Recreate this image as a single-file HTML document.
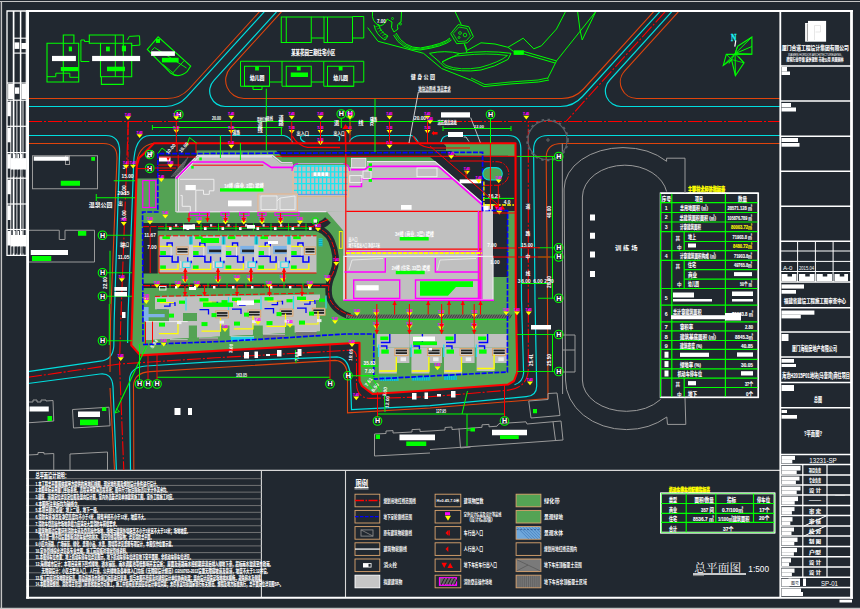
<!DOCTYPE html>
<html lang="zh"><head><meta charset="utf-8"><title>总平面图</title>
<style>
html,body{margin:0;padding:0;background:#212830;overflow:hidden}
svg{display:block}
text{font-family:"Liberation Sans","Noto Sans CJK SC",sans-serif}
.l{fill:none;stroke-width:1}
</style></head><body>
<svg width="860" height="609" viewBox="0 0 860 609">
<rect width="860" height="609" fill="#212830"/>
<!-- p20_bottom -->
<line x1="28" y1="470.4" x2="780" y2="470.4" stroke="#d8d8d8" stroke-width="1.2" />
<line x1="261.4" y1="470.4" x2="261.4" y2="597" stroke="#d8d8d8" stroke-width="1.1" />
<line x1="345.5" y1="470.4" x2="345.5" y2="597" stroke="#d8d8d8" stroke-width="1.1" />
<line x1="26" y1="478.7" x2="261.4" y2="478.7" stroke="#808080" stroke-width="0.85" />
<line x1="26" y1="485.42" x2="261.4" y2="485.42" stroke="#808080" stroke-width="0.85" />
<line x1="26" y1="492.14" x2="261.4" y2="492.14" stroke="#808080" stroke-width="0.85" />
<line x1="26" y1="498.86" x2="261.4" y2="498.86" stroke="#808080" stroke-width="0.85" />
<line x1="26" y1="505.58" x2="261.4" y2="505.58" stroke="#808080" stroke-width="0.85" />
<line x1="26" y1="512.3" x2="261.4" y2="512.3" stroke="#808080" stroke-width="0.85" />
<line x1="26" y1="519.02" x2="261.4" y2="519.02" stroke="#808080" stroke-width="0.85" />
<line x1="26" y1="525.74" x2="261.4" y2="525.74" stroke="#808080" stroke-width="0.85" />
<line x1="26" y1="532.46" x2="261.4" y2="532.46" stroke="#808080" stroke-width="0.85" />
<line x1="26" y1="539.18" x2="261.4" y2="539.18" stroke="#808080" stroke-width="0.85" />
<line x1="26" y1="545.9" x2="261.4" y2="545.9" stroke="#808080" stroke-width="0.85" />
<line x1="26" y1="552.62" x2="261.4" y2="552.62" stroke="#808080" stroke-width="0.85" />
<line x1="26" y1="559.34" x2="261.4" y2="559.34" stroke="#808080" stroke-width="0.85" />
<line x1="26" y1="566.06" x2="261.4" y2="566.06" stroke="#808080" stroke-width="0.85" />
<line x1="26" y1="572.78" x2="261.4" y2="572.78" stroke="#808080" stroke-width="0.85" />
<line x1="26" y1="579.5" x2="261.4" y2="579.5" stroke="#808080" stroke-width="0.85" />
<line x1="26" y1="586.22" x2="261.4" y2="586.22" stroke="#808080" stroke-width="0.85" />
<text x="35.5" y="478.1" font-size="7.2" fill="#ffffff" font-weight="bold" stroke="#fff" stroke-width="0.1" textLength="33.5" lengthAdjust="spacingAndGlyphs">总平面设计说明：</text>
<text x="35.5" y="485.5" font-size="5.9" fill="#ffffff" font-weight="bold" stroke="#fff" stroke-width="0.1" textLength="124.0" lengthAdjust="spacingAndGlyphs">1.本工程总平面图依据甲方提供的用地红线图、现状地形图及规划设计条件进行设计。</text>
<text x="35.5" y="492.22" font-size="5.9" fill="#ffffff" font-weight="bold" stroke="#fff" stroke-width="0.1" textLength="134.0" lengthAdjust="spacingAndGlyphs">2.本图坐标采用厦门坐标系统，高程采用黄海高程系统；图中尺寸标注除标高以米计外其余均。</text>
<text x="35.5" y="498.94" font-size="5.9" fill="#ffffff" font-weight="bold" stroke="#fff" stroke-width="0.1" textLength="140.0" lengthAdjust="spacingAndGlyphs">3.建筑、道路定位详见定位图及竖向设计图，室内外高差详见单体建筑施工图。室外工程施工时应。</text>
<text x="35.5" y="505.66" font-size="5.9" fill="#ffffff" font-weight="bold" stroke="#fff" stroke-width="0.1" textLength="45.5" lengthAdjust="spacingAndGlyphs">4.本图所注坐标均为轴线交。</text>
<text x="35.5" y="512.38" font-size="5.9" fill="#ffffff" font-weight="bold" stroke="#fff" stroke-width="0.1" textLength="64.5" lengthAdjust="spacingAndGlyphs">5.本项目耐火等级：地上二级，地下一级。</text>
<text x="35.5" y="519.1" font-size="5.9" fill="#ffffff" font-weight="bold" stroke="#fff" stroke-width="0.1" textLength="112.0" lengthAdjust="spacingAndGlyphs">6.消防车道净宽及净空高度均不小于4米，转弯半径不小于12米，坡度不大。</text>
<text x="35.5" y="525.82" font-size="5.9" fill="#ffffff" font-weight="bold" stroke="#fff" stroke-width="0.1" textLength="83.5" lengthAdjust="spacingAndGlyphs">7.消防车登高操作场地承载力应满足大型消防车荷载要求。</text>
<text x="35.5" y="532.54" font-size="5.9" fill="#ffffff" font-weight="bold" stroke="#fff" stroke-width="0.1" textLength="154.5" lengthAdjust="spacingAndGlyphs">8.建筑物周边设置环形消防车道及登高操作场地，场地与建筑外墙距离不小于5米且不大于10米；场地坡度。</text>
<text x="39.5" y="539.26" font-size="5.9" fill="#ffffff" font-weight="bold" stroke="#fff" stroke-width="0.1" textLength="114.0" lengthAdjust="spacingAndGlyphs">登高面一侧不得设置影响消防车操作的树木、架空管线等障碍物；详见消防总平面。</text>
<text x="35.5" y="545.98" font-size="5.9" fill="#ffffff" font-weight="bold" stroke="#fff" stroke-width="0.1" textLength="139.2" lengthAdjust="spacingAndGlyphs">9.小区内道路、广场铺装、绿化、景观小品、水景、围墙等详见景观专项设计，本图仅作位置示意。</text>
<text x="35.5" y="552.7" font-size="5.9" fill="#ffffff" font-weight="bold" stroke="#fff" stroke-width="0.1" textLength="93.8" lengthAdjust="spacingAndGlyphs">10.室外管线综合详见各专业总图，施工前应核对现状管线资料。</text>
<text x="35.5" y="559.42" font-size="5.9" fill="#ffffff" font-weight="bold" stroke="#fff" stroke-width="0.1" textLength="157.5" lengthAdjust="spacingAndGlyphs">11.本图停车位布置：地上机动车停车位详见图示，地下机动车停车位详见地下室平面图，非机动车停车位详见。</text>
<text x="35.5" y="566.14" font-size="5.9" fill="#ffffff" font-weight="bold" stroke="#fff" stroke-width="0.1" textLength="237.5" lengthAdjust="spacingAndGlyphs">12.海绵城市设计：本项目采用下凹式绿地、透水铺装、雨水调蓄池等低影响开发设施；      屋面及道路雨水经初期弃流后排入绿地下渗，超标雨水溢流至市政雨。</text>
<text x="41.6" y="572.86" font-size="5.9" fill="#ffffff" font-weight="bold" stroke="#fff" stroke-width="0.1" textLength="228.4" lengthAdjust="spacingAndGlyphs">无障碍设计：小区主要出入口、人行道、公共绿地及各单体入口均按《无障碍设计规范》GB50763-2012设置无障碍坡道及盲道，坡度不大于1:12并设。</text>
<text x="35.5" y="579.58" font-size="5.9" fill="#ffffff" font-weight="bold" stroke="#fff" stroke-width="0.1" textLength="228.5" lengthAdjust="spacingAndGlyphs">13.施工前应对场地现状标高、周边道路及市政接口标高进行复测，如与本图不符应及时通知设计单位协商处理；竖向设计应保证场地排水顺畅，避免积水及倒灌。</text>
<text x="35.5" y="586.3" font-size="5.9" fill="#ffffff" font-weight="bold" stroke="#fff" stroke-width="0.1" textLength="247.5" lengthAdjust="spacingAndGlyphs">14.本图须经规划、消防等主管部门审查批准后方可施工，施工中如有变更应征得设计单位同意；未尽事宜均按国家现行有关规范、规程及地方标准执行，总平面定位详见图SP-。</text>
<text x="355.5" y="486.5" font-size="9" fill="#ffffff" font-weight="bold" textLength="12.5" lengthAdjust="spacingAndGlyphs">图例</text>
<line x1="354.5" y1="487.6" x2="368.5" y2="487.6" stroke="#ffffff" stroke-width="1.2" />
<line x1="354.5" y1="489" x2="368.5" y2="489" stroke="#ffffff" stroke-width="0.6" />
<rect x="355" y="494.2" width="24.8" height="12.6" fill="none" stroke="#dca56e" stroke-width="0.9" />
<rect x="355" y="510.4" width="24.8" height="12.6" fill="none" stroke="#dca56e" stroke-width="0.9" />
<rect x="355" y="526.6" width="24.8" height="12.6" fill="none" stroke="#dca56e" stroke-width="0.9" />
<rect x="355" y="542.8" width="24.8" height="12.6" fill="none" stroke="#dca56e" stroke-width="0.9" />
<rect x="355" y="559.0" width="24.8" height="12.6" fill="none" stroke="#dca56e" stroke-width="0.9" />
<rect x="355" y="575.2" width="24.8" height="12.6" fill="#c6c6c6" stroke="#ffffff" stroke-width="0.9" />
<rect x="435.1" y="494.2" width="25.7" height="12.6" fill="none" stroke="#dca56e" stroke-width="0.9" />
<rect x="435.1" y="510.4" width="25.7" height="12.6" fill="none" stroke="#dca56e" stroke-width="0.9" />
<rect x="435.1" y="526.6" width="25.7" height="12.6" fill="none" stroke="#dca56e" stroke-width="0.9" />
<rect x="435.1" y="542.8" width="25.7" height="12.6" fill="none" stroke="#dca56e" stroke-width="0.9" />
<rect x="435.1" y="559.0" width="25.7" height="12.6" fill="none" stroke="#dca56e" stroke-width="0.9" />
<rect x="435.1" y="575.2" width="25.7" height="12.6" fill="none" stroke="#dca56e" stroke-width="0.9" />
<rect x="516.1" y="494.2" width="24.8" height="12.6" fill="#54a354" stroke="#dca56e" stroke-width="0.9" />
<rect x="516.1" y="510.4" width="24.8" height="12.6" fill="#54a354" stroke="#dca56e" stroke-width="0.9" />
<rect x="516.1" y="526.6" width="24.8" height="12.6" fill="#6fa8dc" stroke="#dca56e" stroke-width="0.9" />
<rect x="516.1" y="542.8" width="24.8" height="12.6" fill="none" stroke="#dca56e" stroke-width="0.9" />
<rect x="516.1" y="559.0" width="24.8" height="12.6" fill="#7a7a7a" stroke="#dca56e" stroke-width="0.9" />
<rect x="516.1" y="575.2" width="24.8" height="12.6" fill="#777777" stroke="#dca56e" stroke-width="0.9" />
<line x1="355" y1="500.5" x2="379.8" y2="500.5" stroke="#ff0000" stroke-width="1.6" stroke-dasharray="9 1.5 1.5 1.5"/>
<line x1="355" y1="516.7" x2="379.8" y2="516.7" stroke="#0000ff" stroke-width="1.3" stroke-dasharray="3.5 1.5"/>
<rect x="361" y="529.9" width="12" height="6.2" fill="none" stroke="#8a8a8a" stroke-width="0.9" />
<line x1="361" y1="529.9" x2="373" y2="536.1" stroke="#8a8a8a" stroke-width="0.8" />
<line x1="355" y1="549.1" x2="379.8" y2="549.1" stroke="#e8e8e8" stroke-width="1.4" />
<rect x="363" y="563.0999999999999" width="8.5" height="4.4" fill="#ffffff" />
<rect x="368.5" y="563.9" width="2.2" height="2.8" fill="#212830" />
<text x="436.5" y="502.3" font-size="3.6" fill="#ffffff" font-weight="bold" textLength="23" lengthAdjust="spacingAndGlyphs">H=0.45,7.0米</text>
<rect x="445" y="512.2" width="5" height="3" fill="#ff00ff" />
<path d="M445 515.7 L451 515.7 L448 520.7 Z" fill="#ffff00" stroke="none" stroke-width="0" />
<path d="M445.5 532.9 L448 530.3 L448 535.5 Z" fill="#ff0000" stroke="none" stroke-width="0" />
<rect x="448.4" y="530.3" width="1.4" height="5.2" fill="#ff0000" />
<path d="M445.5 549.1 L448.3 546.3000000000001 L448.3 551.9 Z" fill="#ff0000" stroke="none" stroke-width="0" />
<path d="M441.5 562.6999999999999 L447 562.6999999999999 L444.2 567.9 Z" fill="#ff0000" stroke="none" stroke-width="0" />
<path d="M447.5 567.9 L453 567.9 L450.2 562.6999999999999 Z" fill="#ff0000" stroke="none" stroke-width="0" />
<rect x="439.5" y="577.7" width="17" height="7.6" fill="#666" stroke="#ff00ff" stroke-width="1.2" />
<line x1="441.0" y1="584.9" x2="444.6" y2="578.1" stroke="#1a1a1a" stroke-width="0.9" />
<line x1="444.3" y1="584.9" x2="447.90000000000003" y2="578.1" stroke="#1a1a1a" stroke-width="0.9" />
<line x1="447.6" y1="584.9" x2="451.20000000000005" y2="578.1" stroke="#1a1a1a" stroke-width="0.9" />
<line x1="450.9" y1="584.9" x2="454.5" y2="578.1" stroke="#1a1a1a" stroke-width="0.9" />
<line x1="454.2" y1="584.9" x2="457.8" y2="578.1" stroke="#1a1a1a" stroke-width="0.9" />
<line x1="439.5" y1="584.8" x2="456.5" y2="584.8" stroke="#ff00ff" stroke-width="1" stroke-dasharray="1.5 1"/>
<line x1="517" y1="527.2" x2="529" y2="539.2" stroke="#3f77b8" stroke-width="0.7" />
<line x1="520" y1="527.2" x2="532" y2="539.2" stroke="#3f77b8" stroke-width="0.7" />
<line x1="523" y1="527.2" x2="535" y2="539.2" stroke="#3f77b8" stroke-width="0.7" />
<line x1="526" y1="527.2" x2="538" y2="539.2" stroke="#3f77b8" stroke-width="0.7" />
<line x1="529" y1="527.2" x2="540.4" y2="538.6" stroke="#3f77b8" stroke-width="0.7" />
<line x1="532" y1="527.2" x2="540.4" y2="535.6" stroke="#3f77b8" stroke-width="0.7" />
<line x1="535" y1="527.2" x2="540.4" y2="532.6" stroke="#3f77b8" stroke-width="0.7" />
<line x1="538" y1="527.2" x2="540.4" y2="529.6" stroke="#3f77b8" stroke-width="0.7" />
<line x1="541" y1="527.2" x2="540.4" y2="526.6" stroke="#3f77b8" stroke-width="0.7" />
<line x1="516.5" y1="529.6" x2="540.5" y2="529.6" stroke="#2a4f80" stroke-width="0.7" stroke-dasharray="2 1.5"/>
<line x1="516.5" y1="559.6" x2="540.5" y2="571.0" stroke="#555" stroke-width="0.7" />
<line x1="516.5" y1="571.0" x2="528" y2="565.0" stroke="#555" stroke-width="0.7" />
<line x1="518.0" y1="575.8000000000001" x2="518.0" y2="587.2" stroke="#555" stroke-width="0.6" />
<line x1="520.1" y1="575.8000000000001" x2="520.1" y2="587.2" stroke="#555" stroke-width="0.6" />
<line x1="522.2" y1="575.8000000000001" x2="522.2" y2="587.2" stroke="#555" stroke-width="0.6" />
<line x1="524.3" y1="575.8000000000001" x2="524.3" y2="587.2" stroke="#555" stroke-width="0.6" />
<line x1="526.4" y1="575.8000000000001" x2="526.4" y2="587.2" stroke="#555" stroke-width="0.6" />
<line x1="528.5" y1="575.8000000000001" x2="528.5" y2="587.2" stroke="#555" stroke-width="0.6" />
<line x1="530.6" y1="575.8000000000001" x2="530.6" y2="587.2" stroke="#555" stroke-width="0.6" />
<line x1="532.7" y1="575.8000000000001" x2="532.7" y2="587.2" stroke="#555" stroke-width="0.6" />
<line x1="534.8" y1="575.8000000000001" x2="534.8" y2="587.2" stroke="#555" stroke-width="0.6" />
<line x1="536.9" y1="575.8000000000001" x2="536.9" y2="587.2" stroke="#555" stroke-width="0.6" />
<line x1="539.0" y1="575.8000000000001" x2="539.0" y2="587.2" stroke="#555" stroke-width="0.6" />
<text x="383.4" y="502.5" font-size="5.4" fill="#ffffff" font-weight="bold" textLength="32.6" lengthAdjust="spacingAndGlyphs">规划用地红线范围线</text>
<text x="383.4" y="518.7" font-size="5.4" fill="#ffffff" font-weight="bold" textLength="28.6" lengthAdjust="spacingAndGlyphs">地下室轮廓线范围</text>
<text x="383.4" y="534.9" font-size="5.4" fill="#ffffff" font-weight="bold" textLength="28.6" lengthAdjust="spacingAndGlyphs">原有建筑物轮廓线</text>
<text x="383.4" y="551.1" font-size="5.4" fill="#ffffff" font-weight="bold" textLength="23.6" lengthAdjust="spacingAndGlyphs">建筑物轮廓线</text>
<text x="383.4" y="567.3" font-size="5.4" fill="#ffffff" font-weight="bold" textLength="13.6" lengthAdjust="spacingAndGlyphs">消火栓</text>
<text x="383.4" y="583.5" font-size="5.4" fill="#ffffff" font-weight="bold" textLength="19.0" lengthAdjust="spacingAndGlyphs">拟建建筑物</text>
<text x="463.8" y="502.5" font-size="5.4" fill="#ffffff" font-weight="bold" textLength="19.7" lengthAdjust="spacingAndGlyphs">建筑物层数</text>
<text x="463.8" y="515.9000000000001" font-size="5" fill="#ffffff" font-weight="bold" textLength="37.5" lengthAdjust="spacingAndGlyphs">室外设计标高及设计等高线</text>
<text x="469.5" y="521.3000000000001" font-size="4.6" fill="#ffffff" font-weight="bold" textLength="23" lengthAdjust="spacingAndGlyphs">(设计标高值)</text>
<text x="463.8" y="534.9" font-size="5.4" fill="#ffffff" font-weight="bold" textLength="19.2" lengthAdjust="spacingAndGlyphs">车行出入口</text>
<text x="463.8" y="551.1" font-size="5.4" fill="#ffffff" font-weight="bold" textLength="19.2" lengthAdjust="spacingAndGlyphs">人行出入口</text>
<text x="463.8" y="567.3" font-size="5.4" fill="#ffffff" font-weight="bold" textLength="33.2" lengthAdjust="spacingAndGlyphs">地下车库车行出入口</text>
<text x="463.8" y="583.5" font-size="5.4" fill="#ffffff" font-weight="bold" textLength="28.2" lengthAdjust="spacingAndGlyphs">消防登高操作场地</text>
<text x="544" y="502.5" font-size="5.4" fill="#ffffff" font-weight="bold" textLength="15.6" lengthAdjust="spacingAndGlyphs">绿化带</text>
<text x="544" y="518.7" font-size="5.4" fill="#ffffff" font-weight="bold" textLength="19" lengthAdjust="spacingAndGlyphs">景观绿地</text>
<text x="544" y="534.9" font-size="5.4" fill="#ffffff" font-weight="bold" textLength="19" lengthAdjust="spacingAndGlyphs">景观水体</text>
<text x="544" y="551.1" font-size="5.4" fill="#ffffff" font-weight="bold" textLength="33" lengthAdjust="spacingAndGlyphs">规划用地红线范围内</text>
<text x="544" y="567.3" font-size="5.4" fill="#ffffff" font-weight="bold" textLength="37.7" lengthAdjust="spacingAndGlyphs">地下车库顶板覆土范围</text>
<text x="544" y="583.5" font-size="5.4" fill="#ffffff" font-weight="bold" textLength="42.8" lengthAdjust="spacingAndGlyphs">地下车库非顶板覆土区域</text>
<!-- p30_tables -->
<text x="669" y="491.6" font-size="6" fill="#ffff00" font-weight="bold" lengthAdjust="spacingAndGlyphs" stroke="#ffff00" stroke-width="0.45" textLength="41">机动车停车位配建指标表</text>
<rect x="661.2" y="493.5" width="113.2" height="39" fill="none" stroke="#ffffff" stroke-width="1.6" />
<line x1="661.2" y1="503.5" x2="774.4" y2="503.5" stroke="#00ff00" stroke-width="1.2" />
<line x1="661.2" y1="513.3" x2="774.4" y2="513.3" stroke="#00ff00" stroke-width="1.2" />
<line x1="661.2" y1="522.4" x2="774.4" y2="522.4" stroke="#00ff00" stroke-width="1.2" />
<line x1="686.2" y1="493.5" x2="686.2" y2="532.5" stroke="#00ff00" stroke-width="1.2" />
<line x1="715.8" y1="493.5" x2="715.8" y2="522.4" stroke="#00ff00" stroke-width="1.2" />
<line x1="753.5" y1="493.5" x2="753.5" y2="522.4" stroke="#00ff00" stroke-width="1.2" />
<rect x="661.2" y="493.5" width="113.2" height="39" fill="none" stroke="#00ff00" stroke-width="0.7" />
<rect x="660.6" y="492.9" width="114.4" height="40.2" fill="none" stroke="#ffffff" stroke-width="0.8" />
<text x="669" y="502.1" font-size="5.9" fill="#ffffff" font-weight="bold" lengthAdjust="spacingAndGlyphs" stroke="#ffffff" stroke-width="0.12" textLength="8">类型</text>
<text x="694.4" y="502.1" font-size="5.9" fill="#ffffff" font-weight="bold" lengthAdjust="spacingAndGlyphs" stroke="#ffffff" stroke-width="0.12" textLength="19.4">面积/数量</text>
<text x="727" y="502.1" font-size="5.9" fill="#ffffff" font-weight="bold" lengthAdjust="spacingAndGlyphs" stroke="#ffffff" stroke-width="0.12" textLength="9">指标</text>
<text x="757" y="502.1" font-size="5.9" fill="#ffffff" font-weight="bold" lengthAdjust="spacingAndGlyphs" stroke="#ffffff" stroke-width="0.12" textLength="13">停车位</text>
<text x="669" y="511.5" font-size="5.9" fill="#ffffff" font-weight="bold" lengthAdjust="spacingAndGlyphs" stroke="#ffffff" stroke-width="0.12" textLength="8">商业</text>
<text x="701" y="511.5" font-size="5.9" fill="#ffffff" font-weight="bold" lengthAdjust="spacingAndGlyphs" stroke="#ffffff" stroke-width="0.12" textLength="12.8">357 间</text>
<text x="722" y="511.5" font-size="5.9" fill="#ffffff" font-weight="bold" lengthAdjust="spacingAndGlyphs" stroke="#ffffff" stroke-width="0.12" textLength="21">0.7/100㎡</text>
<text x="759.3" y="511.5" font-size="5.9" fill="#ffffff" font-weight="bold" lengthAdjust="spacingAndGlyphs" stroke="#ffffff" stroke-width="0.12" textLength="10.3">17个</text>
<text x="669" y="521.0999999999999" font-size="5.9" fill="#ffffff" font-weight="bold" lengthAdjust="spacingAndGlyphs" stroke="#ffffff" stroke-width="0.12" textLength="8">住宅</text>
<text x="693" y="521.0999999999999" font-size="5.9" fill="#ffffff" font-weight="bold" lengthAdjust="spacingAndGlyphs" stroke="#ffffff" stroke-width="0.12" textLength="20.8">8536.7 ㎡</text>
<text x="718" y="521.0999999999999" font-size="5.9" fill="#ffffff" font-weight="bold" lengthAdjust="spacingAndGlyphs" stroke="#ffffff" stroke-width="0.12" textLength="31.4">1/100㎡建筑面积</text>
<text x="759" y="520.0999999999999" font-size="5.9" fill="#ffffff" font-weight="bold" lengthAdjust="spacingAndGlyphs" stroke="#ffffff" stroke-width="0.12" textLength="10.3">20个</text>
<text x="669" y="530.5" font-size="5.9" fill="#ffffff" font-weight="bold" lengthAdjust="spacingAndGlyphs" stroke="#ffffff" stroke-width="0.12" textLength="8">合计</text>
<text x="723" y="530.5" font-size="5.9" fill="#ffffff" font-weight="bold" lengthAdjust="spacingAndGlyphs" stroke="#ffffff" stroke-width="0.12" textLength="10.5">37个</text>
<text x="694.2" y="572" font-size="11.8" fill="#ffffff" style="font-family:'Liberation Serif','Noto Serif CJK SC',serif" textLength="47" lengthAdjust="spacingAndGlyphs">总平面图</text>
<line x1="693" y1="574.1" x2="746" y2="574.1" stroke="#ffffff" stroke-width="1.5" />
<line x1="693" y1="575.6" x2="704" y2="575.6" stroke="#aaa" stroke-width="0.7" />
<text x="748.3" y="572" font-size="9" fill="#ffffff" textLength="20.7" lengthAdjust="spacingAndGlyphs">1:500</text>
<text x="688" y="191.9" font-size="6.4" fill="#ffff00" font-weight="bold" lengthAdjust="spacingAndGlyphs" stroke="#ffff00" stroke-width="0.45" textLength="37">主要技术经济指标表</text>
<rect x="660.5" y="193.2" width="97.79999999999995" height="204.2" fill="none" stroke="#ffffff" stroke-width="1.5" />
<line x1="660.5" y1="202.7" x2="758.3" y2="202.7" stroke="#00ff00" stroke-width="1.2" />
<line x1="660.5" y1="212.5" x2="758.3" y2="212.5" stroke="#00ff00" stroke-width="1.2" />
<line x1="660.5" y1="222" x2="758.3" y2="222" stroke="#00ff00" stroke-width="1.2" />
<line x1="660.5" y1="231.7" x2="758.3" y2="231.7" stroke="#00ff00" stroke-width="1.2" />
<line x1="660.5" y1="250.6" x2="758.3" y2="250.6" stroke="#00ff00" stroke-width="1.2" />
<line x1="660.5" y1="260.3" x2="758.3" y2="260.3" stroke="#00ff00" stroke-width="1.2" />
<line x1="660.5" y1="288.5" x2="758.3" y2="288.5" stroke="#00ff00" stroke-width="1.2" />
<line x1="660.5" y1="305.2" x2="758.3" y2="305.2" stroke="#00ff00" stroke-width="1.2" />
<line x1="660.5" y1="321.8" x2="758.3" y2="321.8" stroke="#00ff00" stroke-width="1.2" />
<line x1="660.5" y1="330.9" x2="758.3" y2="330.9" stroke="#00ff00" stroke-width="1.2" />
<line x1="660.5" y1="340.5" x2="758.3" y2="340.5" stroke="#00ff00" stroke-width="1.2" />
<line x1="660.5" y1="349.4" x2="758.3" y2="349.4" stroke="#00ff00" stroke-width="1.2" />
<line x1="660.5" y1="359.3" x2="758.3" y2="359.3" stroke="#00ff00" stroke-width="1.2" />
<line x1="660.5" y1="368.8" x2="758.3" y2="368.8" stroke="#00ff00" stroke-width="1.2" />
<line x1="660.5" y1="378.2" x2="758.3" y2="378.2" stroke="#00ff00" stroke-width="1.2" />
<line x1="684.2" y1="241.5" x2="758.3" y2="241.5" stroke="#00ff00" stroke-width="1.2" />
<line x1="684.2" y1="269.7" x2="758.3" y2="269.7" stroke="#00ff00" stroke-width="1.2" />
<line x1="684.2" y1="279.2" x2="758.3" y2="279.2" stroke="#00ff00" stroke-width="1.2" />
<line x1="684.2" y1="387.5" x2="758.3" y2="387.5" stroke="#00ff00" stroke-width="1.2" />
<line x1="671.8" y1="193.2" x2="671.8" y2="397.4" stroke="#00ff00" stroke-width="1.2" />
<line x1="725.4" y1="193.2" x2="725.4" y2="397.4" stroke="#00ff00" stroke-width="1.2" />
<line x1="684.2" y1="231.7" x2="684.2" y2="250.6" stroke="#00ff00" stroke-width="1.2" />
<line x1="684.2" y1="260.3" x2="684.2" y2="288.5" stroke="#00ff00" stroke-width="1.2" />
<line x1="684.2" y1="378.2" x2="684.2" y2="397.4" stroke="#00ff00" stroke-width="1.2" />
<line x1="660.5" y1="193.2" x2="660.5" y2="397.4" stroke="#00ff00" stroke-width="1" />
<line x1="660.5" y1="193.2" x2="758.3" y2="193.2" stroke="#ffffff" stroke-width="1.3" />
<line x1="758.3" y1="193.2" x2="758.3" y2="397.4" stroke="#ffffff" stroke-width="1.3" />
<line x1="660.5" y1="397.4" x2="758.3" y2="397.4" stroke="#ffffff" stroke-width="1.3" />
<text x="661.8" y="200.5" font-size="5.9" fill="#ffffff" font-weight="bold" lengthAdjust="spacingAndGlyphs" stroke="#ffffff" stroke-width="0.12" textLength="9.2">序号</text>
<text x="695" y="200.5" font-size="6.1000000000000005" fill="#ffffff" font-weight="bold" lengthAdjust="spacingAndGlyphs" stroke="#ffffff" stroke-width="0.12" textLength="8">项目</text>
<text x="738" y="200.5" font-size="5.9" fill="#ffffff" font-weight="bold" lengthAdjust="spacingAndGlyphs" stroke="#ffffff" stroke-width="0.12" textLength="9">数量</text>
<text x="664.7" y="209.8" font-size="5.2" fill="#ffffff" font-weight="bold">1</text>
<text x="680" y="210.10000000000002" font-size="6.1000000000000005" fill="#ffffff" font-weight="bold" lengthAdjust="spacingAndGlyphs" stroke="#ffffff" stroke-width="0.12" textLength="28">总用地面积 (㎡)</text>
<text x="727.5" y="210.10000000000002" font-size="5.9" fill="#ffffff" font-weight="bold" lengthAdjust="spacingAndGlyphs" stroke="#ffffff" stroke-width="0.12" textLength="24.5">28571.128 ㎡</text>
<text x="664.7" y="219.4" font-size="5.2" fill="#ffffff" font-weight="bold">2</text>
<text x="679.5" y="219.70000000000002" font-size="6.1000000000000005" fill="#ffffff" font-weight="bold" lengthAdjust="spacingAndGlyphs" stroke="#ffffff" stroke-width="0.12" textLength="36.5">总建筑面积面积 (㎡)</text>
<text x="727.5" y="219.70000000000002" font-size="5.9" fill="#ffffff" font-weight="bold" lengthAdjust="spacingAndGlyphs" stroke="#ffffff" stroke-width="0.12" textLength="24.5">105876.789 ㎡</text>
<text x="664.7" y="229" font-size="5.2" fill="#ffffff" font-weight="bold">3</text>
<text x="680" y="229.3" font-size="6.1000000000000005" fill="#ffffff" font-weight="bold" lengthAdjust="spacingAndGlyphs" stroke="#ffffff" stroke-width="0.12" textLength="21">计容建筑面积</text>
<text x="731" y="229.3" font-size="5.9" fill="#ffff00" font-weight="bold" lengthAdjust="spacingAndGlyphs" stroke="#ffff00" stroke-width="0.12" textLength="21">80003.72㎡</text>
<text x="688" y="238.9" font-size="6.1000000000000005" fill="#ffffff" font-weight="bold" lengthAdjust="spacingAndGlyphs" stroke="#ffffff" stroke-width="0.12" textLength="8">地上</text>
<text x="732.5" y="238.9" font-size="5.9" fill="#ffffff" font-weight="bold" lengthAdjust="spacingAndGlyphs" stroke="#ffffff" stroke-width="0.12" textLength="19.5">71903.8 ㎡</text>
<rect x="688" y="243.5" width="8" height="4.0" fill="#ffffff" />
<text x="733" y="248.3" font-size="5.9" fill="#ffff00" font-weight="bold" lengthAdjust="spacingAndGlyphs" stroke="#ffff00" stroke-width="0.12" textLength="19">8480.72㎡</text>
<text x="664.7" y="257.6" font-size="5.2" fill="#ffffff" font-weight="bold">4</text>
<text x="680" y="257.90000000000003" font-size="6.1000000000000005" fill="#ffffff" font-weight="bold" lengthAdjust="spacingAndGlyphs" stroke="#ffffff" stroke-width="0.12" textLength="36">计容建筑面积构成 (㎡)</text>
<text x="734" y="257.90000000000003" font-size="5.9" fill="#ffffff" font-weight="bold" lengthAdjust="spacingAndGlyphs" stroke="#ffffff" stroke-width="0.12" textLength="18">71903.8㎡</text>
<text x="688" y="267.3" font-size="6.1000000000000005" fill="#ffffff" font-weight="bold" lengthAdjust="spacingAndGlyphs" stroke="#ffffff" stroke-width="0.12" textLength="8">住宅</text>
<text x="734" y="267.3" font-size="5.9" fill="#ffffff" font-weight="bold" lengthAdjust="spacingAndGlyphs" stroke="#ffffff" stroke-width="0.12" textLength="18">49765.8㎡</text>
<text x="688" y="276.90000000000003" font-size="6.1000000000000005" fill="#ffffff" font-weight="bold" lengthAdjust="spacingAndGlyphs" stroke="#ffffff" stroke-width="0.12" textLength="9">商业</text>
<rect x="734" y="272.1" width="18" height="4.0" fill="#ffffff" />
<text x="688" y="286.3" font-size="6.1000000000000005" fill="#ffffff" font-weight="bold" lengthAdjust="spacingAndGlyphs" stroke="#ffffff" stroke-width="0.12" textLength="11">幼儿园</text>
<text x="740" y="286.3" font-size="5.9" fill="#ffffff" font-weight="bold" lengthAdjust="spacingAndGlyphs" stroke="#ffffff" stroke-width="0.12" textLength="12">50个 ㎡</text>
<text x="675.5" y="239.5" font-size="4.6" fill="#ffffff" font-weight="bold">其</text>
<text x="677" y="248.5" font-size="4.6" fill="#ffffff" font-weight="bold">中</text>
<text x="675.5" y="268" font-size="4.6" fill="#ffffff" font-weight="bold">其</text>
<text x="677" y="285.5" font-size="4.6" fill="#ffffff" font-weight="bold">中</text>
<text x="675.5" y="386" font-size="4.6" fill="#ffffff" font-weight="bold">其</text>
<text x="677" y="396" font-size="4.6" fill="#ffffff" font-weight="bold">中</text>
<text x="664.7" y="299.5" font-size="5.2" fill="#ffffff" font-weight="bold">5</text>
<rect x="673" y="292.5" width="21" height="5.0" fill="#ffffff" />
<rect x="673" y="299" width="39" height="2.5" fill="#ffffff" />
<rect x="732" y="291.5" width="21" height="4.5" fill="#ffffff" />
<rect x="732" y="299" width="21" height="2.5" fill="#ffffff" />
<text x="664.7" y="316" font-size="5.2" fill="#ffffff" font-weight="bold">6</text>
<text x="673" y="313.8" font-size="6.1000000000000005" fill="#ffffff" font-weight="bold" lengthAdjust="spacingAndGlyphs" stroke="#ffffff" stroke-width="0.12" textLength="28.5">总计容建筑面积</text>
<rect x="671" y="315.2" width="55" height="4.0" fill="#ffffff" />
<rect x="725" y="313" width="16" height="7.5" fill="#ffffff" />
<text x="732" y="316.3" font-size="5.9" fill="#ffffff" font-weight="bold" lengthAdjust="spacingAndGlyphs" stroke="#ffffff" stroke-width="0.12" textLength="21">71903.8 ㎡</text>
<text x="664.4" y="329.1" font-size="6" fill="#ffffff" font-weight="bold">7</text>
<text x="680" y="329.1" font-size="6.1000000000000005" fill="#ffffff" font-weight="bold" lengthAdjust="spacingAndGlyphs" stroke="#ffffff" stroke-width="0.12" textLength="13">容积率</text>
<text x="745" y="329.1" font-size="5.9" fill="#ffffff" font-weight="bold" lengthAdjust="spacingAndGlyphs" stroke="#ffffff" stroke-width="0.12" textLength="8">2.80</text>
<text x="664.4" y="338.7" font-size="6" fill="#ffffff" font-weight="bold">8</text>
<text x="680" y="338.7" font-size="6.1000000000000005" fill="#ffffff" font-weight="bold" lengthAdjust="spacingAndGlyphs" stroke="#ffffff" stroke-width="0.12" textLength="36">建筑基底面积 (㎡)</text>
<text x="735" y="338.7" font-size="5.9" fill="#ffffff" font-weight="bold" lengthAdjust="spacingAndGlyphs" stroke="#ffffff" stroke-width="0.12" textLength="18">8845.3㎡</text>
<text x="664.4" y="347.90000000000003" font-size="6" fill="#ffffff" font-weight="bold">9</text>
<text x="680" y="347.90000000000003" font-size="6.1000000000000005" fill="#ffffff" font-weight="bold" lengthAdjust="spacingAndGlyphs" stroke="#ffffff" stroke-width="0.12" textLength="22">建筑密度 (%)</text>
<text x="741" y="347.90000000000003" font-size="5.9" fill="#ffffff" font-weight="bold" lengthAdjust="spacingAndGlyphs" stroke="#ffffff" stroke-width="0.12" textLength="12">40.85</text>
<rect x="664.5" y="351.7" width="4.0" height="6.0" fill="#ffffff" />
<rect x="680" y="352.7" width="29" height="4.2" fill="#ffffff" />
<rect x="737" y="352.4" width="16" height="4.3" fill="#ffffff" />
<rect x="664.5" y="361.1" width="4.0" height="6.0" fill="#ffffff" />
<text x="680" y="366.90000000000003" font-size="6.1000000000000005" fill="#ffffff" font-weight="bold" lengthAdjust="spacingAndGlyphs" stroke="#ffffff" stroke-width="0.12" textLength="21">绿地率 (%)</text>
<text x="741" y="366.90000000000003" font-size="5.9" fill="#ffffff" font-weight="bold" lengthAdjust="spacingAndGlyphs" stroke="#ffffff" stroke-width="0.12" textLength="12">30.05</text>
<rect x="664.5" y="370.5" width="4.0" height="6.0" fill="#ffffff" />
<text x="677.5" y="376.3" font-size="6.1000000000000005" fill="#ffffff" font-weight="bold" lengthAdjust="spacingAndGlyphs" stroke="#ffffff" stroke-width="0.12" textLength="24.5">机动车停车位</text>
<rect x="741" y="371.2" width="12" height="4.3" fill="#ffffff" />
<rect x="688" y="381.1" width="8" height="4.2" fill="#ffffff" />
<text x="745" y="385.90000000000003" font-size="5.9" fill="#ffffff" font-weight="bold" lengthAdjust="spacingAndGlyphs" stroke="#ffffff" stroke-width="0.12" textLength="8">37个</text>
<text x="688" y="395.5" font-size="6.1000000000000005" fill="#ffffff" font-weight="bold" lengthAdjust="spacingAndGlyphs" stroke="#ffffff" stroke-width="0.12" textLength="9">地下</text>
<text x="746" y="395.5" font-size="5.9" fill="#ffffff" font-weight="bold" lengthAdjust="spacingAndGlyphs" stroke="#ffffff" stroke-width="0.12" textLength="7">0个</text>
<!-- p40_roads -->
<path d="M28 98.5 L167.3 98.5 A29.5 29.5 0 0 0 189 89 L259.3 11.9" fill="none" stroke="#e0440c" stroke-width="1.1" />
<path d="M28 106.5 L166 106.5 A29 29 0 0 0 186.5 97.2 L264.2 11.9" fill="none" stroke="#00dede" stroke-width="1.2" />
<path d="M276.5 11.9 L214 80.4 A15.4 15.4 0 0 0 225.5 106.5 L560 106.5 A30 30 0 0 0 582.5 96.5 L659.6 11.9" fill="none" stroke="#00dede" stroke-width="1.2" />
<path d="M281.4 11.9 L230.4 67.9 A18.3 18.3 0 0 0 244 98.5 L560.8 98.5 A30 30 0 0 0 583.5 89 L653.5 11.9" fill="none" stroke="#e0440c" stroke-width="1.1" />
<path d="M671.6 11.9 L609.8 80 A15.6 15.6 0 0 0 621.3 106.5 L780 106.5" fill="none" stroke="#00dede" stroke-width="1.2" />
<path d="M678.3 11.9 L624.5 71.2 A16.4 16.4 0 0 0 636.7 98.5 L780 98.5" fill="none" stroke="#e0440c" stroke-width="1.1" />
<line x1="28" y1="121.5" x2="780" y2="121.5" stroke="#ff0000" stroke-width="1.1" stroke-dasharray="14 2 2 2"/>
<path d="M665 11.9 L566 121.5" fill="none" stroke="#ff0000" stroke-width="1.1" stroke-dasharray="14 2 2 2"/>
<path d="M28 135.5 L106 135.5 Q119.8 135.5 119.6 152 L114.2 320 L113.8 346 Q113 360 100 361.2 L28 371.6" fill="none" stroke="#00dede" stroke-width="1.2" />
<path d="M28 143.5 L103 143.5 Q117.3 143.5 117 158 L110.5 320 L110 348 Q109 364 96 366 L28 376" fill="none" stroke="#e0440c" stroke-width="1.1" opacity="0"/>
<path d="M28 143.5 L103 143.5 Q117.3 143.5 117 158 L110.5 320 L110 372" fill="none" stroke="#e0440c" stroke-width="1.1" />
<path d="M127.6 343 L127.9 320 L133.6 165 Q134.2 136 150 135.5 L284 135.5 Q290 137 293 143 L298 150" fill="none" stroke="#00dede" stroke-width="1.2" />
<path d="M305.5 142.5 Q300 140 300.5 137 Q301 135.5 305 135.5 L337 135.5 Q341 136 339 141" fill="none" stroke="#00dede" stroke-width="1.2" />
<path d="M349.3 141.8 Q352 136 360.3 135.5 L411.4 135.5 Q416.5 137 419.2 145" fill="none" stroke="#00dede" stroke-width="1.2" />
<path d="M441 142 Q442 136 448 135.5 L508 135.5 Q520.5 135.5 520.8 148 L521.5 300 L523.6 373 Q523 382 514.5 384.8" fill="none" stroke="#00dede" stroke-width="1.2" />
<path d="M780 135.5 L548 135.5 Q533.5 135.5 533.6 150 L535 300 L536.7 386 Q536.5 396 526.3 396.6 L430 405.6 L351.5 409.5 L350.5 379 Q350 358 337 356.8 L215 361.6 L146 366 Q130 367 129.5 380 L130.5 470" fill="none" stroke="#00dede" stroke-width="1.2" />
<path d="M780 143.5 L562 143.5 Q546 143.5 546.2 158 L547.5 304 L548 398.5 L430 408 L347.5 412.8 L347.5 376.5 Q347 361 335 360.4 L215 367.8 L150 371.6 Q134 372.6 133.5 386 L133.8 470" fill="none" stroke="#e0440c" stroke-width="1.1" />
<path d="M136.3 166 Q137.5 146 153.6 143.3" fill="none" stroke="#e0440c" stroke-width="1.1" />
<path d="M128.3 121.5 L120.8 320 L119.5 364 L123.8 470" fill="none" stroke="#ff0000" stroke-width="1.1" stroke-dasharray="14 2 2 2"/>
<path d="M28 383.5 L100 374 Q112 372.4 113 386.5 L116.4 470" fill="none" stroke="#00dede" stroke-width="1.2" />
<path d="M28 377.3 L119.5 364 L215 357.8 L350 350.2 Q356.5 350 356.5 357 L356.5 384 Q357 398 370 398.4 L430 396.8 L505 390.5 Q528.3 389 528.3 368 L528.3 121.5" fill="none" stroke="#ff0000" stroke-width="1.1" stroke-dasharray="14 2 2 2"/>
<path d="M110 388 L114.5 470" fill="none" stroke="#e0440c" stroke-width="1.1" />
<!-- p50_site -->
<path d="M154 143.3 L515.5 143.3 L515.8 300 L517.3 372 L514 381 L508 384.5 L430 390.3 L372.5 394 L362 386 L359.5 381 L359.5 342.8 L285 346.9 L225 350.4 L140.3 355.4 L131.3 345.3 L136.8 166 L139 158 L144 153.4 Z" fill="#54a354" stroke="none" stroke-width="0" />
<path d="M154 143.3 L196 143.3 L196 152 L197 156 L176 178.6 L159 178.6 L137 178.6 L136.8 166 L139 158 L144 153.4 Z" fill="#212830" stroke="none" stroke-width="0" />
<rect x="196" y="143.3" width="250" height="7.1" fill="#212830" />
<path d="M276 150.4 L436 150.4 L443 157.2 L282 157.2 Z" fill="#212830" stroke="none" stroke-width="0" />
<path d="M436 151 L482 151 L482 152.5 L508 152.5 L508 210.5 L482.6 210.5 L482.6 203.7 L441 166 L430 157 Z" fill="#212830" stroke="none" stroke-width="0" />
<path d="M443 143.3 L515.5 143.3 L515.5 155.7 L456 155.7 Z" fill="#54a354" stroke="none" stroke-width="0" />
<rect x="507.6" y="156" width="7.9" height="55" fill="#212830" />
<rect x="493" y="210.5" width="14.6" height="66.5" fill="#212830" />
<rect x="142.6" y="227.5" width="15.1" height="46.0" fill="#212830" />
<path d="M143 226.9 L312 226.9 Q322 226.5 328 220" fill="none" stroke="#212830" stroke-width="7.8" />
<path d="M312 226.8 Q326 229 331.5 241 Q339 259 333 273 Q326.5 286 329.5 298 Q334 311 350 316.5" fill="none" stroke="#212830" stroke-width="6.5" />
<path d="M143 285.8 L328 285.8" fill="none" stroke="#212830" stroke-width="4.6" />
<!-- p55_bldg -->
<path d="M178 180 L178 177.6 L198.3 156.3 L272 156.3 L281 163.5 L293 163.5 L293 197 L347 197 L347 212 L326.5 211.4 L178 211.6 Z" fill="#c0c0c0" stroke="none" stroke-width="0" />
<path d="M346 167 L367 167 L367 161.8 L434.8 161.8 L482.6 203 L482.6 300 L343.2 300 L343.2 230.5 L326.5 211.2 L346 211.2 Z" fill="#c0c0c0" stroke="none" stroke-width="0" />
<rect x="482.6" y="204" width="10.4" height="96" fill="#cfcfcf" />
<rect x="351.5" y="158.3" width="14.4" height="9.2" fill="#c0c0c0" stroke="#eee" stroke-width="0.8" />
<path d="M293 196.4 L293 169 Q293.5 165 298 165 L343.5 165 Q348 165 348.5 169 L348.5 196.4 Z" fill="#c0c0c0" stroke="none" stroke-width="0" />
<line x1="297.8" y1="165.3" x2="297.8" y2="195" stroke="#19e6f0" stroke-width="1.3" />
<line x1="301.7" y1="165.3" x2="301.7" y2="195" stroke="#19e6f0" stroke-width="1.3" />
<line x1="306.3" y1="165.3" x2="306.3" y2="195" stroke="#19e6f0" stroke-width="1.3" />
<line x1="310.6" y1="165.3" x2="310.6" y2="195" stroke="#19e6f0" stroke-width="1.3" />
<line x1="314.7" y1="165.3" x2="314.7" y2="195" stroke="#19e6f0" stroke-width="1.3" />
<line x1="318.6" y1="165.3" x2="318.6" y2="195" stroke="#19e6f0" stroke-width="1.3" />
<line x1="322.5" y1="165.3" x2="322.5" y2="195" stroke="#19e6f0" stroke-width="1.3" />
<line x1="326.6" y1="165.3" x2="326.6" y2="195" stroke="#19e6f0" stroke-width="1.3" />
<line x1="330.7" y1="165.3" x2="330.7" y2="195" stroke="#19e6f0" stroke-width="1.3" />
<line x1="334.6" y1="165.3" x2="334.6" y2="195" stroke="#19e6f0" stroke-width="1.3" />
<line x1="338.5" y1="165.3" x2="338.5" y2="195" stroke="#19e6f0" stroke-width="1.3" />
<line x1="342.6" y1="165.3" x2="342.6" y2="195" stroke="#19e6f0" stroke-width="1.3" />
<line x1="294" y1="166" x2="347.5" y2="166" stroke="#19e6f0" stroke-width="1.3" />
<line x1="294" y1="171.9" x2="347.5" y2="171.9" stroke="#19e6f0" stroke-width="1.3" />
<line x1="294" y1="177.5" x2="347.5" y2="177.5" stroke="#19e6f0" stroke-width="1.3" />
<line x1="294" y1="183.6" x2="347.5" y2="183.6" stroke="#19e6f0" stroke-width="1.3" />
<line x1="294" y1="190.3" x2="347.5" y2="190.3" stroke="#19e6f0" stroke-width="1.3" />
<line x1="297" y1="194.4" x2="347" y2="194.4" stroke="#5a8ff0" stroke-width="1" />
<path d="M293 170 L293 196.8 L348.5 196.8 L348.5 170" fill="none" stroke="#f0b98c" stroke-width="1.1" />
<path d="M292 171 Q292 164 298 163.6" fill="none" stroke="#ff00ff" stroke-width="1.1" />
<path d="M343.5 163.6 Q349.5 164 349.5 171" fill="none" stroke="#ff00ff" stroke-width="1.1" />
<path d="M298 163.6 L343.5 163.6" fill="none" stroke="#c9a0e0" stroke-width="1" />
<rect x="313.6" y="172.3" width="2.9" height="3.8" fill="#ffffff" />
<rect x="317.5" y="172.3" width="2.9" height="3.8" fill="#ffffff" />
<rect x="321.40000000000003" y="172.3" width="2.9" height="3.8" fill="#ffffff" />
<rect x="325.3" y="172.3" width="2.9" height="3.8" fill="#ffffff" />
<!-- p60_resi -->
<rect x="159" y="235.8" width="157.5" height="37.0" fill="#c0c0c0" />
<path d="M167.1 246.4 v-3.4 h5.1 v3.4" fill="none" stroke="#0000ff" stroke-width="1.4" />
<path d="M159.0 256.2 h13.2 v5.8 h5.8 v-5.8" fill="none" stroke="#0000ff" stroke-width="1.5" />
<path d="M187.8 257.3 v5.2 h3.4 v-5.2" fill="none" stroke="#0000ff" stroke-width="1.4" />
<path d="M159.0 246.4 h13.2" fill="none" stroke="#ffff00" stroke-width="1.3" />
<path d="M159.0 269.40000000000003 h19 v-5.8" fill="none" stroke="#ffff00" stroke-width="1.3" />
<rect x="162.4" y="236.20000000000002" width="7.5" height="2.9" fill="#00ff00" />
<rect x="160.2" y="251.0" width="5.7" height="4" fill="#00ff00" />
<rect x="160.2" y="265.40000000000003" width="5.7" height="3.4" fill="#00ff00" />
<line x1="171.1" y1="247.3" x2="171.1" y2="255.8" stroke="#f0f0f0" stroke-width="0.8" />
<rect x="176.3" y="247" width="12.3" height="7.5" fill="#cfcfcf" stroke="#e0a060" stroke-width="0.9" />
<rect x="177.3" y="248.2" width="10.3" height="1.8" fill="#222" />
<rect x="177.3" y="250.8" width="10.3" height="1.8" fill="#222" />
<path d="M199.79999999999998 246.4 v-3.4 h5.1 v3.4" fill="none" stroke="#0000ff" stroke-width="1.4" />
<path d="M191.7 256.2 h13.2 v5.8 h5.8 v-5.8" fill="none" stroke="#0000ff" stroke-width="1.5" />
<path d="M220.5 257.3 v5.2 h3.4 v-5.2" fill="none" stroke="#0000ff" stroke-width="1.4" />
<path d="M191.7 246.4 h13.2" fill="none" stroke="#ffff00" stroke-width="1.3" />
<path d="M191.7 269.40000000000003 h19 v-5.8" fill="none" stroke="#ffff00" stroke-width="1.3" />
<rect x="195.1" y="236.20000000000002" width="7.5" height="2.9" fill="#00ff00" />
<rect x="192.89999999999998" y="251.0" width="5.7" height="4" fill="#00ff00" />
<rect x="192.89999999999998" y="265.40000000000003" width="5.7" height="3.4" fill="#00ff00" />
<line x1="203.79999999999998" y1="247.3" x2="203.79999999999998" y2="255.8" stroke="#f0f0f0" stroke-width="0.8" />
<rect x="207.3" y="245.9" width="15.8" height="8.1" fill="#7fb2e6" />
<rect x="209.10000000000002" y="249.6" width="12.200000000000001" height="2.6" fill="#222" />
<path d="M232.5 246.4 v-3.4 h5.1 v3.4" fill="none" stroke="#0000ff" stroke-width="1.4" />
<path d="M224.4 256.2 h13.2 v5.8 h5.8 v-5.8" fill="none" stroke="#0000ff" stroke-width="1.5" />
<path d="M253.20000000000002 257.3 v5.2 h3.4 v-5.2" fill="none" stroke="#0000ff" stroke-width="1.4" />
<path d="M224.4 246.4 h13.2" fill="none" stroke="#ffff00" stroke-width="1.3" />
<path d="M224.4 269.40000000000003 h19 v-5.8" fill="none" stroke="#ffff00" stroke-width="1.3" />
<rect x="227.8" y="236.20000000000002" width="7.5" height="2.9" fill="#00ff00" />
<rect x="225.6" y="251.0" width="5.7" height="4" fill="#00ff00" />
<rect x="225.6" y="265.40000000000003" width="5.7" height="3.4" fill="#00ff00" />
<line x1="236.5" y1="247.3" x2="236.5" y2="255.8" stroke="#f0f0f0" stroke-width="0.8" />
<rect x="240.20000000000002" y="245.9" width="15.8" height="8.1" fill="#7fb2e6" />
<rect x="242.00000000000003" y="249.6" width="12.200000000000001" height="2.6" fill="#222" />
<path d="M265.20000000000005 246.4 v-3.4 h5.1 v3.4" fill="none" stroke="#0000ff" stroke-width="1.4" />
<path d="M257.1 256.2 h13.2 v5.8 h5.8 v-5.8" fill="none" stroke="#0000ff" stroke-width="1.5" />
<path d="M285.90000000000003 257.3 v5.2 h3.4 v-5.2" fill="none" stroke="#0000ff" stroke-width="1.4" />
<path d="M257.1 246.4 h13.2" fill="none" stroke="#ffff00" stroke-width="1.3" />
<path d="M257.1 269.40000000000003 h19 v-5.8" fill="none" stroke="#ffff00" stroke-width="1.3" />
<rect x="260.5" y="236.20000000000002" width="7.5" height="2.9" fill="#00ff00" />
<rect x="258.3" y="251.0" width="5.7" height="4" fill="#00ff00" />
<rect x="258.3" y="265.40000000000003" width="5.7" height="3.4" fill="#00ff00" />
<line x1="269.20000000000005" y1="247.3" x2="269.20000000000005" y2="255.8" stroke="#f0f0f0" stroke-width="0.8" />
<rect x="273.1" y="245.9" width="15.8" height="8.1" fill="#7fb2e6" />
<rect x="274.90000000000003" y="249.6" width="12.200000000000001" height="2.6" fill="#222" />
<path d="M297.90000000000003 246.4 v-3.4 h5.1 v3.4" fill="none" stroke="#0000ff" stroke-width="1.4" />
<path d="M289.8 256.2 h13.2 v5.8 h5.8 v-5.8" fill="none" stroke="#0000ff" stroke-width="1.5" />
<path d="M289.8 246.4 h13.2" fill="none" stroke="#ffff00" stroke-width="1.3" />
<path d="M289.8 269.40000000000003 h19 v-5.8" fill="none" stroke="#ffff00" stroke-width="1.3" />
<rect x="293.2" y="236.20000000000002" width="7.5" height="2.9" fill="#00ff00" />
<rect x="291.0" y="251.0" width="5.7" height="4" fill="#00ff00" />
<rect x="291.0" y="265.40000000000003" width="5.7" height="3.4" fill="#00ff00" />
<line x1="301.90000000000003" y1="247.3" x2="301.90000000000003" y2="255.8" stroke="#f0f0f0" stroke-width="0.8" />
<rect x="304.5" y="247" width="11" height="7.5" fill="#cfcfcf" stroke="#e0a060" stroke-width="0.9" />
<rect x="305.5" y="248.2" width="9" height="1.8" fill="#222" />
<rect x="305.5" y="250.8" width="9" height="1.8" fill="#222" />
<rect x="189.1" y="236.3" width="3.6" height="8.4" fill="#19d0e0" />
<line x1="190.89999999999998" y1="236.3" x2="190.89999999999998" y2="244.7" stroke="#0a7f8a" stroke-width="0.6" />
<rect x="188.7" y="244.7" width="4.4" height="16" fill="#d2d2d2" />
<rect x="182.7" y="262" width="7.5" height="5.5" fill="#d8d8d8" stroke="#19e0f0" stroke-width="0.9" />
<line x1="180.7" y1="261" x2="180.7" y2="268" stroke="#eee" stroke-width="0.8" />
<rect x="221.8" y="236.3" width="3.6" height="8.4" fill="#19d0e0" />
<line x1="223.6" y1="236.3" x2="223.6" y2="244.7" stroke="#0a7f8a" stroke-width="0.6" />
<rect x="221.4" y="244.7" width="4.4" height="16" fill="#d2d2d2" />
<rect x="215.4" y="262" width="7.5" height="5.5" fill="#d8d8d8" stroke="#19e0f0" stroke-width="0.9" />
<line x1="213.4" y1="261" x2="213.4" y2="268" stroke="#eee" stroke-width="0.8" />
<rect x="254.50000000000003" y="236.3" width="3.6" height="8.4" fill="#19d0e0" />
<line x1="256.3" y1="236.3" x2="256.3" y2="244.7" stroke="#0a7f8a" stroke-width="0.6" />
<rect x="254.10000000000002" y="244.7" width="4.4" height="16" fill="#d2d2d2" />
<rect x="248.10000000000002" y="262" width="7.5" height="5.5" fill="#d8d8d8" stroke="#19e0f0" stroke-width="0.9" />
<line x1="246.10000000000002" y1="261" x2="246.10000000000002" y2="268" stroke="#eee" stroke-width="0.8" />
<rect x="287.2" y="236.3" width="3.6" height="8.4" fill="#19d0e0" />
<line x1="289.0" y1="236.3" x2="289.0" y2="244.7" stroke="#0a7f8a" stroke-width="0.6" />
<rect x="286.8" y="244.7" width="4.4" height="16" fill="#d2d2d2" />
<rect x="280.8" y="262" width="7.5" height="5.5" fill="#d8d8d8" stroke="#19e0f0" stroke-width="0.9" />
<line x1="278.8" y1="261" x2="278.8" y2="268" stroke="#eee" stroke-width="0.8" />
<rect x="318.6" y="238.4" width="3.9" height="7.9" fill="#19d0e0" />
<line x1="318.6" y1="239.6" x2="322.5" y2="239.6" stroke="#0a7f8a" stroke-width="0.5" />
<line x1="318.6" y1="241.5" x2="322.5" y2="241.5" stroke="#0a7f8a" stroke-width="0.5" />
<line x1="318.6" y1="243.4" x2="322.5" y2="243.4" stroke="#0a7f8a" stroke-width="0.5" />
<line x1="318.6" y1="245.29999999999998" x2="322.5" y2="245.29999999999998" stroke="#0a7f8a" stroke-width="0.5" />
<rect x="339.3" y="231.5" width="2.9" height="16.8" fill="#777" stroke="#ffff00" stroke-width="0.9" />
<rect x="201" y="238" width="18" height="5" fill="#00ff00" />
<rect x="268" y="241" width="10" height="3" fill="#ffffff" />
<line x1="159" y1="235.8" x2="316.5" y2="235.8" stroke="#ff0000" stroke-width="1" stroke-dasharray="5 2"/>
<line x1="159" y1="273" x2="316.5" y2="273" stroke="#ff0000" stroke-width="1.1" />
<line x1="159" y1="235.8" x2="159" y2="273" stroke="#ff0000" stroke-width="1" />
<path d="M155 296.8 L320 294.6 L320 331.4 L146 340.2 L146 322 L155 322 Z" fill="#c0c0c0" stroke="none" stroke-width="0" />
<path d="M188.8 325.5 L197 325.5 L197 345 L188.8 345 Z" fill="#54a354" stroke="none" stroke-width="0" />
<path d="M220 325.5 L229.5 325.5 L229.5 345 L220 345 Z" fill="#54a354" stroke="none" stroke-width="0" />
<path d="M253 325.5 L262.8 325.5 L262.8 345 L253 345 Z" fill="#54a354" stroke="none" stroke-width="0" />
<path d="M285 325.5 L294.6 325.5 L294.6 345 L285 345 Z" fill="#54a354" stroke="none" stroke-width="0" />
<rect x="183" y="313" width="14" height="8" fill="#54a354" />
<rect x="316" y="300" width="6" height="8" fill="#54a354" />
<path d="M146 340.2 L320 331.4 L320 336 L146 345 Z" fill="#54a354" stroke="none" stroke-width="0" />
<path d="M164 306.1 h6 v-3.2 h5 v3.2" fill="none" stroke="#0000ff" stroke-width="1.3" />
<path d="M157 310.1 h9 v5" fill="none" stroke="#0000ff" stroke-width="1.3" />
<path d="M159 333.6 h19 v-13" fill="none" stroke="#ffff00" stroke-width="1.2" />
<path d="M160 302.6 h14" fill="none" stroke="#ffff00" stroke-width="1.2" />
<rect x="157" y="298.6" width="9" height="3.4" fill="#00ff00" />
<rect x="159" y="322.6" width="6" height="4" fill="#00ff00" />
<rect x="169" y="313.6" width="5" height="4" fill="#00ff00" />
<rect x="177" y="321.1" width="4.5" height="3" fill="#eee" />
<line x1="186" y1="297.6" x2="186" y2="310.6" stroke="#29e0f0" stroke-width="1.2" />
<rect x="179" y="300.6" width="6" height="3.2" fill="#00ff00" />
<rect x="215.7" y="310.90000000000003" width="12.8" height="7" fill="#cfcfcf" stroke="#e0a060" stroke-width="0.9" />
<rect x="216.7" y="312.1" width="10.8" height="1.8" fill="#222" />
<rect x="216.7" y="314.70000000000005" width="10.8" height="1.8" fill="#222" />
<path d="M206.5 305.6 h6 v-3.2 h5 v3.2" fill="none" stroke="#0000ff" stroke-width="1.3" />
<path d="M199.5 309.6 h9 v5" fill="none" stroke="#0000ff" stroke-width="1.3" />
<path d="M201.5 331.20000000000005 h19 v-13" fill="none" stroke="#ffff00" stroke-width="1.2" />
<path d="M202.5 302.1 h14" fill="none" stroke="#ffff00" stroke-width="1.2" />
<rect x="199.5" y="298.1" width="9" height="3.4" fill="#00ff00" />
<rect x="201.5" y="322.1" width="6" height="4" fill="#00ff00" />
<rect x="211.5" y="313.1" width="5" height="4" fill="#00ff00" />
<rect x="219.5" y="320.6" width="4.5" height="3" fill="#eee" />
<line x1="228.5" y1="297.1" x2="228.5" y2="310.1" stroke="#29e0f0" stroke-width="1.2" />
<rect x="221.5" y="300.1" width="6" height="3.2" fill="#00ff00" />
<rect x="247.9" y="310.0" width="12.8" height="7" fill="#cfcfcf" stroke="#e0a060" stroke-width="0.9" />
<rect x="248.9" y="311.2" width="10.8" height="1.8" fill="#222" />
<rect x="248.9" y="313.8" width="10.8" height="1.8" fill="#222" />
<path d="M239 305.1 h6 v-3.2 h5 v3.2" fill="none" stroke="#0000ff" stroke-width="1.3" />
<path d="M232 309.1 h9 v5" fill="none" stroke="#0000ff" stroke-width="1.3" />
<path d="M234 328.8 h19 v-13" fill="none" stroke="#ffff00" stroke-width="1.2" />
<path d="M235 301.6 h14" fill="none" stroke="#ffff00" stroke-width="1.2" />
<rect x="232" y="297.6" width="9" height="3.4" fill="#00ff00" />
<rect x="234" y="321.6" width="6" height="4" fill="#00ff00" />
<rect x="244" y="312.6" width="5" height="4" fill="#00ff00" />
<rect x="252" y="320.1" width="4.5" height="3" fill="#eee" />
<line x1="261" y1="296.6" x2="261" y2="309.6" stroke="#29e0f0" stroke-width="1.2" />
<rect x="254" y="299.6" width="6" height="3.2" fill="#00ff00" />
<rect x="280.1" y="309.1" width="12.8" height="7" fill="#cfcfcf" stroke="#e0a060" stroke-width="0.9" />
<rect x="281.1" y="310.3" width="10.8" height="1.8" fill="#222" />
<rect x="281.1" y="312.90000000000003" width="10.8" height="1.8" fill="#222" />
<path d="M271.5 304.6 h6 v-3.2 h5 v3.2" fill="none" stroke="#0000ff" stroke-width="1.3" />
<path d="M264.5 308.6 h9 v5" fill="none" stroke="#0000ff" stroke-width="1.3" />
<path d="M266.5 326.40000000000003 h19 v-13" fill="none" stroke="#ffff00" stroke-width="1.2" />
<path d="M267.5 301.1 h14" fill="none" stroke="#ffff00" stroke-width="1.2" />
<rect x="264.5" y="297.1" width="9" height="3.4" fill="#00ff00" />
<rect x="266.5" y="321.1" width="6" height="4" fill="#00ff00" />
<rect x="276.5" y="312.1" width="5" height="4" fill="#00ff00" />
<rect x="284.5" y="319.6" width="4.5" height="3" fill="#eee" />
<line x1="293.5" y1="296.1" x2="293.5" y2="309.1" stroke="#29e0f0" stroke-width="1.2" />
<rect x="286.5" y="299.1" width="6" height="3.2" fill="#00ff00" />
<rect x="312.3" y="308.2" width="12.8" height="7" fill="#cfcfcf" stroke="#e0a060" stroke-width="0.9" />
<rect x="313.3" y="309.4" width="10.8" height="1.8" fill="#222" />
<rect x="313.3" y="312.0" width="10.8" height="1.8" fill="#222" />
<path d="M304 304.1 h6 v-3.2 h5 v3.2" fill="none" stroke="#0000ff" stroke-width="1.3" />
<path d="M297 308.1 h9 v5" fill="none" stroke="#0000ff" stroke-width="1.3" />
<path d="M299 324.0 h19 v-13" fill="none" stroke="#ffff00" stroke-width="1.2" />
<path d="M300 300.6 h14" fill="none" stroke="#ffff00" stroke-width="1.2" />
<rect x="297" y="296.6" width="9" height="3.4" fill="#00ff00" />
<rect x="299" y="320.6" width="6" height="4" fill="#00ff00" />
<rect x="309" y="311.6" width="5" height="4" fill="#00ff00" />
<rect x="317" y="319.1" width="4.5" height="3" fill="#eee" />
<line x1="326" y1="295.6" x2="326" y2="308.6" stroke="#29e0f0" stroke-width="1.2" />
<rect x="319" y="298.6" width="6" height="3.2" fill="#00ff00" />
<rect x="203" y="302.5" width="30" height="4.4" fill="#00ff00" />
<rect x="237" y="300.5" width="17" height="4.5" fill="#ffffff" />
<rect x="145" y="309.3" width="24" height="12.6" fill="#54a354" />
<path d="M143.4 307 h5.2 v6.9 h16.1 v3.4 h-16.1 v4 h-5.2 z" fill="#7fb2e6" stroke="none" stroke-width="0" />
<line x1="145" y1="321.6" x2="187.7" y2="321.6" stroke="#f4f4f4" stroke-width="0.9" />
<path d="M145.5 321.6 V345 M152.5 321.6 V345" fill="none" stroke="#ff0000" stroke-width="1" />
<line x1="155" y1="296.4" x2="316" y2="293" stroke="#ff0000" stroke-width="1" stroke-dasharray="5 2"/>
<rect x="170" y="339.6" width="17.7" height="3.4" fill="#777" />
<line x1="170" y1="339.6" x2="187.7" y2="339.6" stroke="#ddd" stroke-width="0.7" />
<rect x="199" y="338" width="19" height="3.5" fill="#777" />
<line x1="199" y1="338" x2="218" y2="338" stroke="#ddd" stroke-width="0.7" />
<rect x="230.7" y="336.6" width="23.3" height="4.2" fill="#19d0e0" />
<line x1="230.7" y1="336.6" x2="254" y2="336.6" stroke="#ddd" stroke-width="0.7" />
<rect x="263" y="334.3" width="22" height="3.7" fill="#777" />
<line x1="263" y1="334.3" x2="285" y2="334.3" stroke="#ddd" stroke-width="0.7" />
<rect x="295.8" y="331.5" width="20.9" height="4.2" fill="#777" />
<line x1="295.8" y1="331.5" x2="316.7" y2="331.5" stroke="#ddd" stroke-width="0.7" />
<rect x="376.8" y="334" width="32.6" height="13.5" fill="#c0c0c0" />
<rect x="378.8" y="347.5" width="18" height="26.0" fill="#c0c0c0" />
<rect x="396.8" y="347.5" width="12.600000000000001" height="15.5" fill="#c0c0c0" />
<rect x="394.8" y="348.4" width="13.2" height="7.2" fill="#cfcfcf" stroke="#e0a060" stroke-width="0.9" />
<rect x="395.8" y="349.59999999999997" width="11.2" height="1.8" fill="#222" />
<rect x="395.8" y="352.2" width="11.2" height="1.8" fill="#222" />
<rect x="400.5" y="357.3" width="5.5" height="3.8" fill="#eee" />
<path d="M389.8 334 v8.5 h-9" fill="none" stroke="#0000ff" stroke-width="1.4" />
<path d="M380.8 346 h6 v3.5" fill="none" stroke="#0000ff" stroke-width="1.4" />
<path d="M379.3 371.0 h17 v-14" fill="none" stroke="#ffff00" stroke-width="1.3" />
<rect x="380.3" y="336.5" width="8" height="3.6" fill="#00ff00" />
<rect x="381.3" y="349.5" width="7.5" height="4.2" fill="#00ff00" />
<line x1="378.6" y1="344.5" x2="378.6" y2="357" stroke="#29e0f0" stroke-width="1.3" />
<rect x="409.40000000000003" y="334" width="32.6" height="13.5" fill="#c0c0c0" />
<rect x="411.40000000000003" y="347.5" width="18" height="26.0" fill="#c0c0c0" />
<rect x="429.40000000000003" y="347.5" width="12.600000000000001" height="15.5" fill="#c0c0c0" />
<rect x="427.40000000000003" y="348.4" width="13.2" height="7.2" fill="#cfcfcf" stroke="#e0a060" stroke-width="0.9" />
<rect x="428.40000000000003" y="349.59999999999997" width="11.2" height="1.8" fill="#222" />
<rect x="428.40000000000003" y="352.2" width="11.2" height="1.8" fill="#222" />
<rect x="433.1" y="357.3" width="5.5" height="3.8" fill="#eee" />
<path d="M422.40000000000003 334 v8.5 h-9" fill="none" stroke="#0000ff" stroke-width="1.4" />
<path d="M413.40000000000003 346 h6 v3.5" fill="none" stroke="#0000ff" stroke-width="1.4" />
<path d="M411.90000000000003 371.0 h17 v-14" fill="none" stroke="#ffff00" stroke-width="1.3" />
<rect x="412.90000000000003" y="336.5" width="8" height="3.6" fill="#00ff00" />
<rect x="413.90000000000003" y="349.5" width="7.5" height="4.2" fill="#00ff00" />
<line x1="411.20000000000005" y1="344.5" x2="411.20000000000005" y2="357" stroke="#29e0f0" stroke-width="1.3" />
<rect x="442.0" y="334" width="32.6" height="13.5" fill="#c0c0c0" />
<rect x="444.0" y="347.5" width="18" height="26.0" fill="#c0c0c0" />
<rect x="462.0" y="347.5" width="12.600000000000001" height="15.5" fill="#c0c0c0" />
<rect x="460.0" y="348.4" width="13.2" height="7.2" fill="#cfcfcf" stroke="#e0a060" stroke-width="0.9" />
<rect x="461.0" y="349.59999999999997" width="11.2" height="1.8" fill="#222" />
<rect x="461.0" y="352.2" width="11.2" height="1.8" fill="#222" />
<rect x="465.7" y="357.3" width="5.5" height="3.8" fill="#eee" />
<path d="M455.0 334 v8.5 h-9" fill="none" stroke="#0000ff" stroke-width="1.4" />
<path d="M446.0 346 h6 v3.5" fill="none" stroke="#0000ff" stroke-width="1.4" />
<path d="M444.5 371.0 h17 v-14" fill="none" stroke="#ffff00" stroke-width="1.3" />
<rect x="445.5" y="336.5" width="8" height="3.6" fill="#00ff00" />
<rect x="446.5" y="349.5" width="7.5" height="4.2" fill="#00ff00" />
<line x1="443.8" y1="344.5" x2="443.8" y2="357" stroke="#29e0f0" stroke-width="1.3" />
<rect x="474.6" y="334" width="32.6" height="13.5" fill="#c0c0c0" />
<rect x="476.6" y="347.5" width="18" height="23.5" fill="#c0c0c0" />
<rect x="494.6" y="347.5" width="12.600000000000001" height="15.5" fill="#c0c0c0" />
<rect x="492.6" y="348.4" width="13.2" height="7.2" fill="#cfcfcf" stroke="#e0a060" stroke-width="0.9" />
<rect x="493.6" y="349.59999999999997" width="11.2" height="1.8" fill="#222" />
<rect x="493.6" y="352.2" width="11.2" height="1.8" fill="#222" />
<rect x="498.3" y="357.3" width="5.5" height="3.8" fill="#eee" />
<path d="M487.6 334 v8.5 h-9" fill="none" stroke="#0000ff" stroke-width="1.4" />
<path d="M478.6 346 h6 v3.5" fill="none" stroke="#0000ff" stroke-width="1.4" />
<path d="M477.1 368.5 h17 v-14" fill="none" stroke="#ffff00" stroke-width="1.3" />
<rect x="478.1" y="336.5" width="8" height="3.6" fill="#00ff00" />
<rect x="479.1" y="349.5" width="7.5" height="4.2" fill="#00ff00" />
<line x1="476.40000000000003" y1="344.5" x2="476.40000000000003" y2="357" stroke="#29e0f0" stroke-width="1.3" />
<rect x="413" y="336.5" width="22" height="4.5" fill="#ffffff" />
<rect x="413" y="341.5" width="24" height="3.6" fill="#00ff00" />
<rect x="379.8" y="376.7" width="18.7" height="4.3" fill="#19d0e0" />
<line x1="380.8" y1="376.7" x2="380.8" y2="381.0" stroke="#0a7f8a" stroke-width="0.5" />
<line x1="382.6" y1="376.7" x2="382.6" y2="381.0" stroke="#0a7f8a" stroke-width="0.5" />
<line x1="384.40000000000003" y1="376.7" x2="384.40000000000003" y2="381.0" stroke="#0a7f8a" stroke-width="0.5" />
<line x1="386.2" y1="376.7" x2="386.2" y2="381.0" stroke="#0a7f8a" stroke-width="0.5" />
<line x1="388.0" y1="376.7" x2="388.0" y2="381.0" stroke="#0a7f8a" stroke-width="0.5" />
<line x1="389.8" y1="376.7" x2="389.8" y2="381.0" stroke="#0a7f8a" stroke-width="0.5" />
<line x1="391.6" y1="376.7" x2="391.6" y2="381.0" stroke="#0a7f8a" stroke-width="0.5" />
<line x1="393.40000000000003" y1="376.7" x2="393.40000000000003" y2="381.0" stroke="#0a7f8a" stroke-width="0.5" />
<line x1="395.2" y1="376.7" x2="395.2" y2="381.0" stroke="#0a7f8a" stroke-width="0.5" />
<line x1="397.0" y1="376.7" x2="397.0" y2="381.0" stroke="#0a7f8a" stroke-width="0.5" />
<rect x="411.8" y="376.2" width="18.4" height="4.3" fill="#19d0e0" />
<line x1="412.8" y1="376.2" x2="412.8" y2="380.5" stroke="#0a7f8a" stroke-width="0.5" />
<line x1="414.6" y1="376.2" x2="414.6" y2="380.5" stroke="#0a7f8a" stroke-width="0.5" />
<line x1="416.40000000000003" y1="376.2" x2="416.40000000000003" y2="380.5" stroke="#0a7f8a" stroke-width="0.5" />
<line x1="418.2" y1="376.2" x2="418.2" y2="380.5" stroke="#0a7f8a" stroke-width="0.5" />
<line x1="420.0" y1="376.2" x2="420.0" y2="380.5" stroke="#0a7f8a" stroke-width="0.5" />
<line x1="421.8" y1="376.2" x2="421.8" y2="380.5" stroke="#0a7f8a" stroke-width="0.5" />
<line x1="423.6" y1="376.2" x2="423.6" y2="380.5" stroke="#0a7f8a" stroke-width="0.5" />
<line x1="425.40000000000003" y1="376.2" x2="425.40000000000003" y2="380.5" stroke="#0a7f8a" stroke-width="0.5" />
<line x1="427.2" y1="376.2" x2="427.2" y2="380.5" stroke="#0a7f8a" stroke-width="0.5" />
<line x1="429.0" y1="376.2" x2="429.0" y2="380.5" stroke="#0a7f8a" stroke-width="0.5" />
<rect x="444" y="375.6" width="12.8" height="4.3" fill="#19d0e0" />
<line x1="445.0" y1="375.6" x2="445.0" y2="379.90000000000003" stroke="#0a7f8a" stroke-width="0.5" />
<line x1="446.8" y1="375.6" x2="446.8" y2="379.90000000000003" stroke="#0a7f8a" stroke-width="0.5" />
<line x1="448.6" y1="375.6" x2="448.6" y2="379.90000000000003" stroke="#0a7f8a" stroke-width="0.5" />
<line x1="450.4" y1="375.6" x2="450.4" y2="379.90000000000003" stroke="#0a7f8a" stroke-width="0.5" />
<line x1="452.2" y1="375.6" x2="452.2" y2="379.90000000000003" stroke="#0a7f8a" stroke-width="0.5" />
<line x1="454.0" y1="375.6" x2="454.0" y2="379.90000000000003" stroke="#0a7f8a" stroke-width="0.5" />
<line x1="455.8" y1="375.6" x2="455.8" y2="379.90000000000003" stroke="#0a7f8a" stroke-width="0.5" />
<!-- p70_sitelines -->
<rect x="346" y="314.6" width="165" height="3.8" fill="#6d6d6d" />
<line x1="347.0" y1="318.4" x2="349.4" y2="314.6" stroke="#2a2a2a" stroke-width="0.7" />
<line x1="349.5" y1="318.4" x2="351.9" y2="314.6" stroke="#2a2a2a" stroke-width="0.7" />
<line x1="352.0" y1="318.4" x2="354.4" y2="314.6" stroke="#2a2a2a" stroke-width="0.7" />
<line x1="354.5" y1="318.4" x2="356.9" y2="314.6" stroke="#2a2a2a" stroke-width="0.7" />
<line x1="357.0" y1="318.4" x2="359.4" y2="314.6" stroke="#2a2a2a" stroke-width="0.7" />
<line x1="359.5" y1="318.4" x2="361.9" y2="314.6" stroke="#2a2a2a" stroke-width="0.7" />
<line x1="362.0" y1="318.4" x2="364.4" y2="314.6" stroke="#2a2a2a" stroke-width="0.7" />
<line x1="364.5" y1="318.4" x2="366.9" y2="314.6" stroke="#2a2a2a" stroke-width="0.7" />
<line x1="367.0" y1="318.4" x2="369.4" y2="314.6" stroke="#2a2a2a" stroke-width="0.7" />
<line x1="369.5" y1="318.4" x2="371.9" y2="314.6" stroke="#2a2a2a" stroke-width="0.7" />
<line x1="372.0" y1="318.4" x2="374.4" y2="314.6" stroke="#2a2a2a" stroke-width="0.7" />
<line x1="374.5" y1="318.4" x2="376.9" y2="314.6" stroke="#2a2a2a" stroke-width="0.7" />
<line x1="377.0" y1="318.4" x2="379.4" y2="314.6" stroke="#2a2a2a" stroke-width="0.7" />
<line x1="379.5" y1="318.4" x2="381.9" y2="314.6" stroke="#2a2a2a" stroke-width="0.7" />
<line x1="382.0" y1="318.4" x2="384.4" y2="314.6" stroke="#2a2a2a" stroke-width="0.7" />
<line x1="384.5" y1="318.4" x2="386.9" y2="314.6" stroke="#2a2a2a" stroke-width="0.7" />
<line x1="387.0" y1="318.4" x2="389.4" y2="314.6" stroke="#2a2a2a" stroke-width="0.7" />
<line x1="389.5" y1="318.4" x2="391.9" y2="314.6" stroke="#2a2a2a" stroke-width="0.7" />
<line x1="392.0" y1="318.4" x2="394.4" y2="314.6" stroke="#2a2a2a" stroke-width="0.7" />
<line x1="394.5" y1="318.4" x2="396.9" y2="314.6" stroke="#2a2a2a" stroke-width="0.7" />
<line x1="397.0" y1="318.4" x2="399.4" y2="314.6" stroke="#2a2a2a" stroke-width="0.7" />
<line x1="399.5" y1="318.4" x2="401.9" y2="314.6" stroke="#2a2a2a" stroke-width="0.7" />
<line x1="402.0" y1="318.4" x2="404.4" y2="314.6" stroke="#2a2a2a" stroke-width="0.7" />
<line x1="404.5" y1="318.4" x2="406.9" y2="314.6" stroke="#2a2a2a" stroke-width="0.7" />
<line x1="407.0" y1="318.4" x2="409.4" y2="314.6" stroke="#2a2a2a" stroke-width="0.7" />
<line x1="409.5" y1="318.4" x2="411.9" y2="314.6" stroke="#2a2a2a" stroke-width="0.7" />
<line x1="412.0" y1="318.4" x2="414.4" y2="314.6" stroke="#2a2a2a" stroke-width="0.7" />
<line x1="414.5" y1="318.4" x2="416.9" y2="314.6" stroke="#2a2a2a" stroke-width="0.7" />
<line x1="417.0" y1="318.4" x2="419.4" y2="314.6" stroke="#2a2a2a" stroke-width="0.7" />
<line x1="419.5" y1="318.4" x2="421.9" y2="314.6" stroke="#2a2a2a" stroke-width="0.7" />
<line x1="422.0" y1="318.4" x2="424.4" y2="314.6" stroke="#2a2a2a" stroke-width="0.7" />
<line x1="424.5" y1="318.4" x2="426.9" y2="314.6" stroke="#2a2a2a" stroke-width="0.7" />
<line x1="427.0" y1="318.4" x2="429.4" y2="314.6" stroke="#2a2a2a" stroke-width="0.7" />
<line x1="429.5" y1="318.4" x2="431.9" y2="314.6" stroke="#2a2a2a" stroke-width="0.7" />
<line x1="432.0" y1="318.4" x2="434.4" y2="314.6" stroke="#2a2a2a" stroke-width="0.7" />
<line x1="434.5" y1="318.4" x2="436.9" y2="314.6" stroke="#2a2a2a" stroke-width="0.7" />
<line x1="437.0" y1="318.4" x2="439.4" y2="314.6" stroke="#2a2a2a" stroke-width="0.7" />
<line x1="439.5" y1="318.4" x2="441.9" y2="314.6" stroke="#2a2a2a" stroke-width="0.7" />
<line x1="442.0" y1="318.4" x2="444.4" y2="314.6" stroke="#2a2a2a" stroke-width="0.7" />
<line x1="444.5" y1="318.4" x2="446.9" y2="314.6" stroke="#2a2a2a" stroke-width="0.7" />
<line x1="447.0" y1="318.4" x2="449.4" y2="314.6" stroke="#2a2a2a" stroke-width="0.7" />
<line x1="449.5" y1="318.4" x2="451.9" y2="314.6" stroke="#2a2a2a" stroke-width="0.7" />
<line x1="452.0" y1="318.4" x2="454.4" y2="314.6" stroke="#2a2a2a" stroke-width="0.7" />
<line x1="454.5" y1="318.4" x2="456.9" y2="314.6" stroke="#2a2a2a" stroke-width="0.7" />
<line x1="457.0" y1="318.4" x2="459.4" y2="314.6" stroke="#2a2a2a" stroke-width="0.7" />
<line x1="459.5" y1="318.4" x2="461.9" y2="314.6" stroke="#2a2a2a" stroke-width="0.7" />
<line x1="462.0" y1="318.4" x2="464.4" y2="314.6" stroke="#2a2a2a" stroke-width="0.7" />
<line x1="464.5" y1="318.4" x2="466.9" y2="314.6" stroke="#2a2a2a" stroke-width="0.7" />
<line x1="467.0" y1="318.4" x2="469.4" y2="314.6" stroke="#2a2a2a" stroke-width="0.7" />
<line x1="469.5" y1="318.4" x2="471.9" y2="314.6" stroke="#2a2a2a" stroke-width="0.7" />
<line x1="472.0" y1="318.4" x2="474.4" y2="314.6" stroke="#2a2a2a" stroke-width="0.7" />
<line x1="474.5" y1="318.4" x2="476.9" y2="314.6" stroke="#2a2a2a" stroke-width="0.7" />
<line x1="477.0" y1="318.4" x2="479.4" y2="314.6" stroke="#2a2a2a" stroke-width="0.7" />
<line x1="479.5" y1="318.4" x2="481.9" y2="314.6" stroke="#2a2a2a" stroke-width="0.7" />
<line x1="482.0" y1="318.4" x2="484.4" y2="314.6" stroke="#2a2a2a" stroke-width="0.7" />
<line x1="484.5" y1="318.4" x2="486.9" y2="314.6" stroke="#2a2a2a" stroke-width="0.7" />
<line x1="487.0" y1="318.4" x2="489.4" y2="314.6" stroke="#2a2a2a" stroke-width="0.7" />
<line x1="489.5" y1="318.4" x2="491.9" y2="314.6" stroke="#2a2a2a" stroke-width="0.7" />
<line x1="492.0" y1="318.4" x2="494.4" y2="314.6" stroke="#2a2a2a" stroke-width="0.7" />
<line x1="494.5" y1="318.4" x2="496.9" y2="314.6" stroke="#2a2a2a" stroke-width="0.7" />
<line x1="497.0" y1="318.4" x2="499.4" y2="314.6" stroke="#2a2a2a" stroke-width="0.7" />
<line x1="499.5" y1="318.4" x2="501.9" y2="314.6" stroke="#2a2a2a" stroke-width="0.7" />
<line x1="502.0" y1="318.4" x2="504.4" y2="314.6" stroke="#2a2a2a" stroke-width="0.7" />
<line x1="504.5" y1="318.4" x2="506.9" y2="314.6" stroke="#2a2a2a" stroke-width="0.7" />
<line x1="507.0" y1="318.4" x2="509.4" y2="314.6" stroke="#2a2a2a" stroke-width="0.7" />
<line x1="509.5" y1="318.4" x2="511.9" y2="314.6" stroke="#2a2a2a" stroke-width="0.7" />
<line x1="330" y1="319.4" x2="508" y2="319.4" stroke="#00ff00" stroke-width="1" />
<path d="M143 226.6 L312 226.6 Q326 229 331.5 241 Q339 259 333 273 Q326.5 286 329.5 298 Q334 311 355 316.5" fill="none" stroke="#ff0000" stroke-width="1" stroke-dasharray="6 1.5"/>
<line x1="143" y1="285.6" x2="328" y2="285.6" stroke="#ff0000" stroke-width="1.1" stroke-dasharray="7 1.5"/>
<line x1="312" y1="226.6" x2="328" y2="219.5" stroke="#ff0000" stroke-width="1" />
<line x1="150.2" y1="227.5" x2="150.2" y2="273" stroke="#ff0000" stroke-width="1" />
<line x1="158" y1="228.2" x2="312" y2="228.2" stroke="#00ff00" stroke-width="0.9" />
<line x1="166.0" y1="223.5" x2="166.0" y2="230.5" stroke="#00ff00" stroke-width="0.9" />
<rect x="169.0" y="227.2" width="2.6" height="2.8" fill="#ffffff" />
<rect x="175.0" y="224.2" width="2.2" height="2.4" fill="#ddd" />
<line x1="183.5" y1="223.5" x2="183.5" y2="230.5" stroke="#00ff00" stroke-width="0.9" />
<rect x="186.5" y="227.2" width="2.6" height="2.8" fill="#ffffff" />
<rect x="192.5" y="224.2" width="2.2" height="2.4" fill="#ddd" />
<line x1="201.0" y1="223.5" x2="201.0" y2="230.5" stroke="#00ff00" stroke-width="0.9" />
<rect x="204.0" y="227.2" width="2.6" height="2.8" fill="#ffffff" />
<rect x="210.0" y="224.2" width="2.2" height="2.4" fill="#ddd" />
<line x1="218.5" y1="223.5" x2="218.5" y2="230.5" stroke="#00ff00" stroke-width="0.9" />
<rect x="221.5" y="227.2" width="2.6" height="2.8" fill="#ffffff" />
<rect x="227.5" y="224.2" width="2.2" height="2.4" fill="#ddd" />
<line x1="236.0" y1="223.5" x2="236.0" y2="230.5" stroke="#00ff00" stroke-width="0.9" />
<rect x="239.0" y="227.2" width="2.6" height="2.8" fill="#ffffff" />
<rect x="245.0" y="224.2" width="2.2" height="2.4" fill="#ddd" />
<line x1="253.5" y1="223.5" x2="253.5" y2="230.5" stroke="#00ff00" stroke-width="0.9" />
<rect x="256.5" y="227.2" width="2.6" height="2.8" fill="#ffffff" />
<rect x="262.5" y="224.2" width="2.2" height="2.4" fill="#ddd" />
<line x1="271.0" y1="223.5" x2="271.0" y2="230.5" stroke="#00ff00" stroke-width="0.9" />
<rect x="274.0" y="227.2" width="2.6" height="2.8" fill="#ffffff" />
<rect x="280.0" y="224.2" width="2.2" height="2.4" fill="#ddd" />
<line x1="288.5" y1="223.5" x2="288.5" y2="230.5" stroke="#00ff00" stroke-width="0.9" />
<rect x="291.5" y="227.2" width="2.6" height="2.8" fill="#ffffff" />
<rect x="297.5" y="224.2" width="2.2" height="2.4" fill="#ddd" />
<line x1="306.0" y1="223.5" x2="306.0" y2="230.5" stroke="#00ff00" stroke-width="0.9" />
<rect x="309.0" y="227.2" width="2.6" height="2.8" fill="#ffffff" />
<rect x="315.0" y="224.2" width="2.2" height="2.4" fill="#ddd" />
<rect x="183" y="224.6" width="12" height="4.6" fill="#ffffff" />
<rect x="247" y="225" width="8" height="3.6" fill="#ffffff" />
<circle cx="315.3" cy="221" r="3.4" fill="none" stroke="#00ff00" stroke-width="1"/>
<rect x="313.6" y="219.3" width="3.4" height="3.4" fill="#e8f5e8" />
<line x1="170" y1="282.6" x2="170" y2="288" stroke="#00ff00" stroke-width="0.8" />
<rect x="175" y="286" width="2.4" height="2.6" fill="#ffffff" />
<line x1="189" y1="282.6" x2="189" y2="288" stroke="#00ff00" stroke-width="0.8" />
<rect x="194" y="286" width="2.4" height="2.6" fill="#ffffff" />
<line x1="208" y1="282.6" x2="208" y2="288" stroke="#00ff00" stroke-width="0.8" />
<rect x="213" y="286" width="2.4" height="2.6" fill="#ffffff" />
<line x1="227" y1="282.6" x2="227" y2="288" stroke="#00ff00" stroke-width="0.8" />
<rect x="232" y="286" width="2.4" height="2.6" fill="#ffffff" />
<line x1="246" y1="282.6" x2="246" y2="288" stroke="#00ff00" stroke-width="0.8" />
<rect x="251" y="286" width="2.4" height="2.6" fill="#ffffff" />
<line x1="265" y1="282.6" x2="265" y2="288" stroke="#00ff00" stroke-width="0.8" />
<rect x="270" y="286" width="2.4" height="2.6" fill="#ffffff" />
<line x1="284" y1="282.6" x2="284" y2="288" stroke="#00ff00" stroke-width="0.8" />
<rect x="289" y="286" width="2.4" height="2.6" fill="#ffffff" />
<line x1="303" y1="282.6" x2="303" y2="288" stroke="#00ff00" stroke-width="0.8" />
<rect x="308" y="286" width="2.4" height="2.6" fill="#ffffff" />
<rect x="159.5" y="286.5" width="6.5" height="3.5" fill="none" stroke="#eee" stroke-width="0.9" />
<rect x="189" y="287" width="7" height="3" fill="#ffffff" />
<path d="M176 212 L176 177.4 L197.6 155.4 L272.5 155.4 L281.5 162.6 L292.4 162.6" fill="none" stroke="#e4d4ea" stroke-width="1.4" />
<path d="M178.2 211.6 L178.2 178 L198.6 156.8 L272 156.8" fill="none" stroke="#f4f4f4" stroke-width="1" />
<path d="M176.2 178.6 L192 162 L263 162 L271.3 167.4 L292.4 167.4" fill="none" stroke="#ff00ff" stroke-width="1.6" />
<line x1="192.6" y1="165.2" x2="263.4" y2="165.2" stroke="#ff0000" stroke-width="1" />
<path d="M176.4 211.8 L326.5 211.6" fill="none" stroke="#f0dff0" stroke-width="1.2" />
<rect x="189.7" y="212.3" width="19.6" height="3.3" fill="none" stroke="#ff00ff" stroke-width="1" />
<rect x="221" y="212.3" width="8" height="3.3" fill="none" stroke="#ff00ff" stroke-width="1" />
<rect x="239.7" y="212.3" width="9.3" height="3.3" fill="none" stroke="#ff00ff" stroke-width="1" />
<rect x="258" y="212.3" width="8" height="3.3" fill="none" stroke="#ff00ff" stroke-width="1" />
<rect x="275" y="212.3" width="24" height="3.3" fill="none" stroke="#ff00ff" stroke-width="1" />
<line x1="199.5" y1="212.3" x2="199.5" y2="215.6" stroke="#ff00ff" stroke-width="0.9" />
<path d="M180 179.3 L213.9 179.3 L213.9 190.8 L209.3 190.8 L209.3 194.3 L203.5 194.3 L203.5 190.2 L195.8 190.2 L195.8 211.5" fill="none" stroke="#f4f4f4" stroke-width="0.9" />
<path d="M180.5 195.4 L182.2 195.4 L182.2 206.3 L190.3 206.3 L190.3 211.5" fill="none" stroke="#f4f4f4" stroke-width="0.9" />
<rect x="185.5" y="185" width="10.3" height="5.2" fill="#ffffff" />
<rect x="199.3" y="157.5" width="2.5" height="2.8" fill="#00ff00" />
<rect x="191.2" y="165.9" width="2.5" height="2.7" fill="#00ff00" />
<text x="224.2" y="187.6" font-size="5.8" fill="#ffffff" font-weight="bold" stroke="#fff" stroke-width="0.12" textLength="39.4" lengthAdjust="spacingAndGlyphs">1#楼 (商业, 2层) 裙楼</text>
<rect x="220" y="188.3" width="43.4" height="3.3" fill="#00ff00" />
<rect x="228" y="200.5" width="23.6" height="5.8" fill="#ffffff" />
<rect x="258" y="194" width="39.5" height="17.5" fill="#c9c9c9" stroke="#e8b58a" stroke-width="1.1" />
<path d="M261 196 L277 196 L277 209.5 L261 209.5 L261 196" fill="none" stroke="#f2f2f2" stroke-width="0.8" />
<path d="M280 198 L295 196 L295 209.5 L280 209.5 L280 198 L277 201" fill="none" stroke="#f2f2f2" stroke-width="0.8" />
<line x1="345.8" y1="143.3" x2="345.8" y2="300" stroke="#ff0000" stroke-width="1.2" />
<line x1="346.3" y1="211.4" x2="482.6" y2="211.4" stroke="#ff0000" stroke-width="1.2" />
<line x1="346.3" y1="249.2" x2="482" y2="249.2" stroke="#ff0000" stroke-width="1.2" />
<line x1="480" y1="211" x2="480" y2="300" stroke="#ff0000" stroke-width="1" />
<path d="M351 169.6 L364.7 169.6 L368.7 166.4 L438.5 166.4 L482 204.6" fill="none" stroke="#ff00ff" stroke-width="1.6" />
<path d="M349.2 186.5 L361.5 186.5 L361.5 178.8 L452.5 178.8" fill="none" stroke="#ff00ff" stroke-width="1.5" />
<path d="M367 161.5 L435 161.5 L482.4 202.6" fill="none" stroke="#f2e6f2" stroke-width="1.1" />
<rect x="349.8" y="175.6" width="12.0" height="6.9" fill="none" stroke="#f4f4f4" stroke-width="0.9" />
<rect x="363" y="171" width="8" height="7.5" fill="none" stroke="#f4f4f4" stroke-width="0.9" />
<rect x="417" y="168" width="20" height="8.7" fill="none" stroke="#f4f4f4" stroke-width="0.9" />
<rect x="368.7" y="163.3" width="3.3" height="2.9" fill="#00ff00" />
<rect x="368.7" y="168" width="3.3" height="2.9" fill="#00ff00" />
<rect x="368.7" y="179" width="3.3" height="2.9" fill="#00ff00" />
<line x1="478.4" y1="211" x2="478.4" y2="300" stroke="#ff00ff" stroke-width="1.3" />
<line x1="481.8" y1="204" x2="481.8" y2="300" stroke="#ff00ff" stroke-width="1" />
<rect x="401" y="205" width="10.6" height="4.7" fill="#ffffff" />
<text x="395" y="235.6" font-size="5.2" fill="#ffffff" font-weight="bold" textLength="39" lengthAdjust="spacingAndGlyphs">3#楼 (商业, 3层) 裙楼</text>
<rect x="399.7" y="237" width="29.0" height="3.5" fill="#00ff00" />
<text x="348.4" y="240.5" font-size="4.6" fill="#ffffff" font-weight="bold" textLength="9" lengthAdjust="spacingAndGlyphs">出入口</text>
<text x="348.4" y="246.6" font-size="4.6" fill="#ffffff" font-weight="bold" textLength="31.5" lengthAdjust="spacingAndGlyphs">地下车库出入口 净高2.2米</text>
<line x1="346" y1="253" x2="482" y2="253" stroke="#ffff00" stroke-width="1.8" stroke-dasharray="4 1.2"/>
<line x1="346" y1="251.6" x2="482" y2="251.6" stroke="#ff00ff" stroke-width="0.8" />
<line x1="275.7" y1="156.3" x2="554" y2="156.3" stroke="#ff0000" stroke-width="1" />
<rect x="344" y="256.4" width="149" height="43.4" fill="none" stroke="#ececec" stroke-width="1.2" />
<path d="M344.5 272 L385.3 272 L385.3 258" fill="none" stroke="#ff00ff" stroke-width="1.3" />
<path d="M480 272 L435.3 272 L435.3 258" fill="none" stroke="#ff00ff" stroke-width="1.3" />
<path d="M349 270 L352 260 L383 258.5" fill="none" stroke="#eee" stroke-width="0.8" />
<path d="M437.5 270 L440 260 L476 258.5" fill="none" stroke="#eee" stroke-width="0.8" />
<text x="391.8" y="269.8" font-size="5.2" fill="#ffffff" font-weight="bold" textLength="38.2" lengthAdjust="spacingAndGlyphs">2#楼 (住宅, 33层) 裙楼</text>
<rect x="395.8" y="270.8" width="28.9" height="3.4" fill="#00ff00" />
<rect x="353.7" y="280" width="46" height="18.4" fill="none" stroke="#ff00ff" stroke-width="1.4" />
<rect x="415.5" y="280" width="64.5" height="18.4" fill="none" stroke="#ff00ff" stroke-width="1.4" />
<rect x="356.3" y="285.2" width="22.4" height="5.2" fill="#ffffff" />
<path d="M420 281.3 L473 281.3 L473 287 L456 287 L448 295.8 L420 295.8 Z" fill="#00ff00" stroke="none" stroke-width="0" />
<line x1="343.5" y1="300.2" x2="494" y2="300.2" stroke="#ff00ff" stroke-width="1.4" />
<rect x="159" y="156.7" width="11.5" height="4.8" fill="#ffffff" />
<path d="M166.5 157.4 L170 157.4 L168 161 Z" fill="#ff0000" stroke="none" stroke-width="0" />
<path d="M158 157 L196 157 M158 165 L181 165 M158 170.5 L172 170.5 M178.2 155 L178.2 168" fill="none" stroke="#ff0000" stroke-width="1" />
<line x1="171.0" y1="177.0" x2="180.0" y2="166.0" stroke="#8a8a8a" stroke-width="0.6" />
<line x1="172.6" y1="176.8" x2="181.6" y2="164.2" stroke="#8a8a8a" stroke-width="0.6" />
<line x1="174.2" y1="176.6" x2="183.2" y2="162.4" stroke="#8a8a8a" stroke-width="0.6" />
<line x1="175.8" y1="176.4" x2="184.8" y2="160.6" stroke="#8a8a8a" stroke-width="0.6" />
<line x1="177.4" y1="176.2" x2="186.4" y2="158.8" stroke="#8a8a8a" stroke-width="0.6" />
<line x1="179.0" y1="176.0" x2="188.0" y2="157.0" stroke="#8a8a8a" stroke-width="0.6" />
<rect x="142.8" y="180.5" width="13" height="27" fill="none" stroke="#ff00ff" stroke-width="1.2" />
<line x1="149.3" y1="180.5" x2="149.3" y2="207.5" stroke="#ff00ff" stroke-width="1.1" />
<path d="M154 143.3 L515.5 143.3 L515.8 300 L517.3 372 L514 381 L508 384.5 L430 390.3 L372.5 394 L362 386 L359.5 381 L359.5 342.8 L285 346.9 L225 350.4 L140.3 355.4 L131.3 345.3 L136.8 166 L139 158 L144 153.4 Z" fill="none" stroke="#ff0000" stroke-width="2.1" stroke-linejoin="round"/>
<path d="M143 344.5 L225 341.3 L285 337.8 L345 334 L373.8 334 L373.8 379 L507.4 372 L507.6 210.5 L482.6 210.5 L482.6 152.3 L157.8 153.7 L157.8 212 L142.6 212 L143 343" fill="none" stroke="#0000ff" stroke-width="1.7" stroke-dasharray="5 1.4"/>
<rect x="482.8" y="167.6" width="19.5" height="12.4" fill="#54a354" stroke="#00dede" stroke-width="1.1" rx="6.2"/>
<path d="M483.9 161.7 L497 161.7 A11.8 11.8 0 0 1 497 185.3 L483.9 185.3" fill="none" stroke="#ff0000" stroke-width="1" stroke-dasharray="7 1.5 1.5 1.5"/>
<path d="M483.9 181.4 L483.9 205 L514 205" fill="none" stroke="#ffff00" stroke-width="1.3" stroke-dasharray="4 1.2"/>
<line x1="483.9" y1="198.4" x2="514" y2="198.4" stroke="#00ff00" stroke-width="1.1" />
<rect x="459.6" y="179.4" width="21.6" height="3.9" fill="#ffffff" />
<path d="M493.7 205 L499 205 L496.3 209.6 Z" fill="#ff0000" stroke="none" stroke-width="0" />
<path d="M499.6 209.6 L505 209.6 L502.3 205 Z" fill="#ff0000" stroke="none" stroke-width="0" />
<rect x="483.5" y="206" width="5" height="4.5" fill="#ffffff" />
<!-- p80_context -->
<path d="M47 43.3 L63.3 43.3 L63.3 35 L73.9 35 L73.9 43.3 L78.7 43.3 L78.7 82 L47 82 Z" fill="none" stroke="#00ff00" stroke-width="1.1" />
<line x1="63.3" y1="43.3" x2="63.3" y2="82" stroke="#00ff00" stroke-width="1.1" />
<line x1="63.3" y1="43.3" x2="73.9" y2="43.3" stroke="#00ff00" stroke-width="1" />
<path d="M47 76.7 L55.8 76.7 L55.8 73.2 L69.8 73.2 L69.8 77.3 L78.7 77.3" fill="none" stroke="#00ff00" stroke-width="1" />
<rect x="52" y="55.9" width="23.9" height="5.2" fill="#ffffff" />
<rect x="60.8" y="67" width="17.3" height="4.2" fill="#00ff00" />
<rect x="68.8" y="46.6" width="3.2" height="4.7" fill="#00ff00" />
<path d="M89.3 35 L123.3 35 L123.3 43.3 L131.7 43.3 L131.7 76.7 L123.3 76.7 L123.3 84.4 L101.4 84.4 L101.4 76.7 L100.5 76.7 L100.5 43.3 L89.3 43.3 Z" fill="none" stroke="#00ff00" stroke-width="1.1" />
<path d="M89.3 61.5 L80.9 61.5 L80.9 40 L84.5 40 L84.5 41.5 L89.3 41.5" fill="none" stroke="#00ff00" stroke-width="1" />
<line x1="115.3" y1="35" x2="115.3" y2="76.7" stroke="#00ff00" stroke-width="1" />
<line x1="123.3" y1="43.3" x2="123.3" y2="76.7" stroke="#00ff00" stroke-width="1" />
<line x1="100.5" y1="43.3" x2="123.3" y2="43.3" stroke="#00ff00" stroke-width="1" />
<line x1="101.4" y1="76.7" x2="123.3" y2="76.7" stroke="#00ff00" stroke-width="1" />
<path d="M127.4 40.1 L129.3 36.4 L139.5 35.8 L139.9 45.1 L131.7 45.7" fill="none" stroke="#00ff00" stroke-width="1" />
<rect x="92.1" y="55.9" width="48.0" height="5.2" fill="#ffffff" />
<rect x="107" y="66.7" width="18" height="4.5" fill="#00ff00" />
<rect x="106" y="46.6" width="3.8" height="4.7" fill="#00ff00" />
<rect x="121.9" y="45.7" width="4.1" height="5.6" fill="#00ff00" />
<path d="M158.1 36.9 L147.3 49.4 L156.3 58.7 L170.2 72.7 Q178.6 79 187 71.7 L190.7 66.1 Z" fill="none" stroke="#00ff00" stroke-width="1.1" />
<path d="M151.5 50.5 L154.5 47.5 L186.5 68" fill="none" stroke="#00ff00" stroke-width="0.9" />
<path d="M162.8 64.3 L174 73.6" fill="none" stroke="#00ff00" stroke-width="0.9" />
<path d="M184.2 60.6 L173 72.7" fill="none" stroke="#00ff00" stroke-width="0.9" />
<rect x="151.1" y="51.3" width="23.8" height="4.6" fill="#ffffff" />
<rect x="161.9" y="57.8" width="16.7" height="4.6" fill="#00ff00" />
<rect x="155.9" y="38.8" width="4.1" height="4.1" fill="#00ff00" />
<rect x="281.25" y="17" width="30.0" height="25.5" fill="none" stroke="#00ff00" stroke-width="1" />
<line x1="286.25" y1="17" x2="286.25" y2="42.5" stroke="#00ff00" stroke-width="1" />
<path d="M311.25 17 L324 17" fill="none" stroke="#00ff00" stroke-width="1" />
<path d="M311.25 38 L324 38" fill="none" stroke="#00ff00" stroke-width="1" />
<rect x="324" y="17" width="28.5" height="25.5" fill="none" stroke="#00ff00" stroke-width="1" />
<line x1="327.5" y1="17" x2="327.5" y2="42.5" stroke="#00ff00" stroke-width="1" />
<path d="M352.5 16.5 L363.75 16.5 L363.75 38 L352.5 38" fill="none" stroke="#00ff00" stroke-width="1" />
<text x="291.2" y="54.6" font-size="7" fill="#ffffff" font-weight="bold" stroke="#fff" stroke-width="0.15" textLength="44" lengthAdjust="spacingAndGlyphs">某某花园三期住宅小区</text>
<path d="M269.5 61.25 L240.5 61.25 L240.5 86.25 L269.5 86.25" fill="none" stroke="#00ff00" stroke-width="1" />
<rect x="244.5" y="66.25" width="25.0" height="20.0" fill="none" stroke="#00ff00" stroke-width="1" />
<rect x="255.1" y="66.4" width="3.8" height="4.1" fill="#00ff00" />
<text x="249.7" y="79.6" font-size="6.2" fill="#ffffff" font-weight="bold" stroke="#fff" stroke-width="0.15" textLength="14.7" lengthAdjust="spacingAndGlyphs">幼儿园</text>
<path d="M311.25 61.25 L282 61.25 L282 86.25 L311.25 86.25" fill="none" stroke="#00ff00" stroke-width="1" />
<rect x="286.25" y="66.25" width="25.0" height="20.0" fill="none" stroke="#00ff00" stroke-width="1" />
<rect x="296.85" y="66.4" width="3.8" height="4.1" fill="#00ff00" />
<rect x="290.75" y="72.5" width="17.25" height="4.5" fill="#00ff00" />
<path d="M353.75 61.25 L323.75 61.25 L323.75 86.25 L353.75 86.25" fill="none" stroke="#00ff00" stroke-width="1" />
<rect x="327.5" y="66.25" width="26.25" height="20.0" fill="none" stroke="#00ff00" stroke-width="1" />
<rect x="338.725" y="66.4" width="3.8" height="4.1" fill="#00ff00" />
<text x="333.325" y="79.6" font-size="6.2" fill="#ffffff" font-weight="bold" stroke="#fff" stroke-width="0.15" textLength="14.7" lengthAdjust="spacingAndGlyphs">幼儿园</text>
<line x1="269.5" y1="61.25" x2="282" y2="61.25" stroke="#00ff00" stroke-width="1" />
<line x1="269.5" y1="82" x2="282" y2="82" stroke="#00ff00" stroke-width="1" />
<line x1="311.25" y1="61.25" x2="323.75" y2="61.25" stroke="#00ff00" stroke-width="1" />
<line x1="311.25" y1="82" x2="323.75" y2="82" stroke="#00ff00" stroke-width="1" />
<line x1="353.75" y1="61.25" x2="363.75" y2="61.25" stroke="#00ff00" stroke-width="1" />
<line x1="353.75" y1="82" x2="363.75" y2="82" stroke="#00ff00" stroke-width="1" />
<line x1="363.75" y1="61.25" x2="363.75" y2="82" stroke="#00ff00" stroke-width="1" />
<path d="M253 86.25 L253 89.5 L262 89.5 L262 86.25" fill="none" stroke="#00ff00" stroke-width="1" />
<path d="M737.6 46.2 L751.9 37 L751.9 54.1 L726.3 54.4 L723.3 65.4 L731.5 59.5 L735.4 75.7 L744 62.9 L738.5 56.5" fill="none" stroke="#00ff00" stroke-width="1.1" />
<line x1="735.1" y1="53.6" x2="751.9" y2="37" stroke="#00ff00" stroke-width="1" />
<line x1="735.1" y1="53.6" x2="751.9" y2="46.5" stroke="#00ff00" stroke-width="1" />
<line x1="735.1" y1="53.6" x2="751.9" y2="54.1" stroke="#00ff00" stroke-width="1" />
<line x1="735.1" y1="53.6" x2="744" y2="62.9" stroke="#00ff00" stroke-width="1" />
<line x1="735.1" y1="53.6" x2="735.4" y2="75.7" stroke="#00ff00" stroke-width="1" />
<line x1="735.1" y1="53.6" x2="723.3" y2="65.4" stroke="#00ff00" stroke-width="1" />
<line x1="735.1" y1="53.6" x2="737.6" y2="46.2" stroke="#00ff00" stroke-width="1" />
<line x1="735.1" y1="53.6" x2="729" y2="63.5" stroke="#00ff00" stroke-width="1" />
<line x1="726.3" y1="54.4" x2="731.5" y2="59.5" stroke="#00ff00" stroke-width="0.9" />
<line x1="737.6" y1="46.2" x2="735.1" y2="53.6" stroke="#00ff00" stroke-width="1" />
<line x1="731.5" y1="59.5" x2="744" y2="62.9" stroke="#00ff00" stroke-width="0.8" />
<text x="731" y="40.6" font-size="10" fill="#19f0f0" font-weight="bold" stroke="#19f0f0" stroke-width="0.4" textLength="5.4" lengthAdjust="spacingAndGlyphs" style="font-family:'Liberation Serif',serif">N</text>
<line x1="735.8" y1="40.3" x2="734.8" y2="46.7" stroke="#ffffff" stroke-width="1.2" />
<path d="M565.5 380 L564.1 189 A59 41.4 0 0 1 623 147.6 A59 41.4 0 0 1 666.6 161.3 L666.6 158.2 L685 158.2 L685 193" fill="none" stroke="#9a9a9a" stroke-width="1" />
<path d="M565.5 380 A61 49.6 0 0 0 626.5 429.6 A61 49.6 0 0 0 666.8 417 L667.5 424.4 L685.8 424.4 L685 397.8" fill="none" stroke="#9a9a9a" stroke-width="1" />
<path d="M660.5 399.5 A44.1 31.3 0 0 1 626.5 411.3 A44.1 31.3 0 0 1 582.4 380 L582.4 197 A42.4 32 0 0 1 624.8 165.2 A42.4 32 0 0 1 666.6 191.5" fill="none" stroke="#9a9a9a" stroke-width="1" />
<line x1="562.3" y1="143.7" x2="562.6" y2="394" stroke="#9a9a9a" stroke-width="1" />
<rect x="590" y="214.5" width="5" height="6.0" fill="#ffffff" />
<rect x="590" y="232.75" width="5" height="6.0" fill="#ffffff" />
<rect x="590" y="251.5" width="5" height="6.0" fill="#ffffff" />
<rect x="590" y="271" width="5" height="6" fill="#ffffff" />
<text x="615" y="250.2" font-size="6" fill="#ffffff" font-weight="bold" textLength="22.5" lengthAdjust="spacingAndGlyphs">训 练 场</text>
<circle cx="547.5" cy="140" r="19.5" fill="none" stroke="#5d6268" stroke-width="1.1"/>
<circle cx="547.5" cy="140" r="20.5" fill="none" stroke="#5d6268" stroke-width="1.6" stroke-dasharray="2.5 3.5"/>
<circle cx="548" cy="140" r="1.2" fill="none" stroke="#777" stroke-width="0.8"/>
<rect x="32.5" y="155.75" width="65.0" height="33.0" fill="none" stroke="#9a9a9a" stroke-width="1" />
<rect x="65.5" y="155.75" width="4.0" height="8.75" fill="none" stroke="#9a9a9a" stroke-width="1" />
<rect x="33.75" y="156.5" width="35.0" height="4.25" fill="#ffffff" />
<rect x="91.25" y="157" width="3.75" height="3.75" fill="#00ff00" />
<rect x="60.75" y="180.75" width="19.25" height="5.0" fill="#00ff00" />
<path d="M28 230.25 L59.25 230.25 L59.25 239.5 L65 239.5 L65 230.25 L94.5 230.25 L94.5 262 L28 262" fill="none" stroke="#9a9a9a" stroke-width="1" />
<rect x="78" y="231" width="8.25" height="4.75" fill="#00ff00" />
<rect x="30.75" y="250" width="37.25" height="5" fill="#ffffff" />
<rect x="32" y="256" width="19.25" height="5" fill="#00ff00" />
<text x="88.75" y="207" font-size="6" fill="#ffffff" font-weight="bold" textLength="23.7" lengthAdjust="spacingAndGlyphs">温泉公园</text>
<path d="M72.5 409.5 L109 407.2 L110 425.8 L73.5 428 Z" fill="none" stroke="#9a9a9a" stroke-width="1" />
<rect x="78" y="411.5" width="22" height="5.5" fill="#ffffff" />
<rect x="80" y="419.5" width="18" height="5.75" fill="#00ff00" />
<rect x="102" y="407.3" width="4.25" height="3.7" fill="#00ff00" />
<path d="M28 402 L33 402 L33 400 L37 400 L37 402 L41 402 L41 400 L46 400 L46 401 L53 400.5 L53.75 421 L28 422.8" fill="none" stroke="#9a9a9a" stroke-width="1" />
<rect x="29.5" y="406.5" width="19.25" height="5.0" fill="#ffffff" />
<rect x="47.5" y="416" width="4.5" height="5" fill="#00ff00" />
<path d="M28 455 L38 454.5 L38 452.5 L44 452.5 L44 454 L53.75 453.5 L53.75 470" fill="none" stroke="#9a9a9a" stroke-width="1" />
<path d="M70 470 L70 454 L107.5 452 L107.5 470" fill="none" stroke="#9a9a9a" stroke-width="1" />
<rect x="174.5" y="408" width="6.0" height="7" fill="#ffffff" />
<rect x="188" y="408" width="4" height="7" fill="#ffffff" />
<path d="M374.5 456 L374.5 434 L386 433.5 L386 431 L393 430.6 L393 433 L412 432 L412 429.6 L420 429.2 L420 431.5 L430 431" fill="none" stroke="#9a9a9a" stroke-width="1" />
<path d="M374.5 456 L430 453" fill="none" stroke="#9a9a9a" stroke-width="1" />
<rect x="399.5" y="434.5" width="35.5" height="5.75" fill="#ffffff" />
<rect x="406.25" y="441.5" width="20.0" height="4.5" fill="#00ff00" />
<rect x="375.75" y="434.5" width="4.25" height="4.5" fill="#00ff00" />
<path d="M430 431 L445 430 L445 427.5 L452 427 L452 429.5 L482 427.3 L482 424.8 L489 424.4 L489 426.8 L497 426.2 L499 423.6 L526 421.8 L527 424 L561 421 L563 440 L430 449.5" fill="none" stroke="#9a9a9a" stroke-width="1" />
<path d="M459 428.6 L460.5 448 L470.5 447" fill="none" stroke="#9a9a9a" stroke-width="1" />
<path d="M553 421.6 L555.5 440.5" fill="none" stroke="#9a9a9a" stroke-width="1" />
<rect x="492" y="429.75" width="35" height="5.5" fill="#ffffff" />
<rect x="500" y="435.25" width="18.75" height="3.75" fill="#00ff00" />
<rect x="470.5" y="427.75" width="4.5" height="3.75" fill="#00ff00" />
<path d="M528.75 401 L548 399.5 L548 393.5 L557 393 L560 415.5 L531 418 Z" fill="none" stroke="#9a9a9a" stroke-width="1" />
<rect x="533" y="409" width="4" height="4.25" fill="#00ff00" />
<path d="M563 335 L575 335 L575 372 L563 372" fill="none" stroke="#9a9a9a" stroke-width="1" />
<line x1="563" y1="350" x2="575" y2="350" stroke="#9a9a9a" stroke-width="1" />
<!-- p82_park -->
<path d="M565.6 11.5 L556.5 29 L541.4 45.8 L533.8 48.8 L523.2 38.2 L508 47.3 L495 44 L481 42.8 L467.3 50.3 L464.3 43.7" fill="none" stroke="#00ff00" stroke-width="1" />
<path d="M455 11.5 L461.3 24.6" fill="none" stroke="#00ff00" stroke-width="1" />
<path d="M450.7 33.7 L458.2 24.6 L468.8 26.7 L473.4 36.7 L467.3 42.8 L456.7 43.7 Z" fill="none" stroke="#00ff00" stroke-width="1" />
<path d="M453 33.5 L459 27 L467 28.5 L470.5 36 L466 41 L458 41.5 Z" fill="none" stroke="#00ff00" stroke-width="0.8" />
<circle cx="460" cy="33" r="1.4" fill="none" stroke="#00ff00" stroke-width="0.8"/>
<circle cx="465" cy="35" r="1.8" fill="none" stroke="#00ff00" stroke-width="0.8"/>
<circle cx="459" cy="37.5" r="1" fill="none" stroke="#00ff00" stroke-width="0.8"/>
<path d="M450 38 Q444 44 420.5 48 Q404 48 396 33" fill="none" stroke="#00ff00" stroke-width="1" />
<path d="M451.5 40 Q444 46.5 420 50 Q401 50 393.5 35" fill="none" stroke="#00ff00" stroke-width="1" />
<path d="M450.7 39 Q444 45.2 420.3 49 Q402.5 49 394.8 34" fill="none" stroke="#00ff00" stroke-width="0.7" />
<path d="M372.5 12 Q371 22 380 26 Q386 24 387 19 L392 22 Q390 28 394 32 L398 29 Q396 24 401 22 L401.5 12" fill="none" stroke="#00ff00" stroke-width="1" />
<path d="M374 25 Q376 35 385 40 L388 36 Q380 32 378.5 24" fill="none" stroke="#00ff00" stroke-width="1" />
<line x1="375.0" y1="27.0" x2="379.0" y2="25.5" stroke="#00ff00" stroke-width="0.6" />
<line x1="376.8" y1="29.2" x2="380.6" y2="27.6" stroke="#00ff00" stroke-width="0.6" />
<line x1="378.6" y1="31.4" x2="382.2" y2="29.7" stroke="#00ff00" stroke-width="0.6" />
<line x1="380.4" y1="33.6" x2="383.8" y2="31.8" stroke="#00ff00" stroke-width="0.6" />
<line x1="382.2" y1="35.8" x2="385.4" y2="33.9" stroke="#00ff00" stroke-width="0.6" />
<line x1="384.0" y1="38.0" x2="387.0" y2="36.0" stroke="#00ff00" stroke-width="0.6" />
<text x="377" y="22.5" font-size="4.5" fill="#ffffff" font-weight="bold">7.00</text>
<circle cx="392.5" cy="18.5" r="1" fill="none" stroke="#00ff00" stroke-width="0.8"/>
<circle cx="400.5" cy="24" r="1" fill="none" stroke="#00ff00" stroke-width="0.8"/>
<path d="M367.6 27.6 L378 41.3 L423.5 53.3 L441.6 68.5 L471.9 80.5 L484 86.6 L510 84 L538.4 82 L549 80" fill="none" stroke="#00ff00" stroke-width="1" />
<path d="M471 78 L485 84.6 L510 82 L538 80 L547.4 78" fill="none" stroke="#00ff00" stroke-width="0.9" />
<path d="M429.5 53.3 Q445 50 459.8 53.5 Q487 50 511 53.3 L508 59.4 Q495 67 481 70 Q460 73 444.6 67 L440 62.4 Z" fill="none" stroke="#00ff00" stroke-width="1" />
<path d="M442 62 Q452 55.5 462 55.5 Q487 52.5 507.5 55.5 Q500 62 480 67.5 Q460 71 446 65.5 Z" fill="none" stroke="#00ff00" stroke-width="0.9" />
<path d="M459.8 53.5 L442 62" fill="none" stroke="#00ff00" stroke-width="0.9" />
<rect x="513.6" y="50.3" width="10.3" height="4.6" fill="#00ff00" />
<path d="M523.9 51.5 L556.5 60.9 L595.8 11.5 M523.9 54 L555 63 M556.5 60.9 L547.4 79 M508 47.3 L513.6 51.5" fill="none" stroke="#00ff00" stroke-width="1" />
<path d="M577.6 11.5 L580 30 L582.2 40 L595.8 11.5" fill="none" stroke="#00ff00" stroke-width="1" />
<path d="M464.3 43.7 L467 53" fill="none" stroke="#00ff00" stroke-width="0.9" />
<text x="410.8" y="78.5" font-size="6" fill="#ffffff" font-weight="bold" textLength="24.2" lengthAdjust="spacingAndGlyphs">健 身 公 园</text>
<text x="418.3" y="90.6" font-size="5.2" fill="#ffffff" font-weight="bold" textLength="32.4" lengthAdjust="spacingAndGlyphs">地块边界线 净高要求</text>
<line x1="418.3" y1="92" x2="450.7" y2="92" stroke="#ffffff" stroke-width="0.9" />
<line x1="418.3" y1="92" x2="409" y2="143" stroke="#e0e0e0" stroke-width="0.9" />
<rect x="441" y="112.3" width="29" height="5.2" fill="#ffffff" />
<rect x="448" y="132" width="15" height="5" fill="#ffffff" />
<path d="M470.7 117.6 L480.3 142.5" fill="none" stroke="#e0e0e0" stroke-width="0.8" />
<path d="M463.7 137 L466 137 L469 141.6" fill="none" stroke="#e0e0e0" stroke-width="0.8" />
<text x="437.6" y="123.6" font-size="4.6" fill="#ffffff" font-weight="bold" textLength="19" lengthAdjust="spacingAndGlyphs">消防登高场地</text>
<line x1="437.6" y1="124.3" x2="456.7" y2="124.3" stroke="#ffffff" stroke-width="0.7" />
<path d="M431.5 133.2 L434 130.8 L434 132 L437.6 132 L437.6 134.4 L434 134.4 L434 135.5 Z" fill="#ff0000" stroke="none" stroke-width="0" />
<text x="414" y="120" font-size="4.8" fill="#ffffff" font-weight="bold">20.00</text>
<text x="474" y="127.6" font-size="4" fill="#ffffff" font-weight="bold">12.00</text>
<!-- p90_marks -->
<line x1="178.6" y1="121.5" x2="443" y2="121.5" stroke="#00ff00" stroke-width="1.1" />
<line x1="152.4" y1="127.5" x2="282.5" y2="127.5" stroke="#00ff00" stroke-width="1.1" />
<line x1="266.3" y1="88.75" x2="266.3" y2="150" stroke="#00ff00" stroke-width="1" />
<line x1="375" y1="98.75" x2="375" y2="152" stroke="#00ff00" stroke-width="1" />
<line x1="281.4" y1="127.5" x2="281.4" y2="135.4" stroke="#00ff00" stroke-width="1" />
<line x1="220.4" y1="135.4" x2="220.4" y2="158" stroke="#00ff00" stroke-width="1" />
<line x1="240.4" y1="143" x2="240.4" y2="160" stroke="#00ff00" stroke-width="1" />
<line x1="152.4" y1="125" x2="152.4" y2="130" stroke="#00ff00" stroke-width="1" />
<line x1="490.5" y1="118" x2="490.5" y2="143" stroke="#00ff00" stroke-width="1" />
<line x1="443" y1="128.5" x2="511" y2="128.5" stroke="#00ff00" stroke-width="1" />
<line x1="443" y1="126" x2="443" y2="131" stroke="#00ff00" stroke-width="1" />
<line x1="511" y1="126" x2="511" y2="131" stroke="#00ff00" stroke-width="1" />
<line x1="341.3" y1="118" x2="341.3" y2="128" stroke="#00ff00" stroke-width="1" />
<line x1="350" y1="118" x2="350" y2="135" stroke="#00ff00" stroke-width="1" />
<line x1="157" y1="377.3" x2="330" y2="377.3" stroke="#00ff00" stroke-width="1.1" />
<line x1="377.5" y1="414" x2="504.5" y2="414" stroke="#00ff00" stroke-width="1.1" />
<line x1="552.5" y1="156.5" x2="552.5" y2="298.3" stroke="#00ff00" stroke-width="1" />
<line x1="552.5" y1="334.5" x2="552.5" y2="371.5" stroke="#00ff00" stroke-width="1" />
<line x1="517" y1="156.5" x2="554.5" y2="156.5" stroke="#00ff00" stroke-width="0.9" />
<line x1="538" y1="247.75" x2="554.5" y2="247.75" stroke="#00ff00" stroke-width="0.9" />
<line x1="538" y1="257" x2="554.5" y2="257" stroke="#00ff00" stroke-width="0.9" />
<line x1="538" y1="298.25" x2="554.5" y2="298.25" stroke="#00ff00" stroke-width="0.9" />
<line x1="517" y1="334.5" x2="554.5" y2="334.5" stroke="#00ff00" stroke-width="0.9" />
<line x1="517" y1="371.5" x2="554.5" y2="371.5" stroke="#00ff00" stroke-width="0.9" />
<line x1="518" y1="257" x2="550" y2="257" stroke="#ff0000" stroke-width="1" />
<line x1="518" y1="247.75" x2="540" y2="247.75" stroke="#ff0000" stroke-width="1" />
<line x1="521" y1="283.5" x2="549" y2="283.5" stroke="#00ff00" stroke-width="1" />
<line x1="110" y1="250.75" x2="110" y2="304" stroke="#00ff00" stroke-width="1" />
<line x1="109.3" y1="304" x2="109.3" y2="345" stroke="#00ff00" stroke-width="1" />
<line x1="106.8" y1="235.25" x2="132" y2="235.25" stroke="#00ff00" stroke-width="0.9" />
<line x1="106.8" y1="272.75" x2="132" y2="272.75" stroke="#00ff00" stroke-width="0.9" />
<line x1="106.8" y1="296.25" x2="132" y2="296.25" stroke="#00ff00" stroke-width="0.9" />
<line x1="106.8" y1="340.75" x2="132" y2="340.75" stroke="#00ff00" stroke-width="0.9" />
<line x1="96.25" y1="197.75" x2="135" y2="197.75" stroke="#00ff00" stroke-width="1" />
<line x1="113.75" y1="180.75" x2="135" y2="180.75" stroke="#00ff00" stroke-width="1" />
<line x1="96.25" y1="194" x2="96.25" y2="201" stroke="#00ff00" stroke-width="1" />
<line x1="139.5" y1="380" x2="139.5" y2="344" stroke="#00ff00" stroke-width="1" />
<line x1="148" y1="380" x2="148" y2="355" stroke="#ff0000" stroke-width="1" />
<line x1="157" y1="380" x2="157" y2="354" stroke="#ff0000" stroke-width="1" />
<line x1="146.5" y1="346" x2="115" y2="413" stroke="#00ff00" stroke-width="1.1" />
<path d="M115 413 L119.5 411.5 L116 408.5" fill="none" stroke="#00ff00" stroke-width="0.9" />
<line x1="330" y1="380" x2="330" y2="345" stroke="#ff0000" stroke-width="1" />
<line x1="377.5" y1="417" x2="377.5" y2="392" stroke="#ff0000" stroke-width="1" />
<line x1="504.5" y1="417" x2="504.5" y2="385" stroke="#ff0000" stroke-width="1" />
<line x1="348" y1="375.75" x2="378" y2="375.75" stroke="#00ff00" stroke-width="1" />
<line x1="361" y1="366" x2="378" y2="366" stroke="#00ff00" stroke-width="1" />
<line x1="295.5" y1="350" x2="296" y2="363" stroke="#00ff00" stroke-width="1" />
<line x1="384.5" y1="395" x2="385" y2="412" stroke="#00ff00" stroke-width="1" />
<line x1="467" y1="414" x2="467" y2="446" stroke="#00ff00" stroke-width="1" />
<line x1="467" y1="430" x2="471" y2="430" stroke="#00ff00" stroke-width="1" />
<line x1="467.5" y1="391" x2="462" y2="414" stroke="#00ff00" stroke-width="1" />
<path d="M186.5 146 L189.5 137.5 L197 143.5" fill="none" stroke="#00ff00" stroke-width="1" />
<path d="M158 153.5 L162 148 L167 152" fill="none" stroke="#00ff00" stroke-width="1" />
<text x="236" y="376.6" font-size="5" fill="#ffffff" font-weight="bold" textLength="11" lengthAdjust="spacingAndGlyphs">163.05</text>
<text x="436" y="413.2" font-size="5" fill="#ffffff" font-weight="bold" textLength="10" lengthAdjust="spacingAndGlyphs">127.95</text>
<text x="212" y="120" font-size="5" fill="#ffffff" font-weight="bold" textLength="9" lengthAdjust="spacingAndGlyphs">20.00</text>
<text x="257" y="120.8" font-size="5" fill="#ffffff" font-weight="bold" textLength="10" lengthAdjust="spacingAndGlyphs">用地红线</text>
<text x="371" y="120.5" font-size="5" fill="#ffffff" font-weight="bold" textLength="6" lengthAdjust="spacingAndGlyphs">道路</text>
<text x="232.5" y="134.4" font-size="5" fill="#ffffff" font-weight="bold" textLength="7.5" lengthAdjust="spacingAndGlyphs">道路</text>
<text x="266" y="120.3" font-size="5" fill="#ffffff" font-weight="bold" textLength="7" lengthAdjust="spacingAndGlyphs">退线</text>
<text x="296.5" y="135.2" font-size="5" fill="#ffffff" font-weight="bold" textLength="12.5" lengthAdjust="spacingAndGlyphs">出入口</text>
<text x="333.4" y="135.2" font-size="5" fill="#ffffff" font-weight="bold" textLength="11.4" lengthAdjust="spacingAndGlyphs">出入口</text>
<text x="120" y="245.5" font-size="5" fill="#ffffff" font-weight="bold" textLength="9" lengthAdjust="spacingAndGlyphs">出入口</text>
<text x="107" y="283" font-size="4.8" fill="#ffffff" font-weight="bold" text-anchor="middle" transform="rotate(-90 107 283)">22.00</text>
<text x="126" y="190" font-size="4.8" fill="#ffffff" font-weight="bold" text-anchor="middle" transform="rotate(-90 126 190)">8.00</text>
<text x="126" y="215" font-size="4.8" fill="#ffffff" font-weight="bold" text-anchor="middle" transform="rotate(-90 126 215)">5.00</text>
<text x="551" y="212" font-size="4.8" fill="#ffffff" font-weight="bold" text-anchor="middle" transform="rotate(-90 551 212)">40.00</text>
<text x="551" y="282" font-size="4.8" fill="#ffffff" font-weight="bold" text-anchor="middle" transform="rotate(-90 551 282)">20.00</text>
<text x="551" y="360" font-size="4.8" fill="#ffffff" font-weight="bold" text-anchor="middle" transform="rotate(-90 551 360)">25.50</text>
<text x="533" y="360" font-size="4.8" fill="#ffffff" font-weight="bold" text-anchor="middle" transform="rotate(-90 533 360)">25.41</text>
<text x="528" y="208" font-size="4.8" fill="#ffffff" font-weight="bold" text-anchor="middle" >道</text>
<text x="528" y="235" font-size="4.8" fill="#ffffff" font-weight="bold" text-anchor="middle" >路</text>
<text x="528" y="258" font-size="4.8" fill="#ffffff" font-weight="bold" text-anchor="middle" >中</text>
<text x="528" y="275" font-size="4.8" fill="#ffffff" font-weight="bold" text-anchor="middle" >线</text>
<text x="150" y="237" font-size="4.8" fill="#ffffff" font-weight="bold" text-anchor="middle" >11.67</text>
<text x="152" y="249" font-size="4.8" fill="#ffffff" font-weight="bold" text-anchor="middle" >7.00</text>
<text x="527" y="247" font-size="4.8" fill="#ffffff" font-weight="bold" text-anchor="middle" >15.00</text>
<text x="492" y="246.5" font-size="4.8" fill="#ffffff" font-weight="bold" text-anchor="middle" >7.00</text>
<text x="495" y="264" font-size="4.8" fill="#ffffff" font-weight="bold" text-anchor="middle" >1.00</text>
<text x="494" y="198" font-size="4.8" fill="#ffffff" font-weight="bold" text-anchor="middle" >16.25</text>
<text x="507" y="204" font-size="4.8" fill="#ffffff" font-weight="bold" text-anchor="middle" >4.0</text>
<text x="519" y="283" font-size="4.8" fill="#ffffff" font-weight="bold" text-anchor="middle" >3</text>
<text x="526" y="283" font-size="4.8" fill="#ffffff" font-weight="bold" text-anchor="middle" >6.00</text>
<text x="538" y="283" font-size="4.8" fill="#ffffff" font-weight="bold" text-anchor="middle" >6.00</text>
<text x="549" y="283" font-size="4.8" fill="#ffffff" font-weight="bold" text-anchor="middle" >2.50</text>
<text x="127.5" y="178" font-size="4.8" fill="#ffffff" font-weight="bold" text-anchor="middle" >15.00</text>
<text x="123.5" y="195" font-size="4.8" fill="#ffffff" font-weight="bold" text-anchor="middle" >20.15</text>
<text x="124" y="169" font-size="4.8" fill="#ffffff" font-weight="bold" text-anchor="middle" >3</text>
<text x="120.5" y="205" font-size="4.8" fill="#ffffff" font-weight="bold" text-anchor="middle" >出</text>
<text x="123.5" y="259" font-size="4.8" fill="#ffffff" font-weight="bold" text-anchor="middle" >11.05</text>
<text x="123.5" y="247" font-size="4.8" fill="#ffffff" font-weight="bold" text-anchor="middle" >市</text>
<rect x="244" y="352" width="5" height="6.5" fill="#ffffff" />
<rect x="254.5" y="351.5" width="3.5" height="6.5" fill="#ffffff" />
<rect x="266" y="354" width="4" height="2" fill="#ffffff" />
<rect x="277" y="350" width="4.5" height="6.5" fill="#ffffff" />
<rect x="297.5" y="349" width="4" height="7" fill="#ffffff" />
<rect x="412" y="393" width="4.5" height="6.5" fill="#ffffff" />
<rect x="424.5" y="392.5" width="3.5" height="6.5" fill="#ffffff" />
<rect x="437" y="394" width="4" height="2.5" fill="#ffffff" />
<rect x="451" y="391" width="4.5" height="6.5" fill="#ffffff" />
<rect x="429" y="348" width="3" height="2.5" fill="#ffffff" />
<rect x="114.5" y="287" width="12.5" height="3.8" fill="#ffffff" />
<rect x="114.5" y="292" width="12.5" height="4.5" fill="#ffffff" />
<rect x="531" y="325" width="20" height="4.5" fill="#ffffff" />
<rect x="122" y="312" width="3.5" height="6" fill="#ffffff" />
<text x="369.5" y="364.8" font-size="4.8" fill="#ffffff" font-weight="bold" text-anchor="middle" >35.83</text>
<text x="369.5" y="373" font-size="4.8" fill="#ffffff" font-weight="bold" text-anchor="middle" >7.00</text>
<text x="370" y="383" font-size="4.8" fill="#ffffff" font-weight="bold" text-anchor="middle" transform="rotate(-55 370 383)">7.51</text>
<text x="376.5" y="388.5" font-size="4.8" fill="#ffffff" font-weight="bold" text-anchor="middle" transform="rotate(-55 376.5 388.5)">6.50</text>
<text x="386.5" y="392" font-size="4.8" fill="#ffffff" font-weight="bold" text-anchor="middle" transform="rotate(-80 386.5 392)">3.00</text>
<text x="352.5" y="355" font-size="4.8" fill="#ffffff" font-weight="bold" text-anchor="middle" transform="rotate(-85 352.5 355)">19.05</text>
<text x="389" y="402" font-size="4.8" fill="#ffffff" font-weight="bold" text-anchor="middle" transform="rotate(-85 389 402)">12.00</text>
<text x="298.5" y="356.5" font-size="4.8" fill="#ffffff" font-weight="bold" text-anchor="middle" transform="rotate(-88 298.5 356.5)">7.00</text>
<text x="155.5" y="345" font-size="4.8" fill="#ffffff" font-weight="bold" text-anchor="middle" transform="rotate(-55 155.5 345)">5.94</text>
<text x="232.6" y="348.5" font-size="4.8" fill="#ffffff" font-weight="bold" text-anchor="middle" transform="rotate(-85 232.6 348.5)">3.00</text>
<text x="151.5" y="155.5" font-size="4.8" fill="#ffffff" font-weight="bold" text-anchor="middle" transform="rotate(-50 151.5 155.5)">5.00</text>
<text x="172" y="150" font-size="4.8" fill="#ffffff" font-weight="bold" text-anchor="middle" transform="rotate(-50 172 150)">10.00</text>
<text x="185" y="148.5" font-size="4.8" fill="#ffffff" font-weight="bold" text-anchor="middle" transform="rotate(-50 185 148.5)">10.00</text>
<path d="M361 366 L378 366 M361 375.75 L378 375.75 M366 380 L372 389 M372 377 L381 392" fill="none" stroke="#00ff00" stroke-width="1" />
<text x="334" y="124.5" font-size="5.2" fill="#ffffff" font-weight="bold">退</text>
<text x="358.3" y="124.5" font-size="5.2" fill="#ffffff" font-weight="bold">线</text>
<text x="370" y="121" font-size="5.2" fill="#ffffff" font-weight="bold">B</text>
<text x="370" y="126" font-size="5.2" fill="#ffffff" font-weight="bold">R</text>
<text x="257.5" y="126.5" font-size="5.2" fill="#ffffff" font-weight="bold">退</text>
<text x="257.5" y="131.5" font-size="5.2" fill="#ffffff" font-weight="bold">线</text>
<text x="278.5" y="119.5" font-size="5.2" fill="#ffffff" font-weight="bold">道</text>
<text x="278.5" y="125" font-size="5.2" fill="#ffffff" font-weight="bold">路</text>
<circle cx="178.75" cy="114.5" r="4.3" fill="none" stroke="#00ff00" stroke-width="1.1"/>
<text x="176.15" y="116.9" font-size="6.5" fill="#ffffff" font-weight="bold" textLength="5.2" lengthAdjust="spacingAndGlyphs">H</text>
<circle cx="341.25" cy="114" r="4.3" fill="none" stroke="#00ff00" stroke-width="1.1"/>
<text x="338.65" y="116.4" font-size="6.5" fill="#ffffff" font-weight="bold" textLength="5.2" lengthAdjust="spacingAndGlyphs">H</text>
<circle cx="350" cy="114" r="4.3" fill="none" stroke="#00ff00" stroke-width="1.1"/>
<text x="347.4" y="116.4" font-size="6.5" fill="#ffffff" font-weight="bold" textLength="5.2" lengthAdjust="spacingAndGlyphs">H</text>
<circle cx="490.5" cy="114.5" r="4.3" fill="none" stroke="#00ff00" stroke-width="1.1"/>
<text x="487.9" y="116.9" font-size="6.5" fill="#ffffff" font-weight="bold" textLength="5.2" lengthAdjust="spacingAndGlyphs">H</text>
<circle cx="149.7" cy="154.5" r="4.3" fill="none" stroke="#00ff00" stroke-width="1.1"/>
<text x="147.1" y="156.9" font-size="6.5" fill="#ffffff" font-weight="bold" textLength="5.2" lengthAdjust="spacingAndGlyphs">H</text>
<circle cx="149.7" cy="168.3" r="4.3" fill="none" stroke="#00ff00" stroke-width="1.1"/>
<text x="147.1" y="170.70000000000002" font-size="6.5" fill="#ffffff" font-weight="bold" textLength="5.2" lengthAdjust="spacingAndGlyphs">H</text>
<circle cx="102.5" cy="235.25" r="4.3" fill="none" stroke="#00ff00" stroke-width="1.1"/>
<text x="99.9" y="237.65" font-size="6.5" fill="#ffffff" font-weight="bold" textLength="5.2" lengthAdjust="spacingAndGlyphs">H</text>
<circle cx="102.5" cy="272.75" r="4.3" fill="none" stroke="#00ff00" stroke-width="1.1"/>
<text x="99.9" y="275.15" font-size="6.5" fill="#ffffff" font-weight="bold" textLength="5.2" lengthAdjust="spacingAndGlyphs">H</text>
<circle cx="102.5" cy="296.25" r="4.3" fill="none" stroke="#00ff00" stroke-width="1.1"/>
<text x="99.9" y="298.65" font-size="6.5" fill="#ffffff" font-weight="bold" textLength="5.2" lengthAdjust="spacingAndGlyphs">H</text>
<circle cx="102.5" cy="340.75" r="4.3" fill="none" stroke="#00ff00" stroke-width="1.1"/>
<text x="99.9" y="343.15" font-size="6.5" fill="#ffffff" font-weight="bold" textLength="5.2" lengthAdjust="spacingAndGlyphs">H</text>
<circle cx="139.5" cy="384" r="4.3" fill="none" stroke="#00ff00" stroke-width="1.1"/>
<text x="136.9" y="386.4" font-size="6.5" fill="#ffffff" font-weight="bold" textLength="5.2" lengthAdjust="spacingAndGlyphs">H</text>
<circle cx="148" cy="384" r="4.3" fill="none" stroke="#00ff00" stroke-width="1.1"/>
<text x="145.4" y="386.4" font-size="6.5" fill="#ffffff" font-weight="bold" textLength="5.2" lengthAdjust="spacingAndGlyphs">H</text>
<circle cx="157" cy="384" r="4.3" fill="none" stroke="#00ff00" stroke-width="1.1"/>
<text x="154.4" y="386.4" font-size="6.5" fill="#ffffff" font-weight="bold" textLength="5.2" lengthAdjust="spacingAndGlyphs">H</text>
<circle cx="330" cy="384" r="4.3" fill="none" stroke="#00ff00" stroke-width="1.1"/>
<text x="327.4" y="386.4" font-size="6.5" fill="#ffffff" font-weight="bold" textLength="5.2" lengthAdjust="spacingAndGlyphs">H</text>
<circle cx="348" cy="375.75" r="4.3" fill="none" stroke="#00ff00" stroke-width="1.1"/>
<text x="345.4" y="378.15" font-size="6.5" fill="#ffffff" font-weight="bold" textLength="5.2" lengthAdjust="spacingAndGlyphs">H</text>
<circle cx="377.5" cy="421" r="4.3" fill="none" stroke="#00ff00" stroke-width="1.1"/>
<text x="374.9" y="423.4" font-size="6.5" fill="#ffffff" font-weight="bold" textLength="5.2" lengthAdjust="spacingAndGlyphs">H</text>
<circle cx="558.75" cy="334.5" r="4.3" fill="none" stroke="#00ff00" stroke-width="1.1"/>
<text x="556.15" y="336.9" font-size="6.5" fill="#ffffff" font-weight="bold" textLength="5.2" lengthAdjust="spacingAndGlyphs">H</text>
<circle cx="558.75" cy="371.5" r="4.3" fill="none" stroke="#00ff00" stroke-width="1.1"/>
<text x="556.15" y="373.9" font-size="6.5" fill="#ffffff" font-weight="bold" textLength="5.2" lengthAdjust="spacingAndGlyphs">H</text>
<circle cx="504.5" cy="421" r="4.3" fill="none" stroke="#00ff00" stroke-width="1.1"/>
<text x="501.9" y="423.4" font-size="6.5" fill="#ffffff" font-weight="bold" textLength="5.2" lengthAdjust="spacingAndGlyphs">H</text>
<circle cx="558.75" cy="156.5" r="4.3" fill="none" stroke="#00ff00" stroke-width="1.1"/>
<text x="556.15" y="158.9" font-size="6.5" fill="#ffffff" font-weight="bold" textLength="5.2" lengthAdjust="spacingAndGlyphs">H</text>
<circle cx="558.75" cy="247.75" r="4.3" fill="none" stroke="#00ff00" stroke-width="1.1"/>
<text x="556.15" y="250.15" font-size="6.5" fill="#ffffff" font-weight="bold" textLength="5.2" lengthAdjust="spacingAndGlyphs">H</text>
<circle cx="558.75" cy="257" r="4.3" fill="none" stroke="#00ff00" stroke-width="1.1"/>
<text x="556.15" y="259.4" font-size="6.5" fill="#ffffff" font-weight="bold" textLength="5.2" lengthAdjust="spacingAndGlyphs">H</text>
<circle cx="558.75" cy="298.25" r="4.3" fill="none" stroke="#00ff00" stroke-width="1.1"/>
<text x="556.15" y="300.65" font-size="6.5" fill="#ffffff" font-weight="bold" textLength="5.2" lengthAdjust="spacingAndGlyphs">H</text>
<path d="M125 116.2 L131 116.2 L128 120 Z" fill="#ffff00" stroke="none" stroke-width="0" />
<text x="124.8" y="115.6" font-size="4.3" fill="#ff00ff" font-weight="bold" stroke="#ff00ff" stroke-width="0.2" textLength="6" lengthAdjust="spacingAndGlyphs">7.45</text>
<path d="M173.3 116.2 L179.3 116.2 L176.3 120 Z" fill="#ffff00" stroke="none" stroke-width="0" />
<text x="173.10000000000002" y="115.6" font-size="4.3" fill="#ff00ff" font-weight="bold" stroke="#ff00ff" stroke-width="0.2" textLength="6" lengthAdjust="spacingAndGlyphs">7.45</text>
<path d="M136.6 134.2 L142.6 134.2 L139.6 138 Z" fill="#ffff00" stroke="none" stroke-width="0" />
<text x="136.4" y="133.6" font-size="4.3" fill="#ff00ff" font-weight="bold" stroke="#ff00ff" stroke-width="0.2" textLength="6" lengthAdjust="spacingAndGlyphs">7.45</text>
<path d="M173.3 129.5 L179.3 129.5 L176.3 133.3 Z" fill="#ffff00" stroke="none" stroke-width="0" />
<text x="173.10000000000002" y="128.9" font-size="4.3" fill="#ff00ff" font-weight="bold" stroke="#ff00ff" stroke-width="0.2" textLength="6" lengthAdjust="spacingAndGlyphs">7.45</text>
<path d="M228.3 115.8 L234.3 115.8 L231.3 119.6 Z" fill="#ffff00" stroke="none" stroke-width="0" />
<text x="228.10000000000002" y="115.19999999999999" font-size="4.3" fill="#ff00ff" font-weight="bold" stroke="#ff00ff" stroke-width="0.2" textLength="6" lengthAdjust="spacingAndGlyphs">7.45</text>
<path d="M228.3 129.89999999999998 L234.3 129.89999999999998 L231.3 133.7 Z" fill="#ffff00" stroke="none" stroke-width="0" />
<text x="228.10000000000002" y="129.29999999999998" font-size="4.3" fill="#ff00ff" font-weight="bold" stroke="#ff00ff" stroke-width="0.2" textLength="6" lengthAdjust="spacingAndGlyphs">7.45</text>
<path d="M228.3 144.79999999999998 L234.3 144.79999999999998 L231.3 148.6 Z" fill="#ffff00" stroke="none" stroke-width="0" />
<text x="228.10000000000002" y="144.2" font-size="4.3" fill="#ff00ff" font-weight="bold" stroke="#ff00ff" stroke-width="0.2" textLength="6" lengthAdjust="spacingAndGlyphs">7.45</text>
<path d="M288.75 115.8 L294.75 115.8 L291.75 119.6 Z" fill="#ffff00" stroke="none" stroke-width="0" />
<text x="288.55" y="115.19999999999999" font-size="4.3" fill="#ff00ff" font-weight="bold" stroke="#ff00ff" stroke-width="0.2" textLength="6" lengthAdjust="spacingAndGlyphs">7.45</text>
<path d="M288.75 129.89999999999998 L294.75 129.89999999999998 L291.75 133.7 Z" fill="#ffff00" stroke="none" stroke-width="0" />
<text x="288.55" y="129.29999999999998" font-size="4.3" fill="#ff00ff" font-weight="bold" stroke="#ff00ff" stroke-width="0.2" textLength="6" lengthAdjust="spacingAndGlyphs">7.45</text>
<path d="M317.5 115.8 L323.5 115.8 L320.5 119.6 Z" fill="#ffff00" stroke="none" stroke-width="0" />
<text x="317.3" y="115.19999999999999" font-size="4.3" fill="#ff00ff" font-weight="bold" stroke="#ff00ff" stroke-width="0.2" textLength="6" lengthAdjust="spacingAndGlyphs">7.45</text>
<path d="M317.5 129.89999999999998 L323.5 129.89999999999998 L320.5 133.7 Z" fill="#ffff00" stroke="none" stroke-width="0" />
<text x="317.3" y="129.29999999999998" font-size="4.3" fill="#ff00ff" font-weight="bold" stroke="#ff00ff" stroke-width="0.2" textLength="6" lengthAdjust="spacingAndGlyphs">7.45</text>
<path d="M317.5 141.2 L323.5 141.2 L320.5 145 Z" fill="#ffff00" stroke="none" stroke-width="0" />
<text x="317.3" y="140.6" font-size="4.3" fill="#ff00ff" font-weight="bold" stroke="#ff00ff" stroke-width="0.2" textLength="6" lengthAdjust="spacingAndGlyphs">7.45</text>
<path d="M347 115.8 L353 115.8 L350 119.6 Z" fill="#ffff00" stroke="none" stroke-width="0" />
<text x="346.8" y="115.19999999999999" font-size="4.3" fill="#ff00ff" font-weight="bold" stroke="#ff00ff" stroke-width="0.2" textLength="6" lengthAdjust="spacingAndGlyphs">7.45</text>
<path d="M345.8 129.89999999999998 L351.8 129.89999999999998 L348.8 133.7 Z" fill="#ffff00" stroke="none" stroke-width="0" />
<text x="345.6" y="129.29999999999998" font-size="4.3" fill="#ff00ff" font-weight="bold" stroke="#ff00ff" stroke-width="0.2" textLength="6" lengthAdjust="spacingAndGlyphs">7.45</text>
<path d="M386.5 115.8 L392.5 115.8 L389.5 119.6 Z" fill="#ffff00" stroke="none" stroke-width="0" />
<text x="386.3" y="115.19999999999999" font-size="4.3" fill="#ff00ff" font-weight="bold" stroke="#ff00ff" stroke-width="0.2" textLength="6" lengthAdjust="spacingAndGlyphs">7.45</text>
<path d="M386.5 129.89999999999998 L392.5 129.89999999999998 L389.5 133.7 Z" fill="#ffff00" stroke="none" stroke-width="0" />
<text x="386.3" y="129.29999999999998" font-size="4.3" fill="#ff00ff" font-weight="bold" stroke="#ff00ff" stroke-width="0.2" textLength="6" lengthAdjust="spacingAndGlyphs">7.45</text>
<path d="M386.5 144.79999999999998 L392.5 144.79999999999998 L389.5 148.6 Z" fill="#ffff00" stroke="none" stroke-width="0" />
<text x="386.3" y="144.2" font-size="4.3" fill="#ff00ff" font-weight="bold" stroke="#ff00ff" stroke-width="0.2" textLength="6" lengthAdjust="spacingAndGlyphs">7.45</text>
<path d="M424.5 115.8 L430.5 115.8 L427.5 119.6 Z" fill="#ffff00" stroke="none" stroke-width="0" />
<text x="424.3" y="115.19999999999999" font-size="4.3" fill="#ff00ff" font-weight="bold" stroke="#ff00ff" stroke-width="0.2" textLength="6" lengthAdjust="spacingAndGlyphs">7.45</text>
<path d="M424.5 129.89999999999998 L430.5 129.89999999999998 L427.5 133.7 Z" fill="#ffff00" stroke="none" stroke-width="0" />
<text x="424.3" y="129.29999999999998" font-size="4.3" fill="#ff00ff" font-weight="bold" stroke="#ff00ff" stroke-width="0.2" textLength="6" lengthAdjust="spacingAndGlyphs">7.45</text>
<path d="M523.3 115.8 L529.3 115.8 L526.3 119.6 Z" fill="#ffff00" stroke="none" stroke-width="0" />
<text x="523.0999999999999" y="115.19999999999999" font-size="4.3" fill="#ff00ff" font-weight="bold" stroke="#ff00ff" stroke-width="0.2" textLength="6" lengthAdjust="spacingAndGlyphs">7.45</text>
<path d="M123.2 164.79999999999998 L129.2 164.79999999999998 L126.2 168.6 Z" fill="#ffff00" stroke="none" stroke-width="0" />
<text x="123.0" y="164.2" font-size="4.3" fill="#ff00ff" font-weight="bold" stroke="#ff00ff" stroke-width="0.2" textLength="6" lengthAdjust="spacingAndGlyphs">7.45</text>
<path d="M130 164.79999999999998 L136 164.79999999999998 L133 168.6 Z" fill="#ffff00" stroke="none" stroke-width="0" />
<text x="129.8" y="164.2" font-size="4.3" fill="#ff00ff" font-weight="bold" stroke="#ff00ff" stroke-width="0.2" textLength="6" lengthAdjust="spacingAndGlyphs">7.45</text>
<path d="M158.3 178.2 L164.3 178.2 L161.3 182 Z" fill="#ffff00" stroke="none" stroke-width="0" />
<text x="158.10000000000002" y="177.6" font-size="4.3" fill="#ff00ff" font-weight="bold" stroke="#ff00ff" stroke-width="0.2" textLength="6" lengthAdjust="spacingAndGlyphs">7.45</text>
<path d="M162.3 214.79999999999998 L168.3 214.79999999999998 L165.3 218.6 Z" fill="#ffff00" stroke="none" stroke-width="0" />
<text x="162.10000000000002" y="214.2" font-size="4.3" fill="#ff00ff" font-weight="bold" stroke="#ff00ff" stroke-width="0.2" textLength="6" lengthAdjust="spacingAndGlyphs">7.45</text>
<path d="M167.5 164.2 L173.5 164.2 L170.5 168 Z" fill="#ffff00" stroke="none" stroke-width="0" />
<text x="167.3" y="163.6" font-size="4.3" fill="#ff00ff" font-weight="bold" stroke="#ff00ff" stroke-width="0.2" textLength="6" lengthAdjust="spacingAndGlyphs">7.45</text>
<path d="M120.75 221.95 L126.75 221.95 L123.75 225.75 Z" fill="#ffff00" stroke="none" stroke-width="0" />
<text x="120.55" y="221.35" font-size="4.3" fill="#ff00ff" font-weight="bold" stroke="#ff00ff" stroke-width="0.2" textLength="6" lengthAdjust="spacingAndGlyphs">7.45</text>
<path d="M147 220.7 L153 220.7 L150 224.5 Z" fill="#ffff00" stroke="none" stroke-width="0" />
<text x="146.8" y="220.1" font-size="4.3" fill="#ff00ff" font-weight="bold" stroke="#ff00ff" stroke-width="0.2" textLength="6" lengthAdjust="spacingAndGlyphs">7.45</text>
<path d="M118.75 278.2 L124.75 278.2 L121.75 282 Z" fill="#ffff00" stroke="none" stroke-width="0" />
<text x="118.55" y="277.6" font-size="4.3" fill="#ff00ff" font-weight="bold" stroke="#ff00ff" stroke-width="0.2" textLength="6" lengthAdjust="spacingAndGlyphs">7.45</text>
<path d="M143.25 297.7 L149.25 297.7 L146.25 301.5 Z" fill="#ffff00" stroke="none" stroke-width="0" />
<text x="143.05" y="297.1" font-size="4.3" fill="#ff00ff" font-weight="bold" stroke="#ff00ff" stroke-width="0.2" textLength="6" lengthAdjust="spacingAndGlyphs">7.45</text>
<path d="M182 279.2 L188 279.2 L185 283 Z" fill="#ffff00" stroke="none" stroke-width="0" />
<text x="181.8" y="278.6" font-size="4.3" fill="#ff00ff" font-weight="bold" stroke="#ff00ff" stroke-width="0.2" textLength="6" lengthAdjust="spacingAndGlyphs">7.45</text>
<path d="M175 284.2 L181 284.2 L178 288 Z" fill="#ffff00" stroke="none" stroke-width="0" />
<text x="174.8" y="283.6" font-size="4.3" fill="#ff00ff" font-weight="bold" stroke="#ff00ff" stroke-width="0.2" textLength="6" lengthAdjust="spacingAndGlyphs">7.45</text>
<path d="M194 284.2 L200 284.2 L197 288 Z" fill="#ffff00" stroke="none" stroke-width="0" />
<text x="193.8" y="283.6" font-size="4.3" fill="#ff00ff" font-weight="bold" stroke="#ff00ff" stroke-width="0.2" textLength="6" lengthAdjust="spacingAndGlyphs">7.45</text>
<path d="M117.75 357.2 L123.75 357.2 L120.75 361 Z" fill="#ffff00" stroke="none" stroke-width="0" />
<text x="117.55" y="356.6" font-size="4.3" fill="#ff00ff" font-weight="bold" stroke="#ff00ff" stroke-width="0.2" textLength="6" lengthAdjust="spacingAndGlyphs">7.45</text>
<path d="M160.75 342.7 L166.75 342.7 L163.75 346.5 Z" fill="#ffff00" stroke="none" stroke-width="0" />
<text x="160.55" y="342.1" font-size="4.3" fill="#ff00ff" font-weight="bold" stroke="#ff00ff" stroke-width="0.2" textLength="6" lengthAdjust="spacingAndGlyphs">7.45</text>
<path d="M143.25 300.2 L149.25 300.2 L146.25 304 Z" fill="#ffff00" stroke="none" stroke-width="0" />
<text x="143.05" y="299.6" font-size="4.3" fill="#ff00ff" font-weight="bold" stroke="#ff00ff" stroke-width="0.2" textLength="6" lengthAdjust="spacingAndGlyphs">7.45</text>
<path d="M222 328.2 L228 328.2 L225 332 Z" fill="#ffff00" stroke="none" stroke-width="0" />
<text x="221.8" y="327.6" font-size="4.3" fill="#ff00ff" font-weight="bold" stroke="#ff00ff" stroke-width="0.2" textLength="6" lengthAdjust="spacingAndGlyphs">7.45</text>
<path d="M255 321.2 L261 321.2 L258 325 Z" fill="#ffff00" stroke="none" stroke-width="0" />
<text x="254.8" y="320.6" font-size="4.3" fill="#ff00ff" font-weight="bold" stroke="#ff00ff" stroke-width="0.2" textLength="6" lengthAdjust="spacingAndGlyphs">7.45</text>
<path d="M287 323.95 L293 323.95 L290 327.75 Z" fill="#ffff00" stroke="none" stroke-width="0" />
<text x="286.8" y="323.35" font-size="4.3" fill="#ff00ff" font-weight="bold" stroke="#ff00ff" stroke-width="0.2" textLength="6" lengthAdjust="spacingAndGlyphs">7.45</text>
<path d="M332 320.2 L338 320.2 L335 324 Z" fill="#ffff00" stroke="none" stroke-width="0" />
<text x="331.8" y="319.6" font-size="4.3" fill="#ff00ff" font-weight="bold" stroke="#ff00ff" stroke-width="0.2" textLength="6" lengthAdjust="spacingAndGlyphs">7.45</text>
<path d="M349 343.2 L355 343.2 L352 347 Z" fill="#ffff00" stroke="none" stroke-width="0" />
<text x="348.8" y="342.6" font-size="4.3" fill="#ff00ff" font-weight="bold" stroke="#ff00ff" stroke-width="0.2" textLength="6" lengthAdjust="spacingAndGlyphs">7.45</text>
<path d="M354 312.2 L360 312.2 L357 316 Z" fill="#ffff00" stroke="none" stroke-width="0" />
<text x="353.8" y="311.6" font-size="4.3" fill="#ff00ff" font-weight="bold" stroke="#ff00ff" stroke-width="0.2" textLength="6" lengthAdjust="spacingAndGlyphs">7.45</text>
<path d="M373.25 312.2 L379.25 312.2 L376.25 316 Z" fill="#ffff00" stroke="none" stroke-width="0" />
<text x="373.05" y="311.6" font-size="4.3" fill="#ff00ff" font-weight="bold" stroke="#ff00ff" stroke-width="0.2" textLength="6" lengthAdjust="spacingAndGlyphs">7.45</text>
<path d="M406.5 312.2 L412.5 312.2 L409.5 316 Z" fill="#ffff00" stroke="none" stroke-width="0" />
<text x="406.3" y="311.6" font-size="4.3" fill="#ff00ff" font-weight="bold" stroke="#ff00ff" stroke-width="0.2" textLength="6" lengthAdjust="spacingAndGlyphs">7.45</text>
<path d="M373.25 325.2 L379.25 325.2 L376.25 329 Z" fill="#ffff00" stroke="none" stroke-width="0" />
<text x="373.05" y="324.6" font-size="4.3" fill="#ff00ff" font-weight="bold" stroke="#ff00ff" stroke-width="0.2" textLength="6" lengthAdjust="spacingAndGlyphs">7.45</text>
<path d="M406.5 325.2 L412.5 325.2 L409.5 329 Z" fill="#ffff00" stroke="none" stroke-width="0" />
<text x="406.3" y="324.6" font-size="4.3" fill="#ff00ff" font-weight="bold" stroke="#ff00ff" stroke-width="0.2" textLength="6" lengthAdjust="spacingAndGlyphs">7.45</text>
<path d="M353.25 396.45 L359.25 396.45 L356.25 400.25 Z" fill="#ffff00" stroke="none" stroke-width="0" />
<text x="353.05" y="395.85" font-size="4.3" fill="#ff00ff" font-weight="bold" stroke="#ff00ff" stroke-width="0.2" textLength="6" lengthAdjust="spacingAndGlyphs">7.45</text>
<path d="M503.25 311.45 L509.25 311.45 L506.25 315.25 Z" fill="#ffff00" stroke="none" stroke-width="0" />
<text x="503.05" y="310.85" font-size="4.3" fill="#ff00ff" font-weight="bold" stroke="#ff00ff" stroke-width="0.2" textLength="6" lengthAdjust="spacingAndGlyphs">7.45</text>
<path d="M514 311.45 L520 311.45 L517 315.25 Z" fill="#ffff00" stroke="none" stroke-width="0" />
<text x="513.8" y="310.85" font-size="4.3" fill="#ff00ff" font-weight="bold" stroke="#ff00ff" stroke-width="0.2" textLength="6" lengthAdjust="spacingAndGlyphs">7.45</text>
<path d="M525.75 311.45 L531.75 311.45 L528.75 315.25 Z" fill="#ffff00" stroke="none" stroke-width="0" />
<text x="525.55" y="310.85" font-size="4.3" fill="#ff00ff" font-weight="bold" stroke="#ff00ff" stroke-width="0.2" textLength="6" lengthAdjust="spacingAndGlyphs">7.45</text>
<path d="M434.5 366.45 L440.5 366.45 L437.5 370.25 Z" fill="#ffff00" stroke="none" stroke-width="0" />
<text x="434.3" y="365.85" font-size="4.3" fill="#ff00ff" font-weight="bold" stroke="#ff00ff" stroke-width="0.2" textLength="6" lengthAdjust="spacingAndGlyphs">7.45</text>
<path d="M527 381.45 L533 381.45 L530 385.25 Z" fill="#ffff00" stroke="none" stroke-width="0" />
<text x="526.8" y="380.85" font-size="4.3" fill="#ff00ff" font-weight="bold" stroke="#ff00ff" stroke-width="0.2" textLength="6" lengthAdjust="spacingAndGlyphs">7.45</text>
<path d="M438.25 313.95 L444.25 313.95 L441.25 317.75 Z" fill="#ffff00" stroke="none" stroke-width="0" />
<text x="438.05" y="313.35" font-size="4.3" fill="#ff00ff" font-weight="bold" stroke="#ff00ff" stroke-width="0.2" textLength="6" lengthAdjust="spacingAndGlyphs">7.45</text>
<path d="M471.5 313.95 L477.5 313.95 L474.5 317.75 Z" fill="#ffff00" stroke="none" stroke-width="0" />
<text x="471.3" y="313.35" font-size="4.3" fill="#ff00ff" font-weight="bold" stroke="#ff00ff" stroke-width="0.2" textLength="6" lengthAdjust="spacingAndGlyphs">7.45</text>
<path d="M222.5 220.7 L228.5 220.7 L225.5 224.5 Z" fill="#ffff00" stroke="none" stroke-width="0" />
<text x="222.3" y="220.1" font-size="4.3" fill="#ff00ff" font-weight="bold" stroke="#ff00ff" stroke-width="0.2" textLength="6" lengthAdjust="spacingAndGlyphs">7.45</text>
<path d="M240.75 220.7 L246.75 220.7 L243.75 224.5 Z" fill="#ffff00" stroke="none" stroke-width="0" />
<text x="240.55" y="220.1" font-size="4.3" fill="#ff00ff" font-weight="bold" stroke="#ff00ff" stroke-width="0.2" textLength="6" lengthAdjust="spacingAndGlyphs">7.45</text>
<path d="M259 220.7 L265 220.7 L262 224.5 Z" fill="#ffff00" stroke="none" stroke-width="0" />
<text x="258.8" y="220.1" font-size="4.3" fill="#ff00ff" font-weight="bold" stroke="#ff00ff" stroke-width="0.2" textLength="6" lengthAdjust="spacingAndGlyphs">7.45</text>
<path d="M277.5 220.7 L283.5 220.7 L280.5 224.5 Z" fill="#ffff00" stroke="none" stroke-width="0" />
<text x="277.3" y="220.1" font-size="4.3" fill="#ff00ff" font-weight="bold" stroke="#ff00ff" stroke-width="0.2" textLength="6" lengthAdjust="spacingAndGlyphs">7.45</text>
<path d="M315 227.7 L321 227.7 L318 231.5 Z" fill="#ffff00" stroke="none" stroke-width="0" />
<text x="314.8" y="227.1" font-size="4.3" fill="#ff00ff" font-weight="bold" stroke="#ff00ff" stroke-width="0.2" textLength="6" lengthAdjust="spacingAndGlyphs">7.45</text>
<path d="M333.25 261.95 L339.25 261.95 L336.25 265.75 Z" fill="#ffff00" stroke="none" stroke-width="0" />
<text x="333.05" y="261.35" font-size="4.3" fill="#ff00ff" font-weight="bold" stroke="#ff00ff" stroke-width="0.2" textLength="6" lengthAdjust="spacingAndGlyphs">7.45</text>
<path d="M324.5 278.2 L330.5 278.2 L327.5 282 Z" fill="#ffff00" stroke="none" stroke-width="0" />
<text x="324.3" y="277.6" font-size="4.3" fill="#ff00ff" font-weight="bold" stroke="#ff00ff" stroke-width="0.2" textLength="6" lengthAdjust="spacingAndGlyphs">7.45</text>
<path d="M234 278.2 L240 278.2 L237 282 Z" fill="#ffff00" stroke="none" stroke-width="0" />
<text x="233.8" y="277.6" font-size="4.3" fill="#ff00ff" font-weight="bold" stroke="#ff00ff" stroke-width="0.2" textLength="6" lengthAdjust="spacingAndGlyphs">7.45</text>
<path d="M247 278.2 L253 278.2 L250 282 Z" fill="#ffff00" stroke="none" stroke-width="0" />
<text x="246.8" y="277.6" font-size="4.3" fill="#ff00ff" font-weight="bold" stroke="#ff00ff" stroke-width="0.2" textLength="6" lengthAdjust="spacingAndGlyphs">7.45</text>
<path d="M280 278.2 L286 278.2 L283 282 Z" fill="#ffff00" stroke="none" stroke-width="0" />
<text x="279.8" y="277.6" font-size="4.3" fill="#ff00ff" font-weight="bold" stroke="#ff00ff" stroke-width="0.2" textLength="6" lengthAdjust="spacingAndGlyphs">7.45</text>
<path d="M215 279.45 L221 279.45 L218 283.25 Z" fill="#ffff00" stroke="none" stroke-width="0" />
<text x="214.8" y="278.85" font-size="4.3" fill="#ff00ff" font-weight="bold" stroke="#ff00ff" stroke-width="0.2" textLength="6" lengthAdjust="spacingAndGlyphs">7.45</text>
<path d="M448.25 155.2 L454.25 155.2 L451.25 159 Z" fill="#ffff00" stroke="none" stroke-width="0" />
<text x="448.05" y="154.6" font-size="4.3" fill="#ff00ff" font-weight="bold" stroke="#ff00ff" stroke-width="0.2" textLength="6" lengthAdjust="spacingAndGlyphs">7.45</text>
<path d="M464 170.7 L470 170.7 L467 174.5 Z" fill="#ffff00" stroke="none" stroke-width="0" />
<text x="463.8" y="170.1" font-size="4.3" fill="#ff00ff" font-weight="bold" stroke="#ff00ff" stroke-width="0.2" textLength="6" lengthAdjust="spacingAndGlyphs">7.45</text>
<path d="M475.75 179.45 L481.75 179.45 L478.75 183.25 Z" fill="#ffff00" stroke="none" stroke-width="0" />
<text x="475.55" y="178.85" font-size="4.3" fill="#ff00ff" font-weight="bold" stroke="#ff00ff" stroke-width="0.2" textLength="6" lengthAdjust="spacingAndGlyphs">7.45</text>
<path d="M495.75 179.45 L501.75 179.45 L498.75 183.25 Z" fill="#ffff00" stroke="none" stroke-width="0" />
<text x="495.55" y="178.85" font-size="4.3" fill="#ff00ff" font-weight="bold" stroke="#ff00ff" stroke-width="0.2" textLength="6" lengthAdjust="spacingAndGlyphs">7.45</text>
<path d="M496.25 210.7 L502.25 210.7 L499.25 214.5 Z" fill="#ffff00" stroke="none" stroke-width="0" />
<text x="496.05" y="210.1" font-size="4.3" fill="#ff00ff" font-weight="bold" stroke="#ff00ff" stroke-width="0.2" textLength="6" lengthAdjust="spacingAndGlyphs">7.45</text>
<path d="M196 220.7 L202 220.7 L199 224.5 Z" fill="#ffff00" stroke="none" stroke-width="0" />
<text x="195.8" y="220.1" font-size="4.3" fill="#ff00ff" font-weight="bold" stroke="#ff00ff" stroke-width="0.2" textLength="6" lengthAdjust="spacingAndGlyphs">7.45</text>
<path d="M297 220.7 L303 220.7 L300 224.5 Z" fill="#ffff00" stroke="none" stroke-width="0" />
<text x="296.8" y="220.1" font-size="4.3" fill="#ff00ff" font-weight="bold" stroke="#ff00ff" stroke-width="0.2" textLength="6" lengthAdjust="spacingAndGlyphs">7.45</text>
<path d="M266 284.2 L272 284.2 L269 288 Z" fill="#ffff00" stroke="none" stroke-width="0" />
<text x="265.8" y="283.6" font-size="4.3" fill="#ff00ff" font-weight="bold" stroke="#ff00ff" stroke-width="0.2" textLength="6" lengthAdjust="spacingAndGlyphs">7.45</text>
<path d="M307 284.2 L313 284.2 L310 288 Z" fill="#ffff00" stroke="none" stroke-width="0" />
<text x="306.8" y="283.6" font-size="4.3" fill="#ff00ff" font-weight="bold" stroke="#ff00ff" stroke-width="0.2" textLength="6" lengthAdjust="spacingAndGlyphs">7.45</text>
<path d="M154 284.2 L160 284.2 L157 288 Z" fill="#ffff00" stroke="none" stroke-width="0" />
<text x="153.8" y="283.6" font-size="4.3" fill="#ff00ff" font-weight="bold" stroke="#ff00ff" stroke-width="0.2" textLength="6" lengthAdjust="spacingAndGlyphs">7.45</text>
<path d="M427 120.2 L433 120.2 L430 124 Z" fill="#ffff00" stroke="none" stroke-width="0" />
<text x="426.8" y="119.6" font-size="4.3" fill="#ff00ff" font-weight="bold" stroke="#ff00ff" stroke-width="0.2" textLength="6" lengthAdjust="spacingAndGlyphs">7.45</text>
<path d="M438 326.2 L444 326.2 L441 330 Z" fill="#ffff00" stroke="none" stroke-width="0" />
<text x="437.8" y="325.6" font-size="4.3" fill="#ff00ff" font-weight="bold" stroke="#ff00ff" stroke-width="0.2" textLength="6" lengthAdjust="spacingAndGlyphs">7.45</text>
<path d="M471 326.2 L477 326.2 L474 330 Z" fill="#ffff00" stroke="none" stroke-width="0" />
<text x="470.8" y="325.6" font-size="4.3" fill="#ff00ff" font-weight="bold" stroke="#ff00ff" stroke-width="0.2" textLength="6" lengthAdjust="spacingAndGlyphs">7.45</text>
<line x1="231.2" y1="121.5" x2="231.2" y2="143.5" stroke="#ff0000" stroke-width="1" />
<line x1="291.75" y1="121.5" x2="291.75" y2="143.5" stroke="#ff0000" stroke-width="1" />
<line x1="320.5" y1="121.5" x2="320.5" y2="143.5" stroke="#ff0000" stroke-width="1" />
<line x1="350" y1="121.5" x2="350" y2="143.5" stroke="#ff0000" stroke-width="1" />
<line x1="389.5" y1="121.5" x2="389.5" y2="143.5" stroke="#ff0000" stroke-width="1" />
<line x1="427.5" y1="121.5" x2="427.5" y2="143.5" stroke="#ff0000" stroke-width="1" />
<line x1="176.3" y1="121.5" x2="176.3" y2="143.5" stroke="#ff0000" stroke-width="1" />
<line x1="128" y1="121.5" x2="128" y2="168" stroke="#ff0000" stroke-width="1" stroke-dasharray="6 1.5"/>
<line x1="189" y1="213" x2="189" y2="222" stroke="#ff0000" stroke-width="1.1" />
<path d="M186.8 218 L191.2 218 L189 222 Z" fill="#ff0000" stroke="none" stroke-width="0" />
<line x1="207.5" y1="213" x2="207.5" y2="222" stroke="#ff0000" stroke-width="1.1" />
<path d="M205.3 218 L209.7 218 L207.5 222 Z" fill="#ff0000" stroke="none" stroke-width="0" />
<line x1="225.5" y1="213" x2="225.5" y2="222" stroke="#ff0000" stroke-width="1.1" />
<path d="M223.3 218 L227.7 218 L225.5 222 Z" fill="#ff0000" stroke="none" stroke-width="0" />
<line x1="243.75" y1="213" x2="243.75" y2="222" stroke="#ff0000" stroke-width="1.1" />
<path d="M241.55 218 L245.95 218 L243.75 222 Z" fill="#ff0000" stroke="none" stroke-width="0" />
<line x1="262" y1="213" x2="262" y2="222" stroke="#ff0000" stroke-width="1.1" />
<path d="M259.8 218 L264.2 218 L262 222 Z" fill="#ff0000" stroke="none" stroke-width="0" />
<line x1="280.5" y1="213" x2="280.5" y2="222" stroke="#ff0000" stroke-width="1.1" />
<path d="M278.3 218 L282.7 218 L280.5 222 Z" fill="#ff0000" stroke="none" stroke-width="0" />
<line x1="185.3" y1="268" x2="185.3" y2="282" stroke="#ff0000" stroke-width="1.1" />
<path d="M183.10000000000002 272 L187.5 272 L185.3 268 Z" fill="#ff0000" stroke="none" stroke-width="0" />
<line x1="185.3" y1="270" x2="185.3" y2="281" stroke="#ff0000" stroke-width="2" />
<line x1="218" y1="268" x2="218" y2="282" stroke="#ff0000" stroke-width="1.1" />
<path d="M215.8 272 L220.2 272 L218 268 Z" fill="#ff0000" stroke="none" stroke-width="0" />
<line x1="218" y1="270" x2="218" y2="281" stroke="#ff0000" stroke-width="2" />
<line x1="251" y1="268" x2="251" y2="282" stroke="#ff0000" stroke-width="1.1" />
<path d="M248.8 272 L253.2 272 L251 268 Z" fill="#ff0000" stroke="none" stroke-width="0" />
<line x1="251" y1="270" x2="251" y2="281" stroke="#ff0000" stroke-width="2" />
<line x1="284" y1="268" x2="284" y2="282" stroke="#ff0000" stroke-width="1.1" />
<path d="M281.8 272 L286.2 272 L284 268 Z" fill="#ff0000" stroke="none" stroke-width="0" />
<line x1="284" y1="270" x2="284" y2="281" stroke="#ff0000" stroke-width="2" />
<line x1="185" y1="286" x2="185" y2="296" stroke="#ff0000" stroke-width="1.1" />
<path d="M182.8 292 L187.2 292 L185 296 Z" fill="#ff0000" stroke="none" stroke-width="0" />
<line x1="204.5" y1="286" x2="204.5" y2="296" stroke="#ff0000" stroke-width="1.1" />
<path d="M202.3 292 L206.7 292 L204.5 296 Z" fill="#ff0000" stroke="none" stroke-width="0" />
<line x1="237" y1="286" x2="237" y2="296" stroke="#ff0000" stroke-width="1.1" />
<path d="M234.8 292 L239.2 292 L237 296 Z" fill="#ff0000" stroke="none" stroke-width="0" />
<line x1="269.5" y1="286" x2="269.5" y2="296" stroke="#ff0000" stroke-width="1.1" />
<path d="M267.3 292 L271.7 292 L269.5 296 Z" fill="#ff0000" stroke="none" stroke-width="0" />
<line x1="302" y1="286" x2="302" y2="296" stroke="#ff0000" stroke-width="1.1" />
<path d="M299.8 292 L304.2 292 L302 296 Z" fill="#ff0000" stroke="none" stroke-width="0" />
<line x1="376.8" y1="304" x2="376.8" y2="328" stroke="#ff0000" stroke-width="1.1" />
<path d="M374.6 324 L379.0 324 L376.8 328 Z" fill="#ff0000" stroke="none" stroke-width="0" />
<line x1="409.4" y1="304" x2="409.4" y2="328" stroke="#ff0000" stroke-width="1.1" />
<path d="M407.2 324 L411.59999999999997 324 L409.4 328 Z" fill="#ff0000" stroke="none" stroke-width="0" />
<line x1="441.6" y1="304" x2="441.6" y2="328" stroke="#ff0000" stroke-width="1.1" />
<path d="M439.40000000000003 324 L443.8 324 L441.6 328 Z" fill="#ff0000" stroke="none" stroke-width="0" />
<line x1="474.2" y1="304" x2="474.2" y2="328" stroke="#ff0000" stroke-width="1.1" />
<path d="M472.0 324 L476.4 324 L474.2 328 Z" fill="#ff0000" stroke="none" stroke-width="0" />
<line x1="394.6" y1="301" x2="394.6" y2="314.6" stroke="#ff0000" stroke-width="1.1" />
<path d="M392.40000000000003 305 L396.8 305 L394.6 301 Z" fill="#ff0000" stroke="none" stroke-width="0" />
<line x1="428.2" y1="301" x2="428.2" y2="314.6" stroke="#ff0000" stroke-width="1.1" />
<path d="M426.0 305 L430.4 305 L428.2 301 Z" fill="#ff0000" stroke="none" stroke-width="0" />
<line x1="449" y1="301" x2="449" y2="314.6" stroke="#ff0000" stroke-width="1.1" />
<path d="M446.8 305 L451.2 305 L449 301 Z" fill="#ff0000" stroke="none" stroke-width="0" />
<line x1="462.8" y1="301" x2="462.8" y2="314.6" stroke="#ff0000" stroke-width="1.1" />
<path d="M460.6 305 L465.0 305 L462.8 301 Z" fill="#ff0000" stroke="none" stroke-width="0" />
<line x1="480.5" y1="301" x2="480.5" y2="314.6" stroke="#ff0000" stroke-width="1.1" />
<path d="M478.3 305 L482.7 305 L480.5 301 Z" fill="#ff0000" stroke="none" stroke-width="0" />
<line x1="376.8" y1="320" x2="376.8" y2="334" stroke="#ff0000" stroke-width="1.1" />
<path d="M374.6 330 L379.0 330 L376.8 334 Z" fill="#ff0000" stroke="none" stroke-width="0" />
<line x1="409.4" y1="320" x2="409.4" y2="334" stroke="#ff0000" stroke-width="1.1" />
<path d="M407.2 330 L411.59999999999997 330 L409.4 334 Z" fill="#ff0000" stroke="none" stroke-width="0" />
<line x1="441.6" y1="320" x2="441.6" y2="334" stroke="#ff0000" stroke-width="1.1" />
<path d="M439.40000000000003 330 L443.8 330 L441.6 334 Z" fill="#ff0000" stroke="none" stroke-width="0" />
<line x1="474.2" y1="320" x2="474.2" y2="334" stroke="#ff0000" stroke-width="1.1" />
<path d="M472.0 330 L476.4 330 L474.2 334 Z" fill="#ff0000" stroke="none" stroke-width="0" />
<path d="M292.4 136.3 Q298 146 307.6 147.3 L340 147.5" fill="none" stroke="#ff0000" stroke-width="1.3" />
<path d="M345.5 131.4 L345.5 143.3" fill="none" stroke="#ff0000" stroke-width="1.6" />
<path d="M345.5 124 L348.6 129 L342.4 129 Z" fill="#ff0000" stroke="none" stroke-width="0" />
<path d="M413 136 Q418 147 431 148 L470 148" fill="none" stroke="#ff0000" stroke-width="1.2" />
<path d="M177 143.3 L177 152 M196 143.3 L196 153" fill="none" stroke="#ff0000" stroke-width="1" />
<path d="M155 168 L176 168 M136 168.6 L149 168.6" fill="none" stroke="#ff0000" stroke-width="1" />
<path d="M430 146 L498.3 205 M449.7 161 L483.9 161 M490.4 143.3 L490.4 209 M498.3 185 L498.3 209 M466 178.5 L466 171" fill="none" stroke="#ff0000" stroke-width="1" />
<path d="M493 213 L515 213 M493 248 L515 248 M493 257 L515 257" fill="none" stroke="#ff0000" stroke-width="1" />
<!-- p95_frame -->
<line x1="0" y1="1.5" x2="860" y2="1.5" stroke="#c4c4c4" stroke-width="1.2" />
<line x1="1.4" y1="1" x2="1.4" y2="609" stroke="#c4c4c4" stroke-width="1.4" />
<line x1="0" y1="608.3" x2="860" y2="608.3" stroke="#c4c4c4" stroke-width="1.2" />
<line x1="26.2" y1="11.05" x2="853" y2="11.05" stroke="#ffffff" stroke-width="1.9" />
<line x1="26.2" y1="597.8" x2="853" y2="597.8" stroke="#ffffff" stroke-width="1.9" />
<line x1="27.6" y1="10.1" x2="27.6" y2="598.7" stroke="#ffffff" stroke-width="2.8" />
<line x1="851.5" y1="10.1" x2="851.5" y2="598.7" stroke="#ffffff" stroke-width="2.8" />
<path d="M28 11 L7 11 L7 255.3 L28 255.3" fill="none" stroke="#ffffff" stroke-width="1.3" />
<line x1="13.6" y1="11" x2="13.6" y2="255.3" stroke="#ffffff" stroke-width="1.7" />
<line x1="20.6" y1="11" x2="20.6" y2="255.3" stroke="#ffffff" stroke-width="1.5" />
<line x1="26.2" y1="11" x2="26.2" y2="255.3" stroke="#ffffff" stroke-width="1" />
<line x1="10.8" y1="100.2" x2="10.8" y2="255.3" stroke="#ffffff" stroke-width="0.9" />
<line x1="16.9" y1="100.2" x2="16.9" y2="255.3" stroke="#ffffff" stroke-width="0.9" />
<line x1="23" y1="100.2" x2="23" y2="255.3" stroke="#ffffff" stroke-width="0.9" />
<line x1="13.6" y1="38.2" x2="28" y2="38.2" stroke="#ffffff" stroke-width="1.1" />
<line x1="13.6" y1="53.1" x2="28" y2="53.1" stroke="#ffffff" stroke-width="1.1" />
<line x1="7" y1="83" x2="28" y2="83" stroke="#ffffff" stroke-width="1.2" />
<line x1="7" y1="100.2" x2="28" y2="100.2" stroke="#ffffff" stroke-width="1.2" />
<line x1="7" y1="126.3" x2="28" y2="126.3" stroke="#ffffff" stroke-width="1.2" />
<line x1="7" y1="152.6" x2="28" y2="152.6" stroke="#ffffff" stroke-width="1.2" />
<line x1="7" y1="178.2" x2="28" y2="178.2" stroke="#ffffff" stroke-width="1.2" />
<line x1="7" y1="204" x2="28" y2="204" stroke="#ffffff" stroke-width="1.2" />
<line x1="7" y1="229.5" x2="28" y2="229.5" stroke="#ffffff" stroke-width="1.2" />
<rect x="14.5" y="42.4" width="4.8" height="6.5" fill="#ffffff" />
<rect x="21.4" y="43" width="5.3" height="6" fill="#ffffff" />
<rect x="8.1" y="84" width="5.2" height="15" fill="#ffffff" />
<rect x="15" y="87.4" width="4.3" height="6.4" fill="#ffffff" />
<rect x="21.4" y="84" width="5.3" height="15" fill="#ffffff" />
<rect x="7.5" y="101.7" width="3.3" height="14.5" fill="#ffffff" />
<rect x="7.5" y="127.8" width="3.3" height="14.5" fill="#ffffff" />
<rect x="7.5" y="154.1" width="3.3" height="14.5" fill="#ffffff" />
<rect x="10.8" y="158.1" width="15.4" height="11.5" fill="#ffffff" />
<rect x="14" y="154.1" width="1.5" height="4.0" fill="#ffffff" />
<rect x="17.5" y="154.1" width="1.5" height="4.0" fill="#ffffff" />
<rect x="21" y="154.1" width="1.5" height="4.0" fill="#ffffff" />
<rect x="12.2" y="169.6" width="1.2" height="7.0" fill="#212830" />
<rect x="15.7" y="169.6" width="1.2" height="7.0" fill="#212830" />
<rect x="19.2" y="169.6" width="1.2" height="7.0" fill="#212830" />
<rect x="22.7" y="169.6" width="1.2" height="7.0" fill="#212830" />
<rect x="7.5" y="179.7" width="3.3" height="14.5" fill="#ffffff" />
<rect x="7.5" y="205.5" width="3.3" height="14.5" fill="#ffffff" />
<rect x="7.5" y="231.0" width="3.3" height="14.5" fill="#ffffff" />
<rect x="10.8" y="235.0" width="15.4" height="11.5" fill="#ffffff" />
<rect x="14" y="231.0" width="1.5" height="4.0" fill="#ffffff" />
<rect x="17.5" y="231.0" width="1.5" height="4.0" fill="#ffffff" />
<rect x="21" y="231.0" width="1.5" height="4.0" fill="#ffffff" />
<rect x="12.2" y="246.5" width="1.2" height="7.0" fill="#212830" />
<rect x="15.7" y="246.5" width="1.2" height="7.0" fill="#212830" />
<rect x="19.2" y="246.5" width="1.2" height="7.0" fill="#212830" />
<rect x="22.7" y="246.5" width="1.2" height="7.0" fill="#212830" />
<line x1="780.3" y1="11" x2="780.3" y2="597.5" stroke="#ffffff" stroke-width="1.8" />
<line x1="780" y1="66" x2="852" y2="66" stroke="#ffffff" stroke-width="1.5" />
<line x1="780" y1="101" x2="852" y2="101" stroke="#ffffff" stroke-width="1.5" />
<line x1="780" y1="136.3" x2="852" y2="136.3" stroke="#ffffff" stroke-width="1.5" />
<line x1="780" y1="171.2" x2="852" y2="171.2" stroke="#ffffff" stroke-width="1.5" />
<line x1="780" y1="206.2" x2="852" y2="206.2" stroke="#ffffff" stroke-width="1.5" />
<line x1="780" y1="241.2" x2="852" y2="241.2" stroke="#ffffff" stroke-width="1.5" />
<line x1="780" y1="282" x2="852" y2="282" stroke="#ffffff" stroke-width="1.5" />
<line x1="780" y1="307.8" x2="852" y2="307.8" stroke="#ffffff" stroke-width="1.5" />
<line x1="780" y1="331.9" x2="852" y2="331.9" stroke="#ffffff" stroke-width="1.5" />
<line x1="780" y1="357" x2="852" y2="357" stroke="#ffffff" stroke-width="1.5" />
<line x1="780" y1="382.5" x2="852" y2="382.5" stroke="#ffffff" stroke-width="1.5" />
<line x1="780" y1="407.8" x2="852" y2="407.8" stroke="#ffffff" stroke-width="1.5" />
<line x1="780" y1="454.4" x2="852" y2="454.4" stroke="#ffffff" stroke-width="1.5" />
<line x1="780" y1="251" x2="852" y2="251" stroke="#ffffff" stroke-width="1" />
<line x1="780" y1="261.4" x2="852" y2="261.4" stroke="#ffffff" stroke-width="1" />
<line x1="780" y1="271.5" x2="852" y2="271.5" stroke="#ffffff" stroke-width="1" />
<line x1="797.6" y1="241.2" x2="797.6" y2="282" stroke="#ffffff" stroke-width="1" />
<line x1="815.4" y1="241.2" x2="815.4" y2="282" stroke="#ffffff" stroke-width="1" />
<line x1="833.1" y1="241.2" x2="833.1" y2="282" stroke="#ffffff" stroke-width="1" />
<line x1="780" y1="464.4" x2="852" y2="464.4" stroke="#ffffff" stroke-width="1.5" />
<line x1="780" y1="475" x2="852" y2="475" stroke="#ffffff" stroke-width="1.5" />
<line x1="780" y1="485" x2="852" y2="485" stroke="#ffffff" stroke-width="1.5" />
<line x1="780" y1="495" x2="852" y2="495" stroke="#ffffff" stroke-width="1.5" />
<line x1="780" y1="505.6" x2="852" y2="505.6" stroke="#ffffff" stroke-width="1.5" />
<line x1="780" y1="515.6" x2="852" y2="515.6" stroke="#ffffff" stroke-width="1.5" />
<line x1="780" y1="526" x2="852" y2="526" stroke="#ffffff" stroke-width="1.5" />
<line x1="780" y1="536" x2="852" y2="536" stroke="#ffffff" stroke-width="1.5" />
<line x1="780" y1="546.4" x2="852" y2="546.4" stroke="#ffffff" stroke-width="1.5" />
<line x1="780" y1="556.7" x2="852" y2="556.7" stroke="#ffffff" stroke-width="1.5" />
<line x1="780" y1="567" x2="852" y2="567" stroke="#ffffff" stroke-width="1.5" />
<line x1="780" y1="577.2" x2="852" y2="577.2" stroke="#ffffff" stroke-width="1.5" />
<line x1="780" y1="587.5" x2="852" y2="587.5" stroke="#ffffff" stroke-width="1.5" />
<line x1="802.8" y1="464.4" x2="802.8" y2="577.2" stroke="#ffffff" stroke-width="1.2" />
<line x1="827" y1="464.4" x2="827" y2="577.2" stroke="#ffffff" stroke-width="1.2" />
<rect x="808" y="20.9" width="18.1" height="20.8" fill="#ffffff" />
<rect x="805.1" y="23" width="2.9" height="18.7" fill="#ffffff" />
<line x1="807.4" y1="23.5" x2="807.4" y2="41" stroke="#555" stroke-width="0.6" />
<path d="M814.5 40 v-14.5 h6 v6.5 h-5" fill="none" stroke="#ddd" stroke-width="0.7" />
<text x="815.4" y="49.8" font-size="6.2" fill="#ffffff" text-anchor="middle" font-weight="bold" stroke="#fff" stroke-width="0.12" textLength="67" lengthAdjust="spacingAndGlyphs">厦门合道工程设计集团有限公司</text>
<text x="815" y="55.5" font-size="3.2" fill="#ffffff" text-anchor="middle" textLength="54" lengthAdjust="spacingAndGlyphs">XIAMEN HORDOR ARCHITECTURE&amp;ENG.</text>
<text x="815" y="60.5" font-size="4.2" fill="#ffffff" text-anchor="middle" font-weight="bold" stroke="#fff" stroke-width="0.12" textLength="57" lengthAdjust="spacingAndGlyphs">建筑行业甲级 城乡规划 市政公用 风景园林</text>
<rect x="781.5" y="67" width="5.5" height="4.5" fill="#ffffff" />
<rect x="781.5" y="71.5" width="8.5" height="3.5" fill="#ffffff" />
<rect x="781.5" y="103" width="9.5" height="4" fill="#ffffff" />
<rect x="781.5" y="107.5" width="14.5" height="4.0" fill="#ffffff" />
<rect x="781.5" y="138" width="16.5" height="4" fill="#ffffff" />
<rect x="781.5" y="143" width="18.0" height="3.7" fill="#ffffff" />
<rect x="781.5" y="284.4" width="22.5" height="4.2" fill="#ffffff" />
<rect x="781.5" y="290" width="14.5" height="3.7" fill="#ffffff" />
<rect x="781.5" y="310.5" width="32.9" height="4.2" fill="#ffffff" />
<rect x="781.5" y="314.7" width="19.3" height="3.7" fill="#ffffff" />
<rect x="781.5" y="334" width="7.0" height="7" fill="#ffffff" />
<rect x="781.5" y="359" width="12.5" height="3.7" fill="#ffffff" />
<rect x="781.5" y="364" width="14.5" height="3" fill="#ffffff" />
<rect x="781.5" y="385" width="12.5" height="6" fill="#ffffff" />
<rect x="781.5" y="410" width="5.5" height="3" fill="#ffffff" />
<rect x="781.5" y="415" width="15.5" height="3.7" fill="#ffffff" />
<rect x="781.5" y="274" width="15.0" height="7" fill="#ffffff" />
<rect x="787.5" y="272" width="4.5" height="4.5" fill="#212830" />
<rect x="799" y="274" width="15.5" height="7" fill="#ffffff" />
<rect x="805.25" y="272" width="4.5" height="4.5" fill="#212830" />
<rect x="816.5" y="274" width="15.5" height="7" fill="#ffffff" />
<rect x="822.75" y="272" width="4.5" height="4.5" fill="#212830" />
<rect x="834.5" y="274" width="13.5" height="7" fill="#ffffff" />
<rect x="839.75" y="272" width="4.5" height="4.5" fill="#212830" />
<text x="783" y="269.5" font-size="5.5" fill="#ffffff" textLength="9.5" lengthAdjust="spacingAndGlyphs">A-0</text>
<text x="799" y="269.5" font-size="5.5" fill="#ffffff" textLength="15" lengthAdjust="spacingAndGlyphs">2015.04</text>
<text x="815" y="302.8" font-size="6" fill="#ffffff" text-anchor="middle" font-weight="bold" stroke="#fff" stroke-width="0.12" textLength="62" lengthAdjust="spacingAndGlyphs">福建省建设工程施工图审查中心</text>
<text x="814.5" y="351.2" font-size="6.8" fill="#ffffff" text-anchor="middle" font-weight="bold" stroke="#fff" stroke-width="0.12" textLength="45" lengthAdjust="spacingAndGlyphs">厦门海投房地产有限公司</text>
<text x="816" y="378.2" font-size="6.8" fill="#ffffff" text-anchor="middle" font-weight="bold" stroke="#fff" stroke-width="0.12" textLength="68" lengthAdjust="spacingAndGlyphs">海沧H2015P01地块(马銮湾)商住项目</text>
<text x="818" y="401.6" font-size="6.8" fill="#ffffff" text-anchor="middle" font-weight="bold" stroke="#fff" stroke-width="0.12" textLength="8" lengthAdjust="spacingAndGlyphs">总图</text>
<text x="813" y="436.3" font-size="6.8" fill="#ffffff" text-anchor="middle" font-weight="bold" stroke="#fff" stroke-width="0.12" textLength="18" lengthAdjust="spacingAndGlyphs">?平面图?</text>
<text x="823" y="463" font-size="7.6" fill="#ffffff" text-anchor="middle" textLength="27.5" lengthAdjust="spacingAndGlyphs">13231-SP</text>
<rect x="781.5" y="455.9" width="13.5" height="4.0" fill="#ffffff" />
<rect x="781.5" y="459.9" width="10.8" height="3.5" fill="#ffffff" />
<rect x="781.5" y="465.9" width="19.0" height="4.6" fill="#ffffff" />
<rect x="781.5" y="470.5" width="15.2" height="3.5" fill="#ffffff" />
<rect x="781.5" y="476.5" width="18.0" height="4.0" fill="#ffffff" />
<rect x="781.5" y="480.5" width="14.4" height="3.5" fill="#ffffff" />
<rect x="781.5" y="486.5" width="19.0" height="4.0" fill="#ffffff" />
<rect x="781.5" y="490.5" width="15.2" height="3.5" fill="#ffffff" />
<rect x="781.5" y="496.5" width="16.5" height="4.6" fill="#ffffff" />
<rect x="781.5" y="501.1" width="13.2" height="3.5" fill="#ffffff" />
<rect x="781.5" y="507.1" width="13.0" height="4.0" fill="#ffffff" />
<rect x="781.5" y="511.1" width="10.4" height="3.5" fill="#ffffff" />
<rect x="781.5" y="517.1" width="11.0" height="4.4" fill="#ffffff" />
<rect x="781.5" y="521.5" width="8.8" height="3.5" fill="#ffffff" />
<rect x="781.5" y="527.5" width="12.5" height="4.0" fill="#ffffff" />
<rect x="781.5" y="531.5" width="10.0" height="3.5" fill="#ffffff" />
<rect x="781.5" y="537.5" width="16.0" height="4.4" fill="#ffffff" />
<rect x="781.5" y="541.9" width="12.8" height="3.5" fill="#ffffff" />
<rect x="781.5" y="547.9" width="15.5" height="4.3" fill="#ffffff" />
<rect x="781.5" y="552.2" width="12.4" height="3.5" fill="#ffffff" />
<rect x="781.5" y="558.2" width="9.5" height="4.3" fill="#ffffff" />
<rect x="781.5" y="562.5" width="7.6" height="3.5" fill="#ffffff" />
<rect x="781.5" y="568.5" width="13.0" height="4.2" fill="#ffffff" />
<rect x="781.5" y="572.7" width="10.4" height="3.5" fill="#ffffff" />
<rect x="781.5" y="578.7" width="10.0" height="4.3" fill="#ffffff" />
<rect x="781.5" y="583.0" width="8.0" height="3.5" fill="#ffffff" />
<text x="815" y="471.7" font-size="5" fill="#ffffff" text-anchor="middle" font-weight="bold" stroke="#fff" stroke-width="0.12" textLength="12" lengthAdjust="spacingAndGlyphs">项目负责</text>
<text x="815" y="482.0" font-size="5" fill="#ffffff" text-anchor="middle" font-weight="bold" stroke="#fff" stroke-width="0.12" textLength="12" lengthAdjust="spacingAndGlyphs">专业负责</text>
<text x="815" y="492.0" font-size="5" fill="#ffffff" text-anchor="middle" font-weight="bold" stroke="#fff" stroke-width="0.12" textLength="12" lengthAdjust="spacingAndGlyphs">设 计</text>
<text x="815" y="502.3" font-size="5" fill="#ffffff" text-anchor="middle" font-weight="bold" stroke="#fff" stroke-width="0.12" textLength="12" lengthAdjust="spacingAndGlyphs">——</text>
<text x="815" y="512.6" font-size="5" fill="#ffffff" text-anchor="middle" font-weight="bold" stroke="#fff" stroke-width="0.12" textLength="12" lengthAdjust="spacingAndGlyphs">审 定</text>
<text x="815" y="522.8" font-size="5" fill="#ffffff" text-anchor="middle" font-weight="bold" stroke="#fff" stroke-width="0.12" textLength="12" lengthAdjust="spacingAndGlyphs">审 核</text>
<text x="815" y="533.0" font-size="5" fill="#ffffff" text-anchor="middle" font-weight="bold" stroke="#fff" stroke-width="0.12" textLength="12" lengthAdjust="spacingAndGlyphs">校 对</text>
<text x="815" y="543.2" font-size="5" fill="#ffffff" text-anchor="middle" font-weight="bold" stroke="#fff" stroke-width="0.12" textLength="12" lengthAdjust="spacingAndGlyphs">制 图</text>
<text x="815" y="553.55" font-size="5" fill="#ffffff" text-anchor="middle" font-weight="bold" stroke="#fff" stroke-width="0.12" textLength="12" lengthAdjust="spacingAndGlyphs">户型</text>
<text x="815" y="563.85" font-size="5" fill="#ffffff" text-anchor="middle" font-weight="bold" stroke="#fff" stroke-width="0.12" textLength="12" lengthAdjust="spacingAndGlyphs">设 计</text>
<text x="815" y="574.1" font-size="5" fill="#ffffff" text-anchor="middle" font-weight="bold" stroke="#fff" stroke-width="0.12" textLength="12" lengthAdjust="spacingAndGlyphs">设 计</text>
<text x="840" y="497" font-size="5" fill="#ffffff" text-anchor="middle">——</text>
<line x1="804" y1="526" x2="826" y2="516" stroke="#ffffff" stroke-width="1" />
<line x1="804" y1="536" x2="826" y2="526" stroke="#ffffff" stroke-width="1" />
<rect x="788.5" y="578.5" width="11.5" height="7.5" fill="#ffffff" />
<rect x="803" y="578.5" width="3" height="7.5" fill="#ffffff" />
<text x="795" y="584.5" font-size="4" fill="#212830" text-anchor="middle">图号</text>
<text x="829.5" y="585.6" font-size="7.6" fill="#ffffff" text-anchor="middle" textLength="17" lengthAdjust="spacingAndGlyphs">SP-01</text>
<rect x="781.5" y="588.5" width="19.5" height="3.5" fill="#ffffff" />
<rect x="781.5" y="592" width="21.5" height="4" fill="#ffffff" />
<rect x="839.5" y="599.7" width="12.5" height="2.8" fill="#ffffff" />
</svg>
</body></html>
